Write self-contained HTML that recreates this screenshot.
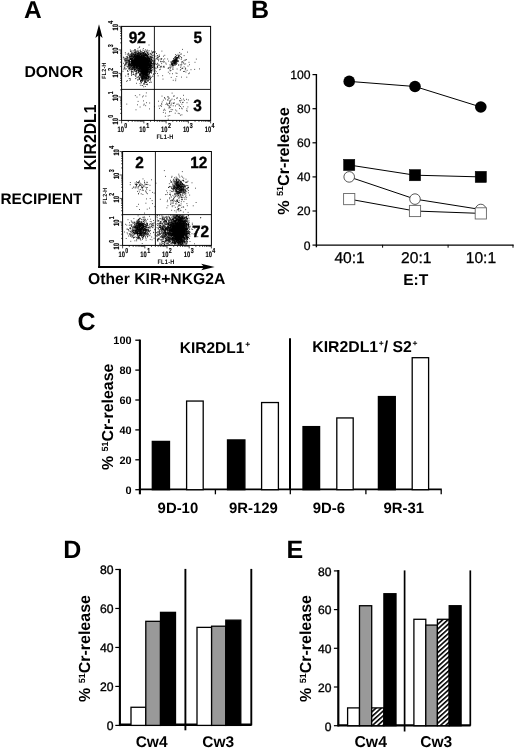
<!DOCTYPE html>
<html lang="en"><head><meta charset="utf-8"><title>Figure</title>
<style>html,body{margin:0;padding:0;background:#fff}svg{display:block;will-change:transform}</style></head>
<body>
<svg width="520" height="749" viewBox="0 0 520 749" font-family='"Liberation Sans", Arial, Helvetica, sans-serif' fill="#000" text-rendering="geometricPrecision">
<rect width="520" height="749" fill="#fff"/>
<text x="24" y="18.1" font-size="24.5" font-weight="bold" text-anchor="start" >A</text>
<text x="24.4" y="77.1" font-size="15.8" font-weight="bold" text-anchor="start" >DONOR</text>
<text x="0.4" y="204.2" font-size="15.4" font-weight="bold" text-anchor="start" >RECIPIENT</text>
<text transform="translate(95.6,170.3) scale(1.1,1) rotate(-90)" font-size="15.8" font-weight="bold">KIR2DL1</text>
<text x="88" y="283.6" font-size="15.7" font-weight="bold" text-anchor="start" >Other KIR+NKG2A</text>
<line x1="99.15" y1="30" x2="99.15" y2="267.9" stroke="#000" stroke-width="1.9"/>
<line x1="98.2" y1="267.0" x2="206" y2="267.0" stroke="#000" stroke-width="1.8"/>
<path d="M99 24.2 L102.6 38 L99 35 L95.4 38 Z"/>
<path d="M214.7 267 L201.2 263.7 L204.1 267 L201.2 270.3 Z"/>
<path d="M138.3 63.8h0.8M138.8 60.3h0.8M134.6 60.3h0.8M146.3 64.3h0.8M146.0 63.5h0.8M142.2 62.8h0.8M129.9 64.5h0.8M142.8 64.2h0.8M130.8 53.3h0.8M135.0 59.3h0.8M141.8 61.8h0.8M143.3 59.4h0.8M141.6 63.7h0.8M135.4 68.8h0.8M142.8 67.2h0.8M136.7 58.3h0.8M138.0 61.1h0.8M143.6 63.2h0.8M137.8 57.4h0.8M136.4 66.7h0.8M135.2 62.4h0.8M143.1 55.7h0.8M139.7 67.4h0.8M128.3 59.2h0.8M139.7 58.2h0.8M142.9 61.8h0.8M131.0 64.5h0.8M143.5 66.2h0.8M148.3 64.2h0.8M141.3 56.3h0.8M143.9 59.5h0.8M137.9 56.1h0.8M134.5 59.0h0.8M148.4 53.9h0.8M131.3 62.0h0.8M148.2 65.1h0.8M129.9 49.9h0.8M142.4 58.9h0.8M133.0 65.3h0.8M146.4 63.1h0.8M141.3 63.8h0.8M149.1 65.4h0.8M142.8 64.4h0.8M130.2 66.4h0.8M145.4 64.6h0.8M128.7 57.9h0.8M145.7 54.5h0.8M138.5 66.1h0.8M131.6 67.9h0.8M143.3 61.5h0.8M141.6 64.8h0.8M140.2 66.8h0.8M136.3 59.6h0.8M146.1 62.5h0.8M134.4 65.3h0.8M148.8 60.8h0.8M132.0 60.4h0.8M139.3 60.4h0.8M148.7 58.2h0.8M147.9 57.1h0.8M135.1 64.0h0.8M146.3 66.1h0.8M142.0 62.6h0.8M140.6 64.4h0.8M138.8 62.9h0.8M143.4 62.1h0.8M144.2 64.7h0.8M151.7 64.4h0.8M137.6 60.0h0.8M139.5 65.7h0.8M137.9 63.3h0.8M151.9 51.9h0.8M133.3 62.2h0.8M142.2 63.1h0.8M137.2 64.3h0.8M141.9 59.7h0.8M154.1 64.8h0.8M136.8 61.0h0.8M138.7 61.4h0.8M124.2 58.1h0.8M146.4 57.4h0.8M139.2 65.8h0.8M144.4 68.7h0.8M130.2 59.3h0.8M137.7 64.3h0.8M147.6 51.0h0.8M147.0 56.2h0.8M144.7 55.8h0.8M140.5 67.0h0.8M139.0 62.5h0.8M144.6 62.9h0.8M138.8 68.3h0.8M146.3 61.2h0.8M156.6 58.5h0.8M145.5 61.2h0.8M140.5 64.9h0.8M141.0 64.7h0.8M131.7 54.4h0.8M144.0 58.0h0.8M134.6 54.9h0.8M147.1 65.7h0.8M149.1 58.7h0.8M140.5 56.9h0.8M143.8 69.1h0.8M134.1 68.0h0.8M145.9 61.6h0.8M127.8 66.7h0.8M139.7 59.2h0.8M142.2 63.8h0.8M149.2 58.3h0.8M146.0 68.8h0.8M148.6 61.9h0.8M135.2 65.7h0.8M140.6 62.4h0.8M148.5 61.5h0.8M126.7 58.8h0.8M128.8 64.2h0.8M142.1 59.4h0.8M139.6 65.4h0.8M139.9 67.5h0.8M139.2 66.2h0.8M148.1 69.6h0.8M135.7 65.2h0.8M129.5 56.1h0.8M128.0 65.2h0.8M132.8 61.0h0.8M138.9 61.6h0.8M136.4 62.5h0.8M150.5 63.0h0.8M142.7 66.4h0.8M139.4 56.3h0.8M136.3 66.1h0.8M130.6 58.3h0.8M145.6 65.8h0.8M139.7 65.2h0.8M141.5 56.9h0.8M131.1 58.1h0.8M145.7 59.9h0.8M135.0 58.0h0.8M131.1 60.4h0.8M132.9 62.7h0.8M126.0 61.8h0.8M137.1 53.1h0.8M144.4 61.0h0.8M127.3 56.7h0.8M141.9 60.0h0.8M144.3 65.5h0.8M143.8 63.6h0.8M147.5 65.4h0.8M143.5 53.1h0.8M144.7 67.9h0.8M138.5 59.6h0.8M152.1 55.4h0.8M141.7 72.4h0.8M134.3 64.2h0.8M151.1 62.4h0.8M142.9 66.0h0.8M134.7 60.9h0.8M141.4 65.5h0.8M139.9 60.9h0.8M134.2 59.7h0.8M145.2 62.8h0.8M135.4 57.7h0.8M155.2 68.2h0.8M144.9 51.1h0.8M143.4 64.2h0.8M149.7 64.6h0.8M139.4 64.0h0.8M128.1 65.1h0.8M142.2 59.0h0.8M147.0 70.3h0.8M132.1 58.1h0.8M141.6 62.8h0.8M138.1 57.4h0.8M152.0 67.5h0.8M133.6 55.3h0.8M149.6 67.0h0.8M150.3 66.3h0.8M134.8 62.4h0.8M127.6 57.3h0.8M139.4 64.0h0.8M135.8 60.8h0.8M142.5 63.7h0.8M143.7 63.1h0.8M137.8 65.0h0.8M140.6 58.3h0.8M136.3 61.4h0.8M139.3 62.4h0.8M139.9 62.6h0.8M139.8 56.3h0.8M142.0 66.6h0.8M142.6 61.2h0.8M143.0 57.9h0.8M128.8 60.9h0.8M134.2 64.4h0.8M134.8 49.9h0.8M133.2 67.9h0.8M138.3 55.7h0.8M135.3 63.6h0.8M142.8 62.8h0.8M148.4 65.7h0.8M139.6 64.3h0.8M149.3 66.9h0.8M146.5 57.8h0.8M138.8 64.8h0.8M137.8 66.2h0.8M143.1 66.0h0.8M137.7 72.6h0.8M147.4 61.6h0.8M139.4 73.0h0.8M137.6 65.3h0.8M145.8 62.4h0.8M133.1 61.9h0.8M141.6 66.8h0.8M144.6 62.4h0.8M144.8 64.6h0.8M141.2 62.2h0.8M138.3 64.6h0.8M134.1 58.5h0.8M140.7 55.5h0.8M138.3 52.9h0.8M135.7 63.8h0.8M143.3 61.9h0.8M139.2 55.6h0.8M150.5 65.1h0.8M146.8 58.7h0.8M139.7 53.9h0.8M144.2 66.3h0.8M128.9 60.5h0.8M144.5 54.6h0.8M129.7 56.2h0.8M136.9 55.4h0.8M140.1 62.9h0.8M143.4 65.2h0.8M148.3 67.7h0.8M132.5 58.9h0.8M134.2 56.6h0.8M139.5 61.8h0.8M143.6 55.3h0.8M132.7 61.0h0.8M139.0 60.4h0.8M140.0 58.5h0.8M144.0 63.7h0.8M139.8 58.9h0.8M140.1 50.1h0.8M134.2 61.4h0.8M131.1 61.8h0.8M141.5 56.0h0.8M138.7 60.3h0.8M142.4 64.7h0.8M140.2 58.1h0.8M139.2 61.4h0.8M144.2 63.5h0.8M136.3 55.6h0.8M138.1 58.4h0.8M133.5 60.6h0.8M137.1 62.0h0.8M143.2 60.3h0.8M153.8 61.8h0.8M146.4 63.0h0.8M147.6 52.3h0.8M135.5 62.4h0.8M142.5 72.2h0.8M141.3 67.5h0.8M144.1 66.3h0.8M143.1 61.4h0.8M143.5 57.5h0.8M147.4 58.1h0.8M140.6 71.0h0.8M138.7 61.8h0.8M146.8 62.6h0.8M135.1 62.4h0.8M143.1 65.2h0.8M134.7 68.8h0.8M149.8 62.9h0.8M141.8 60.1h0.8M148.6 59.6h0.8M144.2 60.1h0.8M135.6 64.5h0.8M147.8 62.5h0.8M135.7 64.9h0.8M139.6 63.1h0.8M148.5 67.5h0.8M136.0 71.3h0.8M139.7 65.2h0.8M136.2 61.2h0.8M129.0 68.4h0.8M148.5 57.4h0.8M131.9 54.0h0.8M147.1 60.5h0.8M139.8 60.4h0.8M139.8 57.1h0.8M140.8 55.7h0.8M139.4 63.1h0.8M142.8 61.1h0.8M134.6 62.0h0.8M136.5 68.2h0.8M144.6 61.8h0.8M137.5 58.5h0.8M134.6 59.7h0.8M141.5 64.2h0.8M142.4 71.1h0.8M135.9 61.4h0.8M157.2 55.5h0.8M136.9 62.2h0.8M140.7 63.6h0.8M138.4 63.2h0.8M140.0 65.1h0.8M129.3 56.9h0.8M140.4 57.4h0.8M133.6 63.9h0.8M135.9 64.1h0.8M144.2 63.6h0.8M143.0 61.7h0.8M131.7 60.8h0.8M142.9 59.8h0.8M139.1 64.9h0.8M134.6 64.0h0.8M151.2 60.5h0.8M140.9 61.2h0.8M148.9 64.1h0.8M145.6 59.4h0.8M139.9 61.7h0.8M129.0 66.9h0.8M146.0 54.8h0.8M144.4 61.7h0.8M142.5 63.6h0.8M131.3 60.0h0.8M149.0 60.2h0.8M134.6 55.4h0.8M132.7 62.5h0.8M149.8 64.6h0.8M140.5 71.5h0.8M137.2 58.6h0.8M142.9 64.5h0.8M134.5 56.2h0.8M141.6 63.0h0.8M132.4 60.2h0.8M136.6 63.4h0.8M139.4 61.4h0.8M137.5 66.1h0.8M148.3 61.0h0.8M145.3 59.1h0.8M140.1 65.1h0.8M149.1 61.1h0.8M139.5 62.6h0.8M131.2 61.0h0.8M135.9 63.0h0.8M134.2 52.7h0.8M140.1 62.9h0.8M136.4 65.3h0.8M138.7 59.0h0.8M143.5 55.4h0.8M136.0 61.3h0.8M145.1 61.6h0.8M142.1 59.2h0.8M141.1 69.1h0.8M135.0 71.5h0.8M136.2 61.5h0.8M140.6 66.3h0.8M133.6 52.1h0.8M143.2 65.6h0.8M142.5 73.4h0.8M141.1 63.0h0.8M145.3 63.9h0.8M150.3 57.5h0.8M139.3 46.8h0.8M144.9 60.7h0.8M144.5 71.6h0.8M140.1 60.7h0.8M137.4 57.9h0.8M136.0 64.2h0.8M140.2 62.1h0.8M138.6 65.6h0.8M143.0 61.5h0.8M144.0 61.5h0.8M132.6 67.3h0.8M143.1 58.0h0.8M146.2 63.9h0.8M130.1 67.8h0.8M141.6 65.8h0.8M141.2 61.3h0.8M130.5 65.0h0.8M140.3 60.6h0.8M142.0 62.3h0.8M144.1 60.6h0.8M140.7 52.6h0.8M137.2 64.4h0.8M148.0 61.0h0.8M138.6 68.5h0.8M137.8 64.7h0.8M149.8 63.0h0.8M147.5 59.5h0.8M141.3 61.6h0.8M140.2 66.7h0.8M154.3 60.4h0.8M136.4 63.6h0.8M133.6 63.3h0.8M143.5 60.9h0.8M143.8 55.5h0.8M145.1 55.6h0.8M136.2 59.0h0.8M137.3 65.2h0.8M140.6 60.1h0.8M142.5 68.9h0.8M139.9 63.4h0.8M147.2 63.7h0.8M131.4 71.7h0.8M153.8 54.6h0.8M139.6 63.6h0.8M145.4 65.2h0.8M138.9 57.1h0.8M140.2 66.3h0.8M134.0 56.8h0.8M140.7 53.5h0.8M138.7 59.8h0.8M142.9 59.1h0.8M135.0 59.6h0.8M140.0 58.9h0.8M139.7 65.0h0.8M146.2 69.8h0.8M135.6 59.5h0.8M124.6 68.5h0.8M135.8 61.2h0.8M143.7 56.3h0.8M142.7 62.0h0.8M129.2 62.0h0.8M147.8 54.5h0.8M144.6 63.2h0.8M142.6 64.0h0.8M147.8 61.6h0.8M145.3 60.6h0.8M144.6 58.7h0.8M138.6 69.1h0.8M142.7 61.4h0.8M133.6 57.7h0.8M140.7 65.9h0.8M142.3 64.3h0.8M139.2 67.6h0.8M137.9 59.2h0.8M145.2 62.6h0.8M138.6 59.2h0.8M138.2 64.3h0.8M142.6 56.8h0.8M142.4 62.8h0.8M133.8 64.5h0.8M138.5 60.2h0.8M144.1 67.9h0.8M135.8 63.3h0.8M133.9 71.2h0.8M136.6 66.6h0.8M135.9 64.9h0.8M154.1 52.2h0.8M137.2 63.7h0.8M139.7 58.9h0.8M152.6 63.4h0.8M130.0 64.5h0.8M129.4 65.7h0.8M136.5 62.1h0.8M147.4 63.0h0.8M132.6 53.7h0.8M146.6 65.7h0.8M134.8 65.0h0.8M142.6 64.9h0.8M126.9 59.2h0.8M145.0 65.5h0.8M146.2 51.8h0.8M140.8 64.0h0.8M155.4 59.2h0.8M138.1 61.8h0.8M145.4 60.4h0.8M147.1 59.1h0.8M141.8 59.7h0.8M141.2 58.9h0.8M130.2 65.5h0.8M142.0 59.6h0.8M140.8 66.2h0.8M134.3 60.8h0.8M142.9 64.4h0.8M138.9 52.6h0.8M147.2 63.9h0.8M140.2 60.6h0.8M141.7 60.1h0.8M134.3 58.0h0.8M136.8 58.8h0.8M132.9 63.8h0.8M132.0 63.9h0.8M133.9 62.7h0.8M148.0 63.5h0.8M135.7 61.6h0.8M141.6 54.5h0.8M136.4 62.1h0.8M137.2 61.9h0.8M144.0 65.5h0.8M145.1 64.9h0.8M138.3 61.6h0.8M138.5 60.3h0.8M139.7 54.3h0.8M138.1 61.5h0.8M134.3 61.1h0.8M143.1 61.4h0.8M153.3 51.9h0.8M139.6 53.9h0.8M144.6 73.7h0.8M125.3 60.9h0.8M143.2 60.8h0.8M144.2 52.5h0.8M144.8 63.9h0.8M140.4 59.3h0.8M144.0 60.1h0.8M141.5 59.7h0.8M126.8 60.3h0.8M140.9 65.1h0.8M134.9 61.1h0.8M143.6 62.8h0.8M146.4 71.1h0.8M135.5 53.0h0.8M144.4 68.8h0.8M145.1 65.8h0.8M136.7 58.4h0.8M145.6 58.4h0.8M129.8 56.5h0.8M153.8 71.5h0.8M136.3 58.3h0.8M141.7 58.7h0.8M147.7 62.2h0.8M133.1 66.8h0.8M136.5 62.4h0.8M140.1 60.4h0.8M142.2 59.0h0.8M130.1 51.3h0.8M132.9 57.8h0.8M139.8 62.0h0.8M143.2 62.6h0.8M135.6 58.3h0.8M127.6 59.8h0.8M142.6 64.4h0.8M139.4 61.0h0.8M145.5 62.4h0.8M144.1 64.7h0.8M140.7 67.5h0.8M136.8 59.9h0.8M135.6 57.9h0.8M148.4 70.2h0.8M139.9 64.2h0.8M146.6 65.9h0.8M147.6 57.1h0.8M136.1 63.4h0.8M148.4 63.1h0.8M135.1 59.8h0.8M136.5 57.7h0.8M149.1 60.0h0.8M139.2 71.1h0.8M146.8 63.9h0.8M136.2 63.2h0.8M149.3 65.4h0.8M147.4 63.0h0.8M143.1 61.2h0.8M141.9 67.6h0.8M131.6 60.7h0.8M141.7 59.5h0.8M137.9 65.0h0.8M151.5 65.7h0.8M142.6 55.4h0.8M151.3 63.3h0.8M140.3 57.0h0.8M140.1 57.1h0.8M140.2 63.8h0.8M140.1 63.0h0.8M134.4 67.4h0.8M136.9 53.6h0.8M139.2 58.4h0.8M134.2 59.7h0.8M142.2 56.9h0.8M138.6 67.8h0.8M144.1 61.6h0.8M140.8 61.4h0.8M139.4 64.9h0.8M140.5 51.5h0.8M140.3 58.0h0.8M144.1 59.6h0.8M139.9 71.2h0.8M134.3 56.4h0.8M132.7 50.7h0.8M128.8 62.3h0.8M137.1 53.4h0.8M131.0 63.6h0.8M135.6 59.8h0.8M141.4 67.8h0.8M151.0 67.4h0.8M140.8 62.7h0.8M150.0 69.0h0.8M138.0 63.6h0.8M141.7 62.2h0.8M137.6 55.8h0.8M137.5 54.9h0.8M147.0 64.8h0.8M132.3 67.1h0.8M146.1 54.2h0.8M150.5 66.3h0.8M152.6 57.7h0.8M142.9 63.9h0.8M141.1 62.7h0.8M146.8 56.0h0.8M133.3 55.1h0.8M137.0 58.9h0.8M142.0 63.2h0.8M140.5 58.9h0.8M137.0 65.6h0.8M144.4 62.7h0.8M137.4 68.3h0.8M136.2 64.2h0.8M146.9 61.3h0.8M145.3 57.5h0.8M145.9 63.3h0.8M130.4 63.7h0.8M134.2 66.8h0.8M136.1 60.7h0.8M141.8 60.5h0.8M141.8 59.6h0.8M143.9 62.2h0.8M142.4 50.1h0.8M146.8 62.6h0.8M129.5 61.2h0.8M142.3 66.7h0.8M133.0 67.8h0.8M138.0 72.0h0.8M138.8 64.6h0.8M138.3 56.8h0.8M146.0 66.3h0.8M148.7 66.4h0.8M137.3 54.3h0.8M136.5 58.5h0.8M135.0 63.8h0.8M142.0 60.8h0.8M141.1 61.3h0.8M140.9 65.1h0.8M145.9 59.4h0.8M130.5 67.0h0.8M140.2 66.6h0.8M130.5 59.4h0.8M140.8 55.6h0.8M136.7 64.6h0.8M145.6 69.3h0.8M135.5 55.3h0.8M142.7 66.1h0.8M141.7 56.3h0.8M144.3 65.7h0.8M143.5 60.0h0.8M141.4 65.4h0.8M137.5 53.6h0.8M141.7 64.1h0.8M139.7 65.6h0.8M136.6 61.1h0.8M138.0 64.1h0.8M149.5 61.7h0.8M151.4 69.6h0.8M144.4 64.8h0.8M150.5 62.1h0.8M139.8 57.2h0.8M142.2 67.8h0.8M142.9 63.9h0.8M138.7 62.4h0.8M131.2 65.4h0.8M138.1 56.8h0.8M135.9 57.8h0.8M144.6 66.8h0.8M131.6 65.0h0.8M145.5 59.8h0.8M131.6 57.7h0.8M136.1 62.9h0.8M138.8 52.9h0.8M142.0 55.4h0.8M145.8 57.2h0.8M136.3 57.7h0.8M136.3 67.0h0.8M144.7 64.9h0.8M142.5 55.4h0.8M137.2 59.1h0.8M134.0 63.4h0.8M136.0 58.3h0.8M134.8 52.4h0.8M142.9 67.8h0.8M141.4 57.7h0.8M124.0 60.9h0.8M147.0 63.8h0.8M144.8 68.7h0.8M146.8 60.6h0.8M145.8 65.7h0.8M131.2 59.2h0.8M131.7 60.5h0.8M143.9 57.6h0.8M127.4 66.1h0.8M141.6 68.3h0.8M131.8 65.6h0.8M151.3 71.6h0.8M138.7 62.8h0.8M138.7 66.0h0.8M146.1 62.8h0.8M131.7 64.2h0.8M137.0 64.2h0.8M140.8 68.9h0.8M146.9 60.5h0.8M141.3 69.6h0.8M136.7 63.3h0.8M146.5 67.9h0.8M143.6 56.5h0.8M132.5 62.1h0.8M141.2 72.9h0.8M134.5 66.2h0.8M145.2 55.1h0.8M135.1 62.0h0.8M137.2 60.8h0.8M143.1 58.6h0.8M143.0 59.4h0.8M136.6 63.8h0.8M136.5 62.7h0.8M149.4 62.9h0.8M138.8 64.9h0.8M137.4 66.2h0.8M132.2 63.7h0.8M137.3 58.1h0.8M150.8 59.2h0.8M150.0 65.7h0.8M148.9 58.5h0.8M146.4 68.7h0.8M139.4 61.2h0.8M154.3 64.0h0.8M137.8 58.9h0.8M142.5 63.5h0.8M140.3 69.3h0.8M137.9 63.6h0.8M149.0 58.4h0.8M145.3 70.3h0.8M132.5 56.3h0.8M134.7 53.3h0.8M143.5 54.1h0.8M142.3 68.3h0.8M130.7 59.5h0.8M128.4 64.0h0.8M135.8 60.2h0.8M140.1 64.2h0.8M138.0 61.7h0.8M136.7 62.0h0.8M133.1 61.4h0.8M128.9 58.6h0.8M151.2 63.3h0.8M132.5 62.2h0.8M135.0 54.2h0.8M135.4 64.5h0.8M142.3 61.6h0.8M135.0 56.6h0.8M147.8 63.6h0.8M135.3 52.2h0.8M130.9 71.6h0.8M133.3 60.8h0.8M141.3 61.2h0.8M139.0 55.8h0.8M133.1 68.4h0.8M135.2 65.0h0.8M130.2 59.6h0.8M141.1 66.4h0.8M133.2 63.7h0.8M142.6 58.9h0.8M143.2 58.2h0.8M135.3 61.3h0.8M124.1 59.7h0.8M134.8 55.0h0.8M137.2 64.8h0.8M137.1 67.0h0.8M133.8 55.5h0.8M148.9 64.4h0.8M145.9 58.8h0.8M144.6 63.4h0.8M143.8 62.3h0.8M147.4 59.7h0.8M135.0 54.9h0.8M147.1 59.3h0.8M134.3 57.2h0.8M137.9 56.1h0.8M138.6 58.9h0.8M137.2 57.4h0.8M140.4 59.8h0.8M140.6 62.9h0.8M142.9 52.6h0.8M137.2 58.1h0.8M145.2 55.5h0.8M135.9 60.1h0.8M137.6 65.8h0.8M137.0 65.7h0.8M132.2 53.2h0.8M147.0 64.4h0.8M142.8 62.6h0.8M143.4 56.9h0.8M145.8 60.1h0.8M145.7 62.8h0.8M129.0 55.1h0.8M146.7 61.9h0.8M137.6 62.6h0.8M137.7 59.2h0.8M140.5 62.5h0.8M148.9 62.9h0.8M150.3 70.6h0.8M149.6 67.4h0.8M140.7 62.5h0.8M139.5 58.6h0.8M139.9 59.0h0.8M149.4 65.1h0.8M138.2 53.3h0.8M139.9 60.0h0.8M134.1 56.3h0.8M126.5 62.9h0.8M138.5 72.8h0.8M139.9 61.1h0.8M148.4 63.2h0.8M141.1 60.3h0.8M135.8 67.9h0.8M145.1 69.7h0.8M137.9 61.7h0.8M134.4 65.4h0.8M131.6 63.4h0.8M145.8 68.5h0.8M134.0 65.9h0.8M136.1 58.1h0.8M131.7 66.0h0.8M149.9 60.2h0.8M135.7 59.9h0.8M154.3 67.6h0.8M137.6 53.8h0.8M135.5 66.5h0.8M151.1 61.8h0.8M136.2 59.2h0.8M128.5 64.6h0.8M133.2 65.7h0.8M130.5 55.4h0.8M142.0 58.7h0.8M144.6 62.3h0.8M132.8 63.8h0.8M145.8 54.1h0.8M150.5 65.0h0.8M145.3 54.3h0.8M135.9 59.9h0.8M146.9 56.2h0.8M135.7 52.6h0.8M138.4 63.1h0.8M130.4 58.3h0.8M142.3 68.9h0.8M144.0 60.9h0.8M133.5 57.1h0.8M136.0 62.0h0.8M139.0 68.9h0.8M142.1 57.4h0.8M148.7 66.8h0.8M140.9 58.8h0.8M129.5 56.3h0.8M145.7 58.9h0.8M132.2 61.9h0.8M141.2 64.5h0.8M143.2 68.2h0.8M134.7 65.5h0.8M133.9 64.2h0.8M140.9 62.9h0.8M145.7 62.3h0.8M146.2 66.2h0.8M141.0 59.5h0.8M135.8 59.1h0.8M138.8 61.6h0.8M157.2 66.3h0.8M144.9 58.6h0.8M136.0 60.0h0.8M141.6 57.5h0.8M149.7 60.3h0.8M147.3 52.4h0.8M139.8 63.0h0.8M140.9 64.5h0.8M141.6 62.7h0.8M129.2 57.6h0.8M126.0 63.1h0.8M141.9 61.1h0.8M135.4 58.8h0.8M150.1 70.3h0.8M139.1 67.3h0.8M131.5 52.6h0.8M137.5 57.8h0.8M136.6 62.3h0.8M158.0 60.8h0.8M140.2 63.0h0.8M139.4 65.8h0.8M151.0 57.5h0.8M141.1 60.8h0.8M142.7 55.5h0.8M130.7 50.9h0.8M143.0 62.9h0.8M141.4 51.7h0.8M138.1 58.3h0.8M132.1 57.1h0.8M143.9 64.5h0.8M139.6 64.0h0.8M136.4 61.7h0.8M140.0 64.2h0.8M139.7 61.1h0.8M139.5 59.0h0.8M152.9 65.3h0.8M141.5 71.9h0.8M148.9 56.0h0.8M143.7 65.8h0.8M150.5 68.5h0.8M145.0 57.2h0.8M134.8 62.4h0.8M143.4 57.7h0.8M137.9 59.9h0.8M140.2 63.3h0.8M138.8 56.3h0.8M146.6 69.4h0.8M138.9 66.1h0.8M142.3 64.9h0.8M143.2 58.8h0.8M142.9 66.5h0.8M133.9 69.7h0.8M151.5 70.8h0.8M151.4 66.1h0.8M138.3 59.0h0.8M135.2 61.8h0.8M139.5 64.6h0.8M127.1 70.5h0.8M153.4 63.0h0.8M143.8 64.2h0.8M141.7 61.1h0.8M139.6 58.2h0.8M141.1 61.8h0.8M142.2 58.3h0.8M140.2 62.0h0.8M144.0 57.6h0.8M142.0 66.3h0.8M143.7 60.6h0.8M137.2 60.5h0.8M143.6 68.9h0.8M139.3 59.0h0.8M142.1 62.9h0.8M135.0 58.1h0.8M139.1 64.6h0.8M133.4 56.7h0.8M143.5 56.9h0.8M140.5 63.4h0.8M139.8 57.4h0.8M139.8 60.3h0.8M142.3 58.4h0.8M147.1 55.3h0.8M139.0 61.7h0.8M145.9 59.8h0.8M143.4 59.7h0.8M143.6 69.7h0.8M137.5 63.5h0.8M134.1 65.4h0.8M147.1 62.7h0.8M133.2 62.9h0.8M146.3 67.1h0.8M145.6 54.4h0.8M135.4 67.5h0.8M132.3 65.9h0.8M150.7 66.2h0.8M146.7 61.0h0.8M132.9 60.6h0.8M138.9 61.5h0.8M144.2 61.6h0.8M140.9 63.7h0.8M139.2 69.7h0.8M142.6 62.4h0.8M139.0 59.0h0.8M147.8 63.2h0.8M133.9 58.8h0.8M139.4 59.8h0.8M146.9 57.5h0.8M142.8 62.7h0.8M133.1 61.3h0.8M139.2 63.9h0.8M137.2 62.8h0.8M130.7 56.2h0.8M144.2 66.7h0.8M140.2 59.2h0.8M147.3 53.5h0.8M135.0 64.2h0.8M144.3 57.8h0.8M128.3 66.9h0.8M141.3 58.1h0.8M139.9 65.7h0.8M124.3 65.0h0.8M145.2 53.3h0.8M145.3 54.6h0.8M146.5 64.2h0.8M153.5 60.5h0.8M139.6 66.3h0.8M136.5 58.4h0.8M137.8 61.3h0.8M133.4 63.2h0.8M143.2 62.4h0.8M150.1 61.4h0.8M147.9 60.2h0.8M145.3 54.0h0.8M141.2 61.2h0.8M137.4 58.9h0.8M138.3 58.5h0.8M127.4 58.0h0.8M137.0 59.2h0.8M133.8 60.6h0.8M144.7 61.2h0.8M136.5 67.3h0.8M145.3 66.3h0.8M146.9 61.1h0.8M138.8 66.5h0.8M136.8 61.0h0.8M142.1 63.6h0.8M138.0 65.8h0.8M138.6 64.8h0.8M146.0 65.3h0.8M144.8 57.3h0.8M132.6 58.4h0.8M142.1 68.5h0.8M132.7 62.4h0.8M135.3 58.2h0.8M138.1 64.6h0.8M140.7 67.0h0.8M133.8 65.0h0.8M145.4 62.6h0.8M143.0 59.7h0.8M133.8 59.4h0.8M135.0 73.8h0.8M136.4 68.6h0.8M141.1 63.3h0.8M144.7 58.9h0.8M145.2 64.0h0.8M130.8 63.5h0.8M143.0 64.1h0.8M149.5 61.0h0.8M142.7 65.3h0.8M134.2 66.4h0.8M132.0 55.4h0.8M143.5 57.4h0.8M140.0 54.7h0.8M140.9 57.0h0.8M142.7 55.4h0.8M142.7 60.9h0.8M140.4 61.5h0.8M141.3 56.2h0.8M124.9 60.4h0.8M134.7 59.3h0.8M143.4 53.6h0.8M135.8 58.7h0.8M133.7 62.6h0.8M139.5 58.2h0.8M133.9 64.7h0.8M135.9 63.9h0.8M143.5 54.0h0.8M133.6 61.2h0.8M141.7 65.3h0.8M144.3 66.7h0.8M137.9 60.7h0.8M144.7 60.4h0.8M146.9 55.6h0.8M143.9 61.4h0.8M128.0 64.8h0.8M141.8 62.1h0.8M133.9 59.2h0.8M149.2 59.2h0.8M133.0 60.5h0.8M138.1 57.7h0.8M134.6 65.8h0.8M130.7 69.3h0.8M137.3 56.8h0.8M144.4 64.7h0.8M133.6 64.4h0.8M129.6 56.8h0.8M146.7 61.4h0.8M132.1 63.2h0.8M145.4 62.2h0.8M129.5 59.3h0.8M142.1 65.3h0.8M151.0 61.8h0.8M137.2 61.4h0.8M147.5 58.5h0.8M148.8 50.8h0.8M145.0 59.4h0.8M142.4 65.0h0.8M133.1 60.7h0.8M141.2 64.5h0.8M135.0 57.0h0.8M127.6 71.5h0.8M139.0 60.7h0.8M130.8 64.9h0.8M136.2 67.6h0.8M145.0 62.4h0.8M144.7 57.5h0.8M138.3 59.1h0.8M132.5 61.1h0.8M138.5 67.9h0.8M134.8 59.3h0.8M142.3 63.8h0.8M140.4 59.8h0.8M142.7 63.6h0.8M129.3 59.6h0.8M132.4 55.9h0.8M140.8 62.1h0.8M141.0 58.1h0.8M139.2 57.8h0.8M141.9 65.0h0.8M149.8 68.3h0.8M135.5 59.4h0.8M134.4 62.6h0.8M151.3 66.0h0.8M127.6 55.1h0.8M132.2 63.2h0.8M139.9 63.1h0.8M150.8 59.3h0.8M134.2 69.7h0.8M142.3 58.7h0.8M128.7 54.1h0.8M125.6 60.7h0.8M139.8 66.1h0.8M139.5 58.8h0.8M134.8 69.5h0.8M129.6 61.5h0.8M139.9 64.5h0.8M137.4 63.7h0.8M144.9 61.6h0.8M137.4 60.7h0.8M134.4 60.3h0.8M138.1 62.5h0.8M147.3 68.2h0.8M137.1 64.1h0.8M141.4 65.2h0.8M140.0 62.9h0.8M137.6 58.2h0.8M144.6 67.9h0.8M143.7 64.1h0.8M141.8 60.0h0.8M129.2 63.6h0.8M141.4 59.5h0.8M133.8 66.7h0.8M128.7 68.3h0.8M142.7 72.3h0.8M135.8 61.3h0.8M137.0 62.2h0.8M139.1 58.5h0.8M146.6 59.1h0.8M136.8 63.9h0.8M137.0 59.6h0.8M142.2 60.4h0.8M132.7 60.6h0.8M138.0 69.0h0.8M133.1 65.3h0.8M135.5 59.8h0.8M138.0 62.8h0.8M144.3 69.8h0.8M135.7 67.1h0.8M145.5 65.9h0.8M135.2 65.2h0.8M139.2 63.2h0.8M138.1 64.5h0.8M146.1 67.3h0.8M138.4 65.9h0.8M148.9 58.7h0.8M149.2 57.0h0.8M142.9 64.7h0.8M148.6 63.9h0.8M137.5 58.1h0.8M132.3 64.3h0.8M138.9 58.6h0.8M143.5 58.8h0.8M137.6 59.6h0.8M149.1 69.0h0.8M139.7 55.0h0.8M141.6 62.3h0.8M141.8 64.4h0.8M137.7 65.6h0.8M144.8 63.2h0.8M137.8 59.5h0.8M144.5 57.5h0.8M139.4 58.5h0.8M131.6 63.6h0.8M139.8 61.9h0.8M145.8 55.9h0.8M139.5 63.0h0.8M145.4 57.6h0.8M144.1 63.2h0.8M147.5 67.5h0.8M142.3 71.3h0.8M140.2 60.0h0.8M138.4 57.6h0.8M140.6 53.7h0.8M139.3 63.6h0.8M146.0 60.9h0.8M148.4 59.8h0.8M140.0 53.7h0.8M135.9 58.0h0.8M148.3 64.9h0.8M133.4 63.4h0.8M142.9 61.1h0.8M140.3 60.5h0.8M137.6 54.1h0.8M138.9 67.1h0.8M148.3 61.5h0.8M135.8 60.5h0.8M145.0 63.8h0.8M136.5 63.0h0.8M138.6 63.8h0.8M138.3 55.4h0.8M140.0 65.0h0.8M133.7 60.7h0.8M145.2 60.7h0.8M135.4 69.9h0.8M144.3 66.6h0.8M133.9 68.1h0.8M130.7 58.7h0.8M143.7 67.8h0.8M135.0 58.5h0.8M141.9 53.9h0.8M143.4 64.5h0.8M137.2 63.8h0.8M144.3 63.5h0.8M142.3 68.4h0.8M137.2 62.2h0.8M136.6 65.8h0.8M137.5 63.5h0.8M140.8 62.2h0.8M149.8 62.4h0.8M147.7 66.0h0.8M147.6 61.9h0.8M145.0 65.5h0.8M136.4 62.6h0.8M139.3 61.6h0.8M147.7 59.6h0.8M131.2 53.6h0.8M137.7 58.9h0.8M139.8 64.1h0.8M149.9 64.1h0.8M142.9 59.0h0.8M142.7 67.7h0.8M148.4 54.5h0.8M144.4 68.8h0.8M145.3 56.1h0.8M138.0 64.0h0.8M142.7 58.7h0.8M134.6 65.3h0.8M131.9 67.0h0.8M140.0 63.1h0.8M132.7 58.6h0.8M144.5 56.1h0.8M152.3 57.2h0.8M133.1 61.3h0.8M142.4 65.1h0.8M138.0 60.7h0.8M138.9 59.3h0.8M125.0 64.3h0.8M141.4 62.6h0.8M136.3 62.5h0.8M140.0 61.5h0.8M146.9 55.3h0.8M141.9 57.6h0.8M137.6 67.8h0.8M133.9 60.8h0.8M136.3 65.4h0.8M135.2 54.3h0.8M143.0 60.6h0.8M137.8 66.1h0.8M135.1 59.8h0.8M140.7 63.6h0.8M136.7 65.8h0.8M152.8 61.4h0.8M151.4 54.2h0.8M148.1 61.2h0.8M140.9 60.5h0.8M136.9 56.2h0.8M137.2 66.9h0.8M146.6 61.0h0.8M137.3 58.6h0.8M132.5 68.5h0.8M143.7 62.7h0.8M137.7 57.3h0.8M147.1 65.8h0.8M134.2 65.3h0.8M133.5 63.8h0.8M134.8 59.6h0.8M142.6 63.9h0.8M146.0 58.9h0.8M148.3 68.2h0.8M139.8 63.7h0.8M135.7 60.7h0.8M132.5 61.4h0.8M140.6 67.4h0.8M145.0 65.7h0.8M138.1 60.7h0.8M138.0 62.5h0.8M128.8 63.9h0.8M131.4 58.8h0.8M140.3 59.7h0.8M149.4 62.3h0.8M148.4 67.5h0.8M137.0 63.2h0.8M147.5 61.2h0.8M140.7 59.6h0.8M140.5 60.4h0.8M140.1 66.0h0.8M147.8 63.1h0.8M140.8 65.4h0.8M138.8 57.3h0.8M146.6 58.6h0.8M145.6 58.4h0.8M150.7 58.5h0.8M144.2 68.4h0.8M134.0 67.4h0.8M136.1 54.1h0.8M143.8 65.1h0.8M139.9 51.3h0.8M139.8 60.5h0.8M138.0 60.4h0.8M130.1 58.5h0.8M149.5 69.2h0.8M138.3 58.7h0.8M141.8 66.4h0.8M144.6 57.4h0.8M140.9 62.5h0.8M147.6 67.5h0.8M142.5 67.1h0.8M137.1 67.9h0.8M137.4 63.2h0.8M145.6 58.6h0.8M136.8 54.2h0.8M141.0 61.7h0.8M138.0 63.7h0.8M128.1 60.5h0.8M140.6 60.8h0.8M143.8 69.4h0.8M137.9 57.7h0.8M136.6 61.8h0.8M143.7 58.6h0.8M146.1 58.2h0.8M144.5 64.0h0.8M141.7 70.9h0.8M138.6 61.0h0.8M142.3 65.6h0.8M132.3 62.2h0.8M135.6 64.0h0.8M147.7 62.8h0.8M139.3 62.5h0.8M123.0 63.3h0.8M143.1 62.8h0.8M138.1 58.6h0.8M138.5 66.7h0.8M138.9 67.3h0.8M125.7 58.5h0.8M141.6 61.9h0.8M130.9 58.1h0.8M147.6 57.2h0.8M134.9 56.7h0.8M136.6 64.1h0.8M144.2 53.8h0.8M148.5 60.2h0.8M136.0 68.3h0.8M140.1 56.7h0.8M136.7 58.5h0.8M134.4 59.9h0.8M144.8 63.7h0.8M131.1 72.5h0.8M134.4 61.7h0.8M139.9 64.9h0.8M138.0 63.5h0.8M151.8 63.4h0.8M133.8 62.5h0.8M135.6 59.8h0.8M140.9 63.3h0.8M138.0 65.1h0.8M139.5 56.3h0.8M145.1 60.8h0.8M147.1 59.8h0.8M143.1 63.4h0.8M125.4 54.1h0.8M133.1 66.9h0.8M129.0 64.5h0.8M146.0 64.5h0.8M144.0 60.1h0.8M139.8 62.7h0.8M142.1 64.9h0.8M139.1 58.8h0.8M136.7 63.2h0.8M131.2 55.7h0.8M137.9 59.3h0.8M139.6 50.7h0.8M138.2 60.6h0.8M145.2 54.1h0.8M138.1 63.6h0.8M142.3 67.0h0.8M146.4 58.1h0.8M143.7 60.8h0.8M134.8 67.7h0.8M136.8 57.9h0.8M138.1 58.1h0.8M145.5 63.9h0.8M147.7 64.3h0.8M136.1 65.8h0.8M136.5 59.5h0.8M139.0 61.9h0.8M147.0 60.0h0.8M142.0 61.9h0.8M133.3 56.6h0.8M138.6 63.3h0.8M141.6 64.0h0.8M140.5 60.0h0.8M142.8 57.9h0.8M132.5 59.7h0.8M132.1 58.9h0.8M136.0 59.1h0.8M140.1 58.5h0.8M138.3 54.5h0.8M141.2 58.3h0.8M143.5 50.4h0.8M135.4 62.3h0.8M126.3 58.9h0.8M140.5 62.3h0.8M131.4 61.9h0.8M141.2 57.9h0.8M144.2 62.0h0.8M140.3 60.0h0.8M143.1 62.5h0.8M146.3 64.3h0.8M136.6 60.5h0.8M145.4 60.8h0.8M142.0 64.2h0.8M139.9 52.1h0.8M140.7 62.8h0.8M141.1 58.7h0.8M146.9 61.9h0.8M136.8 58.5h0.8M142.5 57.5h0.8M133.5 69.5h0.8M147.0 66.9h0.8M147.5 65.0h0.8M129.9 65.8h0.8M146.8 64.5h0.8M128.4 65.8h0.8M148.0 60.5h0.8M140.4 65.1h0.8M139.1 66.3h0.8M140.2 64.7h0.8M141.1 55.7h0.8M133.0 74.4h0.8M141.0 67.4h0.8M145.8 69.6h0.8M143.4 59.6h0.8M140.9 53.9h0.8M138.6 65.5h0.8M127.6 61.4h0.8M144.1 67.8h0.8M135.0 58.6h0.8M129.7 56.5h0.8M142.2 70.7h0.8M132.9 66.9h0.8M142.6 60.0h0.8M153.6 52.6h0.8M139.5 62.7h0.8M151.4 70.5h0.8M152.9 63.7h0.8M145.0 68.0h0.8M142.8 63.6h0.8M139.1 60.0h0.8M132.2 69.2h0.8M138.3 52.9h0.8M141.5 61.8h0.8M140.2 69.4h0.8M139.5 60.6h0.8M135.7 61.3h0.8M137.4 62.4h0.8M157.7 65.2h0.8M134.3 69.3h0.8M144.6 65.7h0.8M143.7 65.6h0.8M143.3 68.1h0.8M145.2 68.0h0.8M137.1 61.5h0.8M135.4 65.4h0.8M144.9 60.3h0.8M142.2 73.1h0.8M147.5 57.9h0.8M139.2 64.4h0.8M139.6 63.4h0.8M146.6 63.8h0.8M133.4 64.1h0.8M139.4 62.2h0.8M137.3 55.7h0.8M133.0 59.6h0.8M135.0 49.9h0.8M147.0 57.6h0.8M135.6 63.6h0.8M125.7 66.0h0.8M135.3 64.1h0.8M137.1 62.8h0.8M140.6 61.9h0.8M130.2 54.6h0.8M139.2 67.7h0.8M136.7 63.7h0.8M140.7 63.9h0.8M146.3 56.1h0.8M141.6 61.2h0.8M138.6 58.1h0.8M135.9 57.1h0.8M132.7 71.6h0.8M149.7 62.8h0.8M144.7 58.2h0.8M124.9 52.6h0.8M140.2 67.9h0.8M140.2 57.6h0.8M139.0 57.5h0.8M132.1 60.0h0.8M138.1 58.2h0.8M135.3 57.4h0.8M140.8 67.7h0.8M137.9 71.0h0.8M130.6 62.0h0.8M133.5 60.5h0.8M140.4 64.2h0.8M146.7 60.1h0.8M133.0 60.3h0.8M142.0 59.1h0.8M144.4 69.3h0.8M131.7 62.5h0.8M146.6 54.4h0.8M141.3 61.0h0.8M131.3 66.5h0.8M141.4 59.9h0.8M142.3 64.7h0.8M144.2 64.7h0.8M142.8 57.1h0.8M137.5 62.1h0.8M123.3 69.1h0.8M138.3 57.2h0.8M129.5 61.8h0.8M140.4 59.4h0.8M138.0 57.9h0.8M135.8 61.0h0.8M136.0 64.3h0.8M139.1 62.3h0.8M141.8 67.3h0.8M143.3 63.1h0.8M139.4 58.3h0.8M137.8 64.4h0.8M141.5 60.3h0.8M133.0 54.6h0.8M141.4 66.3h0.8M142.7 56.3h0.8M138.7 62.6h0.8M134.6 62.7h0.8M139.2 58.2h0.8M132.6 64.5h0.8M142.4 58.3h0.8M133.8 64.9h0.8M143.5 60.9h0.8M149.2 61.5h0.8M133.5 65.7h0.8M138.8 63.1h0.8M140.6 57.6h0.8M133.3 60.3h0.8M148.5 58.4h0.8M147.7 63.5h0.8M133.5 62.3h0.8M143.6 58.4h0.8M127.7 62.1h0.8M133.5 63.0h0.8M129.1 60.1h0.8M136.0 55.2h0.8M138.6 62.4h0.8M137.3 56.6h0.8M141.9 54.6h0.8M142.9 64.1h0.8M149.2 66.4h0.8M141.9 63.1h0.8M140.7 56.3h0.8M148.1 64.8h0.8M138.8 56.9h0.8M148.2 64.9h0.8M133.0 63.9h0.8M150.8 62.8h0.8M142.5 60.3h0.8M136.0 65.9h0.8M157.5 64.0h0.8M139.0 65.0h0.8M138.0 64.7h0.8M145.1 58.1h0.8M133.9 60.9h0.8M144.6 63.4h0.8M147.6 56.8h0.8M143.1 59.5h0.8M140.4 63.2h0.8M134.6 60.3h0.8M133.3 62.2h0.8M135.4 59.3h0.8M141.5 59.2h0.8M146.8 59.8h0.8M144.7 63.5h0.8M134.2 60.3h0.8M135.4 59.8h0.8M137.7 69.2h0.8M137.0 68.1h0.8M143.1 56.6h0.8M126.6 63.3h0.8M128.4 63.6h0.8M145.7 64.0h0.8M138.9 60.6h0.8M141.6 60.7h0.8M137.1 60.0h0.8M146.9 59.9h0.8M142.6 57.2h0.8M136.5 55.7h0.8M138.6 64.5h0.8M141.9 59.9h0.8M143.6 60.7h0.8M142.0 63.1h0.8M144.1 51.8h0.8M132.3 64.3h0.8M138.5 71.0h0.8M138.9 59.4h0.8M148.3 65.0h0.8M150.6 65.0h0.8M138.5 64.7h0.8M135.7 59.5h0.8M136.9 60.6h0.8M144.6 60.3h0.8M142.0 59.9h0.8M146.2 50.9h0.8M138.8 62.4h0.8M133.5 65.4h0.8M140.7 67.2h0.8M145.2 65.0h0.8M139.6 57.2h0.8M138.9 59.8h0.8M141.6 60.0h0.8M158.0 56.9h0.8M146.9 60.5h0.8M138.2 65.5h0.8M140.5 56.8h0.8M142.4 61.2h0.8M128.2 61.4h0.8M134.3 58.1h0.8M142.6 63.3h0.8M137.5 70.6h0.8M142.6 59.5h0.8M141.4 61.4h0.8M128.2 54.0h0.8M131.3 69.5h0.8M139.1 60.6h0.8M136.4 65.5h0.8M139.5 68.9h0.8M143.8 69.0h0.8M139.2 63.3h0.8M137.6 60.9h0.8M130.4 58.4h0.8M134.9 58.6h0.8M146.8 63.6h0.8M146.6 66.0h0.8M144.8 66.5h0.8M136.2 64.8h0.8M138.4 59.4h0.8M145.9 71.4h0.8M133.7 68.4h0.8M145.1 58.8h0.8M141.4 63.5h0.8M142.3 60.5h0.8M132.7 61.2h0.8M144.5 65.5h0.8M143.3 66.7h0.8M134.4 61.1h0.8M141.5 66.1h0.8M140.7 64.0h0.8M139.9 70.5h0.8M127.7 60.5h0.8M153.9 64.2h0.8M129.6 61.3h0.8M132.2 58.2h0.8M140.6 69.0h0.8M142.3 64.8h0.8M145.7 63.2h0.8M135.2 60.9h0.8M142.0 60.9h0.8M136.4 59.9h0.8M131.9 56.7h0.8M139.6 60.3h0.8M139.6 67.6h0.8M141.7 61.8h0.8M133.8 56.7h0.8M142.5 58.4h0.8M142.9 57.6h0.8M140.8 61.6h0.8M145.8 60.7h0.8M137.8 62.6h0.8M139.6 68.8h0.8M138.8 59.4h0.8M138.0 63.6h0.8M141.0 64.8h0.8M131.2 71.2h0.8M150.4 62.7h0.8M133.1 61.8h0.8M143.3 52.8h0.8M140.7 55.7h0.8M142.0 67.7h0.8M146.5 56.2h0.8M147.4 66.3h0.8M137.8 63.7h0.8M148.7 61.3h0.8M140.1 59.5h0.8M147.4 53.6h0.8M148.4 58.6h0.8M145.9 55.6h0.8M135.0 58.8h0.8M145.3 55.6h0.8M143.7 59.5h0.8M147.1 61.2h0.8M142.8 61.4h0.8M150.3 61.3h0.8M139.0 70.0h0.8M140.2 64.7h0.8M135.8 62.2h0.8M127.1 60.9h0.8M137.0 55.2h0.8M131.5 65.7h0.8M143.0 55.8h0.8M150.5 60.0h0.8M137.8 62.6h0.8M134.2 54.5h0.8M135.3 66.2h0.8M146.0 55.8h0.8M146.8 62.6h0.8M142.8 62.3h0.8M142.7 57.9h0.8M135.2 58.4h0.8M137.7 64.1h0.8M132.5 67.7h0.8M136.7 59.0h0.8M143.8 64.0h0.8M138.5 57.2h0.8M135.0 54.7h0.8M146.0 66.9h0.8M150.3 64.9h0.8M141.6 65.1h0.8M145.5 61.3h0.8M141.1 70.9h0.8M131.0 55.1h0.8M134.2 64.4h0.8M146.9 61.1h0.8M143.8 62.0h0.8M141.9 59.7h0.8M139.8 61.8h0.8M145.5 71.6h0.8M129.5 63.0h0.8M139.6 65.8h0.8M145.7 65.6h0.8M145.0 58.3h0.8M129.7 67.7h0.8M147.2 58.6h0.8M147.0 65.3h0.8M125.8 64.1h0.8M133.9 66.0h0.8M136.5 58.4h0.8M131.4 60.0h0.8M146.0 59.6h0.8M128.6 69.6h0.8M150.1 65.7h0.8M137.5 56.5h0.8M130.5 63.2h0.8M147.8 58.2h0.8M140.1 60.7h0.8M138.3 63.7h0.8M152.1 60.4h0.8M144.4 66.8h0.8M138.5 61.0h0.8M132.0 65.5h0.8M137.3 58.8h0.8M140.7 58.3h0.8M134.2 60.0h0.8M148.5 61.8h0.8M143.6 56.1h0.8M128.2 68.2h0.8M138.4 55.2h0.8M139.1 64.2h0.8M130.6 57.2h0.8M141.9 58.1h0.8M144.1 66.2h0.8M142.7 60.3h0.8M140.0 59.2h0.8M139.1 63.0h0.8M137.9 65.6h0.8M154.9 61.0h0.8M141.6 65.4h0.8M143.8 61.2h0.8M136.9 65.7h0.8M143.3 64.2h0.8M135.2 64.0h0.8M144.6 61.5h0.8M142.8 71.1h0.8M129.1 63.2h0.8M133.9 55.5h0.8M138.4 63.9h0.8M140.8 57.0h0.8M132.1 58.7h0.8M140.4 58.4h0.8M130.7 68.2h0.8M135.3 60.7h0.8M137.1 59.1h0.8M140.4 60.6h0.8M144.0 57.3h0.8M130.8 69.0h0.8M139.3 64.9h0.8M146.5 64.8h0.8M140.9 55.4h0.8M130.5 64.9h0.8M143.6 64.5h0.8M131.5 52.0h0.8M134.5 56.3h0.8M141.3 57.7h0.8M149.3 60.1h0.8M136.4 65.1h0.8M142.2 58.3h0.8M143.9 70.2h0.8M133.1 60.1h0.8M134.7 53.1h0.8M143.3 65.1h0.8M145.4 64.1h0.8M128.5 60.5h0.8M136.7 56.5h0.8M133.4 64.3h0.8M137.5 69.8h0.8M143.5 54.1h0.8M144.6 67.5h0.8M140.7 56.8h0.8M150.6 57.4h0.8M140.3 53.8h0.8M133.6 54.0h0.8M145.7 67.3h0.8M138.3 55.9h0.8M139.5 63.3h0.8M131.8 56.1h0.8M139.1 64.7h0.8M140.2 63.7h0.8M133.9 50.7h0.8M142.2 58.2h0.8M139.4 60.2h0.8M143.1 58.9h0.8M148.3 62.8h0.8M142.8 64.7h0.8M145.8 64.1h0.8M130.2 58.2h0.8M150.5 64.8h0.8M143.0 64.1h0.8M136.6 58.6h0.8M135.8 66.3h0.8M141.3 69.5h0.8M142.1 70.0h0.8M143.1 57.1h0.8M149.9 64.2h0.8M146.8 63.4h0.8M138.0 62.3h0.8M134.0 56.1h0.8M135.1 59.1h0.8M132.2 60.6h0.8M140.9 70.5h0.8M150.6 62.7h0.8M145.2 61.4h0.8M142.3 61.9h0.8M136.9 61.8h0.8M131.3 62.8h0.8M138.8 57.1h0.8M137.7 63.9h0.8M135.9 63.4h0.8M142.6 68.7h0.8M133.8 60.7h0.8M142.3 68.4h0.8M141.2 65.1h0.8M131.8 58.5h0.8M149.7 61.6h0.8M152.8 60.0h0.8M139.1 54.9h0.8M143.6 63.3h0.8M151.6 63.7h0.8M139.1 55.7h0.8M139.1 65.7h0.8M143.8 67.4h0.8M145.0 62.1h0.8M143.4 62.9h0.8M131.6 68.3h0.8M142.6 57.6h0.8M142.1 63.2h0.8M145.2 68.5h0.8M149.3 58.7h0.8M129.1 61.9h0.8M141.8 63.5h0.8M133.8 59.2h0.8M140.8 65.1h0.8M152.6 64.3h0.8M137.5 51.5h0.8M146.3 61.9h0.8M139.8 57.5h0.8M145.0 54.6h0.8M140.6 62.4h0.8M141.2 67.5h0.8M139.4 62.1h0.8M145.6 55.7h0.8M138.3 61.9h0.8M145.9 59.0h0.8M144.5 63.9h0.8M132.0 54.7h0.8M131.6 61.6h0.8M140.9 65.0h0.8M145.0 59.9h0.8M145.9 65.9h0.8M142.5 64.1h0.8M132.3 62.6h0.8M134.5 56.1h0.8M137.9 62.2h0.8M139.8 60.4h0.8M134.1 62.0h0.8M136.3 55.4h0.8M139.9 68.0h0.8M138.1 57.0h0.8M147.4 69.9h0.8M138.4 60.7h0.8M140.0 74.5h0.8M140.4 66.1h0.8M143.4 54.3h0.8M134.1 55.9h0.8M142.5 62.5h0.8M150.6 61.7h0.8M141.8 62.3h0.8M139.8 71.7h0.8M141.0 68.2h0.8M147.8 60.0h0.8M144.2 60.6h0.8M140.6 62.5h0.8M140.3 59.8h0.8M149.2 61.6h0.8M143.4 69.4h0.8M143.2 66.5h0.8M147.7 67.3h0.8M150.7 56.7h0.8M151.5 63.1h0.8M130.0 58.0h0.8M131.8 60.9h0.8M131.7 56.6h0.8M141.7 62.6h0.8M135.4 60.3h0.8M139.4 62.1h0.8M140.1 60.9h0.8M145.8 55.5h0.8M137.0 62.1h0.8M137.9 59.2h0.8M137.3 62.4h0.8M147.4 61.7h0.8M138.3 63.2h0.8M139.4 53.4h0.8M141.7 60.3h0.8M136.4 64.1h0.8M140.5 59.4h0.8M128.0 53.2h0.8M140.1 61.3h0.8M142.5 63.0h0.8M137.7 56.1h0.8M133.6 60.6h0.8M132.9 64.4h0.8M133.0 53.4h0.8M139.6 54.1h0.8M150.0 58.5h0.8M139.8 60.7h0.8M135.9 53.8h0.8M128.7 64.4h0.8M145.1 71.7h0.8M131.2 63.3h0.8M139.6 65.4h0.8M136.7 64.6h0.8M145.0 64.9h0.8M148.6 61.9h0.8M149.4 59.7h0.8M151.0 51.0h0.8M140.4 58.4h0.8M139.6 66.2h0.8M144.2 62.6h0.8M150.6 56.5h0.8M134.6 67.8h0.8M142.8 53.1h0.8M142.5 56.9h0.8M148.2 67.6h0.8M136.2 67.0h0.8M134.7 65.2h0.8M143.5 61.6h0.8M131.8 59.8h0.8M126.8 58.0h0.8M128.6 65.9h0.8M135.4 50.8h0.8M143.3 63.7h0.8M136.1 70.6h0.8M144.5 62.5h0.8M137.5 48.8h0.8M142.4 66.2h0.8M137.1 55.4h0.8M140.5 54.6h0.8M139.7 65.1h0.8M148.7 63.8h0.8M140.8 65.1h0.8M148.4 61.3h0.8M133.1 57.7h0.8M133.0 57.3h0.8M139.1 63.2h0.8M140.9 62.2h0.8M137.7 63.4h0.8M144.9 65.6h0.8M148.9 61.4h0.8M137.8 68.9h0.8M141.0 63.7h0.8M137.6 65.7h0.8M138.1 57.3h0.8M139.8 59.9h0.8M145.1 60.7h0.8M140.8 60.9h0.8M142.3 59.3h0.8M147.1 56.4h0.8M138.0 58.5h0.8M143.8 62.4h0.8M143.0 60.7h0.8M136.3 56.6h0.8M138.3 59.3h0.8M141.5 63.5h0.8M145.8 61.9h0.8M136.1 56.8h0.8M140.2 63.4h0.8M151.4 63.7h0.8M149.5 70.8h0.8M133.3 66.4h0.8M146.1 68.2h0.8M139.5 65.9h0.8M137.2 61.2h0.8M139.3 69.4h0.8M138.3 65.8h0.8M140.7 58.8h0.8M141.1 64.8h0.8M135.5 64.1h0.8M136.2 57.6h0.8M141.4 60.9h0.8M134.9 54.2h0.8M140.0 62.9h0.8M137.2 62.3h0.8M130.9 62.6h0.8M142.3 63.2h0.8M136.4 61.8h0.8M140.3 66.5h0.8M141.5 63.0h0.8M135.4 65.1h0.8M147.1 60.4h0.8M143.6 63.5h0.8M140.3 56.3h0.8M151.1 54.9h0.8M141.9 60.4h0.8M146.9 60.7h0.8M140.0 64.4h0.8M142.9 59.8h0.8M143.8 63.9h0.8M146.0 60.2h0.8M139.9 60.1h0.8M135.0 62.4h0.8M141.8 68.1h0.8M137.9 63.3h0.8M146.7 62.0h0.8M140.3 62.4h0.8M136.4 57.2h0.8M146.5 63.2h0.8M140.1 56.5h0.8M140.2 66.9h0.8M133.6 57.3h0.8M145.9 68.6h0.8M149.3 60.4h0.8M143.8 59.0h0.8M143.2 60.6h0.8M140.6 67.6h0.8M142.1 61.0h0.8M140.2 63.0h0.8M136.9 62.4h0.8M142.8 68.8h0.8M128.5 55.5h0.8M132.4 64.8h0.8M154.2 64.1h0.8M140.2 66.7h0.8M125.8 59.6h0.8M137.2 59.4h0.8M142.2 59.5h0.8M146.5 62.4h0.8M141.1 72.8h0.8M137.0 65.5h0.8M134.6 66.6h0.8M145.6 63.0h0.8M145.1 69.2h0.8M148.0 62.6h0.8M139.2 66.5h0.8M131.7 58.4h0.8M142.6 64.5h0.8M150.1 70.4h0.8M141.7 63.9h0.8M132.4 60.2h0.8M141.6 61.0h0.8M140.1 64.4h0.8M134.7 58.8h0.8M129.2 65.6h0.8M134.6 54.0h0.8M144.6 61.3h0.8M145.8 60.8h0.8M152.0 66.1h0.8M140.8 62.4h0.8M138.5 65.1h0.8M151.8 61.2h0.8M133.4 63.7h0.8M146.8 56.1h0.8M136.4 57.2h0.8M143.0 64.3h0.8M136.2 56.6h0.8M144.8 53.5h0.8M143.8 61.5h0.8M150.7 67.1h0.8M136.8 60.3h0.8M138.7 58.6h0.8M140.1 65.9h0.8M131.4 60.0h0.8M148.3 65.8h0.8M135.6 57.9h0.8M135.7 54.5h0.8M146.6 62.8h0.8M136.6 55.3h0.8M138.0 59.4h0.8M150.1 60.9h0.8M140.2 66.4h0.8M143.9 61.4h0.8M126.8 66.4h0.8M143.6 60.3h0.8M139.9 57.7h0.8M135.4 55.0h0.8M142.7 64.3h0.8M140.7 65.2h0.8M143.0 62.6h0.8M134.7 63.8h0.8M146.6 65.1h0.8M147.4 60.5h0.8M133.8 66.5h0.8M136.5 62.5h0.8M138.9 61.8h0.8M138.7 59.4h0.8M128.9 68.8h0.8M142.0 53.8h0.8M135.2 56.5h0.8M136.8 50.7h0.8M142.6 69.0h0.8M138.3 64.8h0.8M144.0 56.9h0.8M147.7 55.4h0.8M136.8 60.0h0.8M147.2 63.0h0.8M139.6 58.4h0.8M140.5 62.0h0.8M143.6 68.1h0.8M144.2 62.3h0.8M138.4 68.4h0.8M141.2 61.8h0.8M149.7 69.4h0.8M143.3 61.7h0.8M135.9 65.9h0.8M137.0 65.6h0.8M135.5 61.8h0.8M142.3 62.6h0.8M141.2 63.5h0.8M134.0 56.5h0.8M138.4 69.3h0.8M139.7 57.9h0.8M136.2 61.6h0.8M147.0 60.1h0.8M143.1 62.9h0.8M138.4 57.6h0.8M139.4 58.7h0.8M143.8 54.7h0.8M146.2 65.6h0.8M142.7 68.4h0.8M144.2 55.0h0.8M140.1 63.7h0.8M136.6 56.7h0.8M142.3 64.2h0.8M137.7 60.5h0.8M137.3 59.1h0.8M139.2 66.3h0.8M130.9 59.5h0.8M149.1 64.1h0.8M140.5 65.4h0.8M134.8 56.2h0.8M131.1 54.8h0.8M141.1 65.5h0.8M137.9 58.7h0.8M142.1 64.6h0.8M142.3 54.0h0.8M137.9 50.9h0.8M141.7 58.4h0.8M135.6 67.7h0.8M147.4 64.6h0.8M141.5 62.7h0.8M136.7 61.3h0.8M151.3 59.2h0.8M136.1 62.1h0.8M144.8 65.8h0.8M134.5 60.7h0.8M139.0 56.5h0.8M140.6 59.8h0.8M145.1 64.1h0.8M135.5 61.7h0.8M138.2 59.0h0.8M136.8 66.0h0.8M138.4 54.4h0.8M135.2 64.7h0.8M152.7 58.6h0.8M138.1 60.2h0.8M131.8 62.7h0.8M139.6 62.9h0.8M152.9 62.0h0.8M144.2 65.7h0.8M136.6 59.0h0.8M148.6 65.7h0.8M141.3 57.3h0.8M144.8 64.5h0.8M151.9 69.2h0.8M144.5 63.4h0.8M140.6 59.5h0.8M141.7 63.0h0.8M143.3 66.7h0.8M142.0 59.7h0.8M144.0 68.7h0.8M135.1 63.1h0.8M142.9 64.3h0.8M142.9 61.7h0.8M138.7 68.8h0.8M150.5 57.0h0.8M125.3 62.2h0.8M136.4 59.3h0.8M130.8 62.4h0.8M139.9 59.5h0.8M144.1 72.4h0.8M147.9 67.5h0.8M137.4 64.3h0.8M139.3 66.6h0.8M143.3 62.0h0.8M143.5 59.1h0.8M143.9 68.5h0.8M137.7 63.9h0.8M130.1 64.7h0.8M145.4 58.1h0.8M149.9 63.3h0.8M130.7 55.1h0.8M145.1 61.2h0.8M146.9 56.0h0.8M139.0 65.8h0.8M135.9 64.2h0.8M137.8 63.0h0.8M140.9 71.3h0.8M132.6 64.3h0.8M148.0 57.9h0.8M139.5 71.4h0.8M147.2 50.1h0.8M139.4 54.6h0.8M142.0 59.0h0.8M137.1 58.0h0.8M141.9 60.0h0.8M134.9 60.3h0.8M142.7 58.5h0.8M147.0 55.5h0.8M142.5 60.4h0.8M149.2 60.0h0.8M136.8 55.8h0.8M151.1 65.5h0.8M134.0 59.8h0.8M133.9 67.6h0.8M143.2 53.6h0.8M140.8 65.7h0.8M139.8 63.8h0.8M139.3 62.6h0.8M141.5 59.0h0.8M141.9 62.7h0.8M140.1 58.9h0.8M134.1 62.2h0.8M145.7 52.2h0.8M136.4 67.1h0.8M145.5 59.4h0.8M148.1 58.5h0.8M134.7 69.4h0.8M137.6 60.7h0.8M131.0 56.7h0.8M133.3 60.6h0.8M129.1 65.2h0.8M138.2 59.1h0.8M136.1 64.5h0.8M148.9 61.0h0.8M148.5 69.4h0.8M147.5 63.8h0.8M131.2 63.8h0.8M137.6 62.4h0.8M139.5 70.0h0.8M145.2 66.4h0.8M145.4 80.6h0.8M145.2 67.8h0.8M151.1 59.8h0.8M142.1 73.7h0.8M143.0 59.0h0.8M145.3 76.0h0.8M142.4 79.5h0.8M146.0 78.0h0.8M140.4 71.5h0.8M149.0 82.5h0.8M148.2 71.5h0.8M145.1 68.1h0.8M147.6 67.7h0.8M144.9 60.2h0.8M140.5 81.2h0.8M144.8 72.7h0.8M138.6 71.3h0.8M150.3 63.3h0.8M138.1 70.6h0.8M143.1 70.4h0.8M141.2 64.1h0.8M141.2 75.0h0.8M144.5 76.0h0.8M141.7 74.7h0.8M143.4 72.0h0.8M147.2 71.7h0.8M143.6 62.4h0.8M144.8 75.8h0.8M142.9 71.1h0.8M139.8 64.2h0.8M145.7 78.6h0.8M143.8 62.3h0.8M143.6 62.9h0.8M143.8 82.1h0.8M145.4 70.7h0.8M147.4 69.4h0.8M145.5 72.6h0.8M145.8 63.4h0.8M146.5 76.3h0.8M138.3 56.6h0.8M142.1 79.7h0.8M144.7 75.2h0.8M146.1 76.4h0.8M142.8 68.3h0.8M145.6 74.8h0.8M146.2 73.4h0.8M143.3 77.6h0.8M145.9 77.4h0.8M137.6 77.1h0.8M137.9 72.7h0.8M142.8 72.2h0.8M143.3 69.8h0.8M145.1 73.4h0.8M142.4 57.6h0.8M142.4 74.5h0.8M142.3 73.9h0.8M143.6 66.3h0.8M147.8 80.7h0.8M144.3 71.2h0.8M147.2 64.2h0.8M142.2 77.8h0.8M147.1 68.8h0.8M142.5 73.4h0.8M140.7 68.7h0.8M144.0 57.9h0.8M146.2 75.7h0.8M147.6 63.5h0.8M141.0 67.0h0.8M141.0 82.9h0.8M141.9 69.8h0.8M145.2 74.0h0.8M148.6 65.5h0.8M147.0 72.3h0.8M141.4 72.3h0.8M140.7 80.5h0.8M142.6 77.1h0.8M148.2 68.1h0.8M142.1 72.2h0.8M141.7 76.5h0.8M145.1 67.3h0.8M142.7 75.5h0.8M140.6 80.9h0.8M142.4 70.4h0.8M142.0 80.5h0.8M146.9 78.7h0.8M146.4 72.0h0.8M149.3 75.2h0.8M145.8 74.7h0.8M146.6 73.1h0.8M144.1 62.6h0.8M150.3 64.3h0.8M138.6 67.5h0.8M150.0 78.3h0.8M142.9 73.0h0.8M144.5 60.4h0.8M143.7 73.1h0.8M147.9 64.8h0.8M138.3 62.7h0.8M145.5 72.0h0.8M145.0 72.3h0.8M143.6 63.9h0.8M145.9 73.7h0.8M146.2 78.5h0.8M141.1 58.4h0.8M139.6 83.5h0.8M142.0 73.7h0.8M144.6 75.6h0.8M153.6 68.6h0.8M144.1 68.2h0.8M145.3 74.4h0.8M141.9 78.9h0.8M147.8 74.0h0.8M144.3 70.2h0.8M140.0 75.2h0.8M141.9 68.7h0.8M147.4 66.4h0.8M143.1 76.3h0.8M149.8 67.6h0.8M147.7 67.8h0.8M145.7 74.2h0.8M141.4 77.2h0.8M149.6 71.8h0.8M145.4 64.9h0.8M149.6 71.9h0.8M141.0 75.8h0.8M140.5 67.7h0.8M138.6 79.2h0.8M150.8 67.9h0.8M142.8 68.3h0.8M143.0 74.6h0.8M148.7 65.9h0.8M145.8 61.4h0.8M148.9 71.0h0.8M142.6 80.1h0.8M144.3 79.2h0.8M147.6 80.8h0.8M142.4 71.8h0.8M145.6 70.4h0.8M148.9 67.5h0.8M147.4 79.1h0.8M139.1 66.1h0.8M142.1 68.4h0.8M145.7 70.5h0.8M144.8 68.9h0.8M144.4 74.2h0.8M146.7 67.1h0.8M144.3 67.2h0.8M144.1 63.5h0.8M147.3 75.3h0.8M144.3 67.7h0.8M143.3 67.8h0.8M140.3 80.6h0.8M153.8 64.6h0.8M141.3 74.7h0.8M146.3 62.7h0.8M139.2 74.5h0.8M139.0 79.5h0.8M143.2 72.0h0.8M144.6 68.4h0.8M144.2 69.8h0.8M148.1 71.0h0.8M144.5 68.5h0.8M142.8 67.4h0.8M144.6 81.8h0.8M147.7 72.8h0.8M149.3 77.2h0.8M145.2 70.6h0.8M141.5 72.9h0.8M143.7 62.6h0.8M141.0 82.3h0.8M145.2 74.3h0.8M145.2 68.9h0.8M145.9 77.6h0.8M143.7 74.4h0.8M147.5 68.8h0.8M145.1 67.4h0.8M146.3 69.4h0.8M147.8 67.2h0.8M149.3 69.8h0.8M142.2 66.4h0.8M146.5 66.7h0.8M149.7 78.7h0.8M146.1 63.5h0.8M144.5 67.4h0.8M139.5 73.9h0.8M150.8 68.5h0.8M146.9 78.7h0.8M141.9 69.6h0.8M145.4 74.1h0.8M141.4 72.7h0.8M144.3 76.8h0.8M140.1 68.3h0.8M143.2 69.7h0.8M146.6 68.0h0.8M152.3 67.5h0.8M147.0 77.2h0.8M147.3 70.4h0.8M142.3 70.1h0.8M146.5 72.2h0.8M146.2 74.7h0.8M142.1 66.3h0.8M148.6 68.8h0.8M140.2 81.9h0.8M142.3 66.3h0.8M147.3 65.2h0.8M142.2 77.4h0.8M142.3 85.5h0.8M144.9 86.5h0.8M145.0 71.8h0.8M142.8 70.3h0.8M143.2 71.4h0.8M146.8 64.4h0.8M142.0 59.8h0.8M148.8 71.1h0.8M144.6 71.2h0.8M147.4 73.3h0.8M147.0 70.6h0.8M144.3 71.2h0.8M139.4 77.6h0.8M140.2 65.9h0.8M146.5 71.8h0.8M146.9 81.1h0.8M149.8 79.2h0.8M144.0 83.0h0.8M142.1 71.0h0.8M147.4 70.3h0.8M144.3 69.5h0.8M148.4 57.7h0.8M148.2 77.4h0.8M144.4 74.6h0.8M141.9 77.7h0.8M153.2 66.4h0.8M148.5 71.2h0.8M143.7 68.8h0.8M144.1 64.5h0.8M140.8 80.8h0.8M144.6 74.6h0.8M145.5 74.2h0.8M140.3 66.2h0.8M146.4 77.1h0.8M141.4 68.3h0.8M141.6 75.2h0.8M145.6 71.7h0.8M142.8 73.4h0.8M144.7 67.3h0.8M145.5 67.8h0.8M147.3 75.0h0.8M142.7 74.8h0.8M144.8 67.5h0.8M142.0 62.2h0.8M141.4 73.4h0.8M148.0 68.0h0.8M145.0 73.4h0.8M146.8 74.0h0.8M148.0 75.8h0.8M142.5 73.7h0.8M138.0 70.5h0.8M144.7 74.7h0.8M143.8 76.2h0.8M148.3 66.8h0.8M143.1 73.0h0.8M146.0 72.3h0.8M146.9 64.9h0.8M146.8 78.0h0.8M147.7 73.9h0.8M143.9 73.7h0.8M144.4 62.6h0.8M142.9 71.3h0.8M143.2 66.3h0.8M144.0 69.4h0.8M144.8 71.2h0.8M145.1 77.1h0.8M145.0 73.8h0.8M141.2 55.0h0.8M143.5 75.3h0.8M143.7 68.0h0.8M141.1 76.5h0.8M143.1 72.9h0.8M147.8 74.5h0.8M150.9 70.8h0.8M147.3 75.4h0.8M142.8 71.8h0.8M143.0 65.8h0.8M145.4 67.2h0.8M149.3 67.4h0.8M143.1 72.0h0.8M143.1 71.8h0.8M142.9 63.5h0.8M137.8 64.3h0.8M148.9 74.0h0.8M145.0 68.9h0.8M144.2 73.2h0.8M140.7 67.0h0.8M142.1 78.6h0.8M141.6 78.1h0.8M143.3 86.8h0.8M144.4 71.7h0.8M148.4 76.4h0.8M147.2 65.5h0.8M147.8 80.9h0.8M144.3 68.8h0.8M141.5 77.2h0.8M145.4 71.5h0.8M141.1 80.6h0.8M147.1 71.4h0.8M148.7 66.2h0.8M147.1 65.9h0.8M148.6 70.0h0.8M148.0 69.2h0.8M145.7 77.9h0.8M142.1 72.0h0.8M142.3 76.3h0.8M142.9 69.4h0.8M144.0 78.0h0.8M141.7 71.4h0.8M143.7 68.4h0.8M142.4 70.6h0.8M145.1 62.8h0.8M145.3 64.9h0.8M144.6 84.3h0.8M141.9 71.1h0.8M143.9 77.0h0.8M143.3 61.5h0.8M140.1 72.5h0.8M145.3 77.5h0.8M143.1 75.2h0.8M141.6 78.8h0.8M144.4 67.7h0.8M145.1 81.3h0.8M142.2 64.6h0.8M141.8 65.0h0.8M144.5 73.5h0.8M144.1 72.6h0.8M147.9 69.9h0.8M141.1 58.7h0.8M145.3 67.7h0.8M143.9 73.8h0.8M145.9 62.7h0.8M141.9 71.9h0.8M144.2 77.9h0.8M143.2 59.9h0.8M147.9 62.3h0.8M141.9 73.7h0.8M141.6 85.4h0.8M145.3 74.5h0.8M143.4 83.9h0.8M146.1 67.5h0.8M148.1 62.0h0.8M143.0 73.1h0.8M145.0 66.1h0.8M149.0 79.7h0.8M142.0 73.6h0.8M142.8 69.1h0.8M147.4 72.2h0.8M144.3 72.1h0.8M141.3 78.3h0.8M142.5 78.8h0.8M143.3 68.9h0.8M148.8 72.6h0.8M142.8 68.5h0.8M146.3 82.0h0.8M146.3 69.3h0.8M141.5 67.7h0.8M144.3 72.9h0.8M142.8 78.7h0.8M141.9 67.5h0.8M146.0 74.2h0.8M143.5 76.9h0.8M140.7 80.6h0.8M150.7 82.4h0.8M144.9 82.5h0.8M144.8 78.9h0.8M144.0 72.6h0.8M146.1 61.7h0.8M144.0 81.1h0.8M136.4 73.7h0.8M147.2 73.3h0.8M145.1 79.3h0.8M145.5 60.9h0.8M142.0 69.8h0.8M145.0 69.0h0.8M144.3 80.8h0.8M136.4 77.9h0.8M147.2 74.9h0.8M144.6 71.9h0.8M145.6 72.9h0.8M142.6 75.9h0.8M142.3 71.3h0.8M143.6 65.1h0.8M146.3 71.1h0.8M141.3 71.1h0.8M140.7 79.5h0.8M146.0 82.6h0.8M143.0 75.4h0.8M141.9 66.7h0.8M144.4 73.8h0.8M147.2 70.0h0.8M147.7 76.9h0.8M142.2 70.5h0.8M142.0 81.0h0.8M143.1 76.4h0.8M147.2 70.1h0.8M143.2 73.4h0.8M142.4 64.4h0.8M141.9 73.4h0.8M145.1 81.3h0.8M139.5 74.3h0.8M141.4 77.9h0.8M146.5 72.2h0.8M148.7 69.4h0.8M143.1 65.6h0.8M142.8 72.1h0.8M146.5 78.6h0.8M143.9 67.4h0.8M143.7 69.1h0.8M143.3 69.3h0.8M142.2 71.2h0.8M143.2 70.6h0.8M140.7 72.3h0.8M146.2 75.1h0.8M143.1 65.2h0.8M141.0 65.0h0.8M142.8 69.8h0.8M139.7 75.2h0.8M140.3 67.7h0.8M142.6 76.1h0.8M149.7 69.5h0.8M143.8 69.3h0.8M144.0 70.6h0.8M151.5 65.5h0.8M144.3 67.1h0.8M145.6 68.6h0.8M146.2 65.5h0.8M150.5 72.7h0.8M139.7 75.4h0.8M143.3 65.1h0.8M145.8 68.6h0.8M146.6 68.5h0.8M147.1 72.3h0.8M145.6 72.4h0.8M143.6 69.5h0.8M145.9 75.4h0.8M143.5 83.9h0.8M149.3 65.2h0.8M147.6 71.1h0.8M145.2 67.1h0.8M149.2 66.9h0.8M144.4 67.5h0.8M149.9 78.4h0.8M141.0 69.0h0.8M145.6 69.1h0.8M143.6 65.6h0.8M145.3 65.5h0.8M146.9 84.7h0.8M143.7 80.6h0.8M145.6 67.8h0.8M143.6 66.2h0.8M144.9 75.4h0.8M147.2 70.0h0.8M141.3 71.1h0.8M149.2 73.1h0.8M144.4 60.1h0.8M143.4 74.5h0.8M142.0 78.9h0.8M143.0 66.7h0.8M143.0 71.0h0.8M147.4 68.4h0.8M139.7 71.1h0.8M146.0 80.0h0.8M141.5 79.7h0.8M146.5 74.0h0.8M142.5 66.7h0.8M142.0 76.6h0.8M145.2 77.4h0.8M149.6 71.6h0.8M144.5 82.1h0.8M141.0 69.1h0.8M143.6 69.4h0.8M145.0 66.9h0.8M147.8 64.0h0.8M142.4 62.2h0.8M140.7 74.7h0.8M146.3 70.4h0.8M146.9 74.9h0.8M143.0 71.3h0.8M145.6 82.6h0.8M143.4 73.6h0.8M146.1 78.2h0.8M145.8 77.4h0.8M141.7 70.1h0.8M139.3 71.3h0.8M151.0 72.9h0.8M144.8 73.0h0.8M145.0 64.3h0.8M142.7 70.6h0.8M145.1 66.8h0.8M144.3 67.5h0.8M141.0 67.9h0.8M142.4 76.1h0.8M148.3 74.7h0.8M144.0 68.5h0.8M140.3 68.7h0.8M148.9 77.8h0.8M145.2 70.2h0.8M144.6 73.8h0.8M144.6 73.9h0.8M142.5 71.8h0.8M143.6 77.4h0.8M141.2 78.6h0.8M144.4 68.8h0.8M144.7 72.2h0.8M144.0 73.9h0.8M143.0 62.3h0.8M146.5 71.4h0.8M149.2 73.7h0.8M139.1 78.3h0.8M142.7 74.5h0.8M150.7 77.5h0.8M141.6 71.0h0.8M140.2 75.2h0.8M146.1 65.9h0.8M145.8 76.6h0.8M146.8 67.9h0.8M142.7 65.4h0.8M141.0 73.3h0.8M144.7 78.6h0.8M145.4 69.8h0.8M140.7 80.0h0.8M145.1 71.4h0.8M141.8 65.8h0.8M146.3 66.2h0.8M146.2 75.0h0.8M143.6 62.7h0.8M145.7 79.2h0.8M142.3 64.7h0.8M147.6 72.3h0.8M142.9 78.2h0.8M143.8 74.0h0.8M143.5 67.5h0.8M145.2 66.9h0.8M139.7 68.6h0.8M148.0 77.5h0.8M150.6 77.0h0.8M149.0 72.9h0.8M143.4 74.1h0.8M142.0 75.6h0.8M143.4 73.0h0.8M142.3 70.8h0.8M147.3 70.4h0.8M142.7 73.1h0.8M147.0 70.5h0.8M141.4 63.1h0.8M140.9 77.3h0.8M144.4 74.2h0.8M147.6 73.1h0.8M145.9 68.8h0.8M140.2 75.0h0.8M144.3 74.7h0.8M141.7 70.8h0.8M150.1 67.0h0.8M144.9 78.7h0.8M144.0 72.2h0.8M138.8 75.8h0.8M143.4 78.5h0.8M144.4 69.5h0.8M145.8 70.3h0.8M143.2 79.9h0.8M147.3 72.2h0.8M146.8 76.0h0.8M146.2 71.8h0.8M144.8 73.8h0.8M146.2 73.5h0.8M143.1 71.2h0.8M145.9 66.3h0.8M144.6 75.7h0.8M145.1 70.0h0.8M144.5 69.0h0.8M147.3 69.5h0.8M140.0 65.1h0.8M145.4 72.7h0.8M143.3 64.5h0.8M144.2 67.1h0.8M142.8 71.6h0.8M142.5 73.3h0.8M142.6 69.1h0.8M144.0 79.4h0.8M148.9 76.7h0.8M142.6 71.6h0.8M147.1 75.9h0.8M140.1 71.3h0.8M142.6 75.6h0.8M146.3 68.7h0.8M150.5 70.1h0.8M151.3 70.7h0.8M144.4 81.8h0.8M143.2 69.1h0.8M148.6 71.4h0.8M145.9 64.8h0.8M149.5 76.9h0.8M145.6 75.4h0.8M143.2 69.0h0.8M140.3 73.6h0.8M148.0 76.2h0.8M147.1 75.4h0.8M142.1 64.6h0.8M146.4 72.5h0.8M147.3 70.1h0.8M142.2 74.0h0.8M143.1 62.8h0.8M142.9 66.9h0.8M141.5 68.6h0.8M147.2 84.2h0.8M149.3 69.4h0.8M147.7 71.2h0.8M145.7 68.0h0.8M144.4 62.6h0.8M149.5 67.5h0.8M146.2 68.5h0.8M145.3 65.3h0.8M143.6 76.5h0.8M146.2 61.2h0.8M146.9 64.6h0.8M145.4 74.4h0.8M142.8 69.9h0.8M143.9 73.7h0.8M147.1 78.9h0.8M145.5 82.2h0.8M142.0 81.1h0.8M143.9 75.7h0.8M144.3 72.0h0.8M142.1 73.7h0.8M150.2 72.4h0.8M144.5 71.6h0.8M146.6 70.5h0.8M144.6 72.7h0.8M148.2 76.7h0.8M141.7 68.2h0.8M144.7 76.1h0.8M147.3 70.5h0.8M150.4 70.7h0.8M148.5 79.2h0.8M149.0 72.7h0.8M146.2 63.5h0.8M139.7 68.3h0.8M146.6 77.3h0.8M144.3 77.1h0.8M146.2 79.7h0.8M140.2 67.2h0.8M142.0 66.0h0.8M149.1 66.7h0.8M142.3 69.5h0.8M147.0 69.1h0.8M146.6 74.5h0.8M142.8 59.0h0.8M142.1 65.0h0.8M149.1 67.8h0.8M141.7 73.6h0.8M144.7 66.6h0.8M147.6 76.5h0.8M145.4 67.6h0.8M142.2 60.7h0.8M145.7 73.7h0.8M142.1 71.7h0.8M153.6 65.6h0.8M139.9 74.8h0.8M143.4 69.0h0.8M146.3 70.9h0.8M147.3 74.3h0.8M147.8 72.2h0.8M138.7 78.8h0.8M139.9 77.1h0.8M145.3 64.2h0.8M144.8 76.3h0.8M141.8 71.8h0.8M142.6 66.2h0.8M142.9 78.4h0.8M146.5 71.4h0.8M144.4 72.2h0.8M145.4 72.6h0.8M139.9 76.5h0.8M142.2 57.7h0.8M146.5 65.1h0.8M144.2 71.1h0.8M143.0 74.4h0.8M143.9 70.1h0.8M142.0 70.1h0.8M141.8 71.8h0.8M148.2 76.9h0.8M145.8 64.3h0.8M147.4 76.5h0.8M150.3 59.6h0.8M144.6 69.8h0.8M147.6 65.8h0.8M143.6 83.9h0.8M147.3 60.9h0.8M144.7 78.8h0.8M142.9 74.7h0.8M144.9 63.8h0.8M142.9 77.6h0.8M147.9 68.3h0.8M147.7 67.8h0.8M145.3 71.4h0.8M141.2 73.3h0.8M143.5 56.9h0.8M142.3 67.0h0.8M142.3 66.3h0.8M142.7 58.5h0.8M147.1 71.9h0.8M145.3 70.1h0.8M144.8 70.1h0.8M141.6 63.4h0.8M144.8 77.0h0.8M145.2 80.2h0.8M140.8 70.1h0.8M142.9 78.1h0.8M149.3 68.8h0.8M146.6 70.2h0.8M141.8 70.9h0.8M141.7 79.8h0.8M146.2 77.9h0.8M145.6 58.5h0.8M146.8 72.0h0.8M138.0 72.1h0.8M147.4 80.7h0.8M141.8 75.7h0.8M145.5 70.6h0.8M143.8 74.4h0.8M146.2 75.0h0.8M143.5 64.5h0.8M148.2 78.5h0.8M143.0 71.4h0.8M146.8 62.1h0.8M146.0 84.5h0.8M145.3 67.7h0.8M150.2 71.6h0.8M145.2 69.2h0.8M145.1 61.9h0.8M141.1 63.6h0.8M147.1 71.0h0.8M147.8 60.6h0.8M142.9 79.3h0.8M142.4 61.5h0.8M142.5 69.7h0.8M144.6 78.5h0.8M148.3 79.8h0.8M146.2 68.8h0.8M143.2 63.6h0.8M148.1 78.2h0.8M140.8 58.1h0.8M146.0 68.0h0.8M141.4 56.2h0.8M142.1 60.4h0.8M146.5 68.8h0.8M143.9 61.4h0.8M153.5 70.1h0.8M151.2 70.5h0.8M145.9 67.3h0.8M130.5 51.4h0.8M131.7 68.9h0.8M148.1 65.8h0.8M140.8 77.7h0.8M136.5 51.7h0.8M126.3 62.2h0.8M146.2 69.8h0.8M138.0 70.4h0.8M139.6 59.3h0.8M136.7 69.9h0.8M148.4 56.4h0.8M131.3 65.4h0.8M158.8 56.1h0.8M128.9 67.5h0.8M144.5 60.1h0.8M139.8 68.0h0.8M124.6 64.3h0.8M145.3 71.1h0.8M150.3 64.0h0.8M127.3 74.2h0.8M146.8 59.9h0.8M149.1 72.0h0.8M138.8 47.5h0.8M135.9 59.1h0.8M132.6 63.9h0.8M130.5 67.3h0.8M156.7 56.0h0.8M149.2 60.7h0.8M144.8 63.6h0.8M151.3 59.4h0.8M146.5 58.9h0.8M142.0 64.4h0.8M149.6 53.2h0.8M128.1 74.5h0.8M143.4 76.7h0.8M130.9 66.0h0.8M145.3 77.2h0.8M139.5 61.3h0.8M146.3 63.8h0.8M133.4 70.0h0.8M123.2 57.2h0.8M152.0 60.9h0.8M137.2 67.2h0.8M149.9 68.3h0.8M131.5 60.4h0.8M149.2 63.6h0.8M134.4 70.8h0.8M150.1 80.1h0.8M130.5 59.4h0.8M133.9 67.1h0.8M135.8 72.5h0.8M134.3 62.5h0.8M145.0 66.0h0.8M131.1 75.3h0.8M145.1 61.0h0.8M141.8 56.5h0.8M129.2 62.3h0.8M143.2 65.2h0.8M133.2 54.5h0.8M125.3 76.0h0.8M143.2 58.7h0.8M150.4 68.4h0.8M136.4 60.1h0.8M150.0 66.9h0.8M154.4 67.1h0.8M134.9 60.2h0.8M133.8 66.3h0.8M142.2 68.9h0.8M144.0 56.9h0.8M138.2 57.7h0.8M144.2 55.0h0.8M134.9 58.3h0.8M134.6 62.7h0.8M153.3 62.7h0.8M127.4 62.3h0.8M146.6 68.5h0.8M142.1 78.8h0.8M149.7 65.2h0.8M150.7 54.9h0.8M138.5 58.3h0.8M141.6 76.1h0.8M135.7 76.0h0.8M131.1 74.8h0.8M125.2 58.4h0.8M148.7 63.8h0.8M141.3 64.4h0.8M141.6 63.2h0.8M131.4 62.4h0.8M141.0 58.0h0.8M144.1 77.2h0.8M125.6 60.6h0.8M137.5 64.6h0.8M140.8 59.3h0.8M139.7 64.5h0.8M139.2 75.6h0.8M141.1 53.9h0.8M126.3 68.8h0.8M137.0 60.1h0.8M128.1 62.3h0.8M139.2 59.6h0.8M136.9 70.9h0.8M146.9 68.4h0.8M138.5 54.7h0.8M146.8 75.3h0.8M151.2 72.9h0.8M142.4 67.2h0.8M139.9 73.5h0.8M137.7 79.9h0.8M146.8 62.2h0.8M140.0 52.9h0.8M133.6 62.3h0.8M161.4 58.6h0.8M148.0 65.1h0.8M137.4 69.0h0.8M122.6 71.3h0.8M156.9 66.6h0.8M139.5 65.7h0.8M145.8 61.0h0.8M141.1 68.1h0.8M136.9 67.3h0.8M142.9 69.6h0.8M131.4 60.6h0.8M136.3 73.1h0.8M142.2 52.6h0.8M128.8 78.5h0.8M143.0 55.2h0.8M132.0 65.5h0.8M152.5 76.2h0.8M136.8 62.3h0.8M156.8 57.4h0.8M153.7 66.9h0.8M140.8 73.8h0.8M144.2 58.5h0.8M126.7 64.6h0.8M144.5 74.3h0.8M145.4 75.4h0.8M147.0 66.0h0.8M143.8 67.4h0.8M134.5 63.7h0.8M141.1 61.3h0.8M127.2 54.1h0.8M144.4 68.3h0.8M140.9 56.1h0.8M147.4 61.7h0.8M127.0 80.7h0.8M144.7 61.3h0.8M152.9 74.3h0.8M142.3 52.2h0.8M136.7 62.5h0.8M144.0 63.6h0.8M143.0 52.7h0.8M134.4 74.9h0.8M127.3 71.2h0.8M160.2 69.2h0.8M127.9 73.5h0.8M123.8 66.9h0.8M136.4 73.4h0.8M150.3 65.9h0.8M155.7 71.6h0.8M135.8 57.4h0.8M161.5 61.6h0.8M143.6 63.7h0.8M135.9 52.9h0.8M138.7 63.7h0.8M148.6 60.8h0.8M126.3 56.8h0.8M139.7 66.3h0.8M146.3 61.7h0.8M144.7 65.5h0.8M154.8 64.1h0.8M141.3 68.6h0.8M150.7 57.9h0.8M135.9 62.5h0.8M149.4 64.7h0.8M169.4 73.7h0.8M157.7 75.8h0.8M147.9 54.3h0.8M153.4 67.5h0.8M129.5 64.9h0.8M146.6 71.6h0.8M141.5 60.7h0.8M146.7 59.0h0.8M139.3 70.0h0.8M127.4 67.2h0.8M122.9 57.8h0.8M129.2 63.9h0.8M146.3 64.1h0.8M148.0 65.2h0.8M138.2 68.1h0.8M137.9 65.5h0.8M149.1 60.4h0.8M150.1 56.5h0.8M138.1 52.0h0.8M135.4 76.0h0.8M143.1 73.7h0.8M127.2 57.2h0.8M144.1 70.5h0.8M147.3 52.4h0.8M144.5 64.0h0.8M141.1 68.0h0.8M137.6 52.3h0.8M130.7 54.0h0.8M128.5 63.5h0.8M151.4 59.3h0.8M133.3 56.2h0.8M124.9 65.0h0.8M135.8 62.8h0.8M131.6 68.0h0.8M129.5 68.5h0.8M134.2 70.2h0.8M132.2 67.7h0.8M143.9 63.9h0.8M154.3 65.8h0.8M132.2 69.5h0.8M132.8 60.6h0.8M140.1 65.8h0.8M154.9 51.9h0.8M137.7 72.7h0.8M138.6 66.8h0.8M153.4 55.6h0.8M140.4 70.2h0.8M134.9 51.8h0.8M131.3 65.9h0.8M141.7 77.8h0.8M151.6 53.3h0.8M149.1 71.1h0.8M154.2 63.4h0.8M135.1 65.6h0.8M153.6 69.0h0.8M154.9 70.2h0.8M134.8 57.2h0.8M156.2 53.5h0.8M136.9 62.2h0.8M132.0 60.4h0.8M140.1 81.7h0.8M139.4 60.7h0.8M141.1 71.3h0.8M132.8 61.6h0.8M124.7 69.6h0.8M146.0 75.4h0.8M129.5 80.3h0.8M147.7 62.5h0.8M136.6 62.3h0.8M129.4 70.1h0.8M134.7 59.3h0.8M144.5 65.3h0.8M134.9 62.8h0.8M135.7 74.3h0.8M148.8 59.2h0.8M139.6 74.5h0.8M137.5 77.4h0.8M143.9 69.4h0.8M143.0 68.7h0.8M144.2 68.3h0.8M135.5 71.0h0.8M140.6 56.9h0.8M131.1 65.7h0.8M142.9 48.5h0.8M139.9 85.2h0.8M126.5 62.7h0.8M134.7 68.6h0.8M152.4 76.2h0.8M131.1 73.5h0.8M129.3 66.7h0.8M141.5 69.0h0.8M133.0 74.2h0.8M139.4 64.4h0.8M137.7 56.8h0.8M146.3 66.9h0.8M144.0 78.1h0.8M132.4 62.4h0.8M140.1 70.7h0.8M138.4 71.3h0.8M144.0 51.7h0.8M134.0 49.7h0.8M137.5 61.5h0.8M145.2 65.7h0.8M139.4 73.7h0.8M145.2 55.5h0.8M133.9 66.9h0.8M155.0 63.1h0.8M138.5 66.4h0.8M146.9 63.8h0.8M142.6 61.4h0.8M135.2 58.7h0.8M145.8 60.5h0.8M144.8 67.5h0.8M148.6 45.0h0.8M131.5 55.6h0.8M138.6 70.4h0.8M162.3 75.7h0.8M151.9 67.3h0.8M136.6 68.4h0.8M140.1 69.0h0.8M131.0 56.5h0.8M134.3 64.2h0.8M143.1 61.9h0.8M143.1 69.5h0.8M129.8 63.8h0.8M126.3 60.5h0.8M148.0 59.3h0.8M156.4 68.2h0.8M147.8 65.3h0.8M147.6 72.5h0.8M140.9 60.6h0.8M135.2 78.6h0.8M138.4 61.2h0.8M133.8 52.2h0.8M135.6 66.9h0.8M135.7 59.0h0.8M143.6 67.9h0.8M136.2 66.7h0.8M131.4 70.8h0.8M131.3 62.0h0.8M141.2 61.4h0.8M129.9 79.8h0.8M153.3 51.8h0.8M141.1 55.3h0.8M142.7 55.0h0.8M145.1 68.4h0.8M155.0 73.3h0.8M136.0 71.4h0.8M136.0 63.7h0.8M135.6 51.6h0.8M145.3 49.7h0.8M137.9 68.3h0.8M141.0 53.0h0.8M134.3 69.5h0.8M149.7 76.1h0.8M124.0 67.9h0.8M135.8 70.1h0.8M125.2 63.5h0.8M146.2 59.8h0.8M136.8 57.4h0.8M149.8 54.8h0.8M132.0 62.1h0.8M137.2 79.9h0.8M142.4 58.4h0.8M145.1 67.0h0.8M142.5 64.0h0.8M144.1 55.9h0.8M129.4 61.4h0.8M130.3 69.6h0.8M157.1 73.5h0.8M143.9 67.0h0.8M134.0 55.0h0.8M144.8 53.7h0.8M142.7 63.5h0.8M146.6 64.9h0.8M140.9 60.3h0.8M124.9 62.0h0.8M146.1 72.1h0.8M152.1 57.2h0.8M131.8 69.6h0.8M136.0 83.3h0.8M142.8 53.4h0.8M135.1 76.0h0.8M124.0 65.6h0.8M127.8 76.2h0.8M136.1 57.0h0.8M125.0 59.3h0.8M159.2 65.2h0.8M137.7 56.0h0.8M143.0 61.1h0.8M132.5 74.6h0.8M143.9 58.0h0.8M153.0 64.1h0.8M144.4 65.6h0.8M150.4 69.0h0.8M136.9 69.7h0.8M136.6 65.5h0.8M154.4 56.7h0.8M130.9 61.6h0.8M135.6 74.0h0.8M126.0 81.3h0.8M153.9 61.2h0.8M141.6 61.9h0.8M145.9 69.3h0.8M146.6 70.1h0.8M157.0 63.3h0.8M146.2 63.1h0.8M140.3 66.1h0.8M139.5 67.0h0.8M132.5 63.4h0.8M134.7 56.0h0.8M133.8 60.9h0.8M138.7 53.1h0.8M137.7 56.2h0.8M132.8 65.9h0.8M149.8 66.6h0.8M135.7 61.3h0.8M151.8 52.6h0.8M150.0 53.5h0.8M134.4 64.8h0.8M138.1 76.7h0.8M144.4 64.1h0.8M148.4 64.8h0.8M132.9 72.7h0.8M153.2 73.9h0.8M129.7 78.5h0.8M136.3 70.1h0.8M150.5 81.9h0.8M125.8 57.0h0.8M150.4 68.1h0.8M137.3 43.1h0.8M143.9 63.1h0.8M140.0 66.2h0.8M146.6 62.6h0.8M132.1 61.9h0.8M157.4 59.5h0.8M139.3 78.4h0.8M149.3 65.4h0.8M146.5 62.5h0.8M132.0 71.8h0.8M141.2 76.2h0.8M137.7 61.8h0.8M143.0 63.1h0.8M137.3 57.9h0.8M142.2 66.9h0.8M156.1 64.3h0.8M124.5 67.9h0.8M160.2 61.3h0.8M132.9 63.3h0.8M138.3 53.4h0.8M145.1 58.1h0.8M123.7 59.2h0.8M145.6 78.6h0.8M151.0 65.9h0.8M135.5 62.6h0.8M148.5 60.7h0.8M143.7 71.6h0.8M132.0 60.2h0.8M144.0 64.6h0.8M138.9 60.6h0.8M139.4 78.1h0.8M152.0 52.7h0.8M140.4 65.2h0.8M140.3 54.4h0.8M138.9 65.6h0.8M134.0 66.8h0.8M140.9 67.4h0.8M158.3 59.8h0.8M159.7 67.3h0.8M162.5 61.6h0.8M157.2 67.2h0.8M161.1 66.3h0.8M157.9 57.8h0.8M159.7 58.9h0.8M163.5 66.2h0.8M164.2 67.1h0.8M157.1 57.8h0.8M162.8 67.0h0.8M159.2 56.4h0.8M155.8 58.7h0.8M160.7 67.1h0.8M164.1 61.8h0.8M157.7 65.1h0.8M154.5 56.0h0.8M159.1 69.7h0.8M163.0 62.0h0.8M163.0 60.0h0.8M160.1 66.4h0.8M160.5 61.8h0.8M157.4 67.3h0.8M158.8 54.9h0.8M164.4 58.8h0.8M175.4 60.0h0.8M177.0 58.1h0.8M177.4 57.5h0.8M173.1 62.3h0.8M175.1 58.6h0.8M176.3 58.2h0.8M171.8 63.5h0.8M176.1 62.9h0.8M176.2 58.8h0.8M174.7 65.3h0.8M174.0 62.1h0.8M175.1 63.4h0.8M174.5 60.3h0.8M174.0 59.9h0.8M172.2 64.4h0.8M169.8 70.9h0.8M177.6 54.3h0.8M172.7 60.6h0.8M175.2 60.8h0.8M174.8 58.0h0.8M172.7 62.6h0.8M176.4 63.5h0.8M174.1 61.8h0.8M174.4 63.3h0.8M181.1 54.0h0.8M176.7 55.7h0.8M176.8 57.9h0.8M178.3 58.0h0.8M174.3 58.0h0.8M174.4 60.4h0.8M175.6 59.8h0.8M175.2 56.9h0.8M173.0 63.4h0.8M174.9 59.9h0.8M174.6 61.3h0.8M176.7 57.9h0.8M173.3 59.2h0.8M167.7 68.3h0.8M173.0 58.5h0.8M175.4 59.9h0.8M173.9 60.7h0.8M174.6 63.1h0.8M175.3 60.1h0.8M173.8 62.9h0.8M177.1 57.5h0.8M172.6 61.5h0.8M173.9 60.3h0.8M172.5 66.3h0.8M171.2 61.7h0.8M175.0 64.7h0.8M173.0 60.6h0.8M173.0 65.1h0.8M175.7 60.1h0.8M174.7 62.1h0.8M178.3 56.8h0.8M172.8 60.8h0.8M177.1 60.9h0.8M174.7 58.3h0.8M176.3 61.5h0.8M173.8 63.5h0.8M178.8 58.6h0.8M169.5 64.9h0.8M176.1 60.5h0.8M173.8 62.3h0.8M175.0 63.3h0.8M170.2 68.2h0.8M171.2 64.7h0.8M170.5 65.3h0.8M174.6 61.3h0.8M178.1 55.5h0.8M175.7 60.4h0.8M176.6 61.4h0.8M175.0 60.9h0.8M174.4 61.6h0.8M175.5 62.1h0.8M174.7 61.2h0.8M175.3 61.9h0.8M174.6 63.3h0.8M174.1 63.5h0.8M178.8 55.4h0.8M173.2 60.7h0.8M176.2 58.9h0.8M175.8 57.9h0.8M177.5 60.8h0.8M175.1 59.7h0.8M171.9 65.2h0.8M176.6 59.6h0.8M171.2 64.0h0.8M171.5 63.5h0.8M174.3 62.2h0.8M178.8 55.3h0.8M175.9 55.5h0.8M178.6 56.9h0.8M176.4 60.4h0.8M177.8 60.6h0.8M174.5 57.5h0.8M172.6 67.7h0.8M175.8 62.4h0.8M173.2 61.8h0.8M174.2 62.5h0.8M174.4 60.2h0.8M176.4 60.0h0.8M171.5 63.3h0.8M170.2 67.1h0.8M173.9 60.7h0.8M173.2 63.0h0.8M175.2 61.5h0.8M176.8 58.9h0.8M175.9 57.0h0.8M176.3 59.6h0.8M171.7 64.0h0.8M175.6 59.9h0.8M171.4 64.7h0.8M178.7 57.0h0.8M176.2 61.9h0.8M172.5 63.9h0.8M176.3 58.0h0.8M172.9 65.1h0.8M175.3 54.5h0.8M173.6 59.9h0.8M172.5 61.2h0.8M179.3 52.6h0.8M174.0 60.6h0.8M172.1 64.0h0.8M176.8 61.8h0.8M176.8 61.4h0.8M172.4 64.6h0.8M172.1 61.5h0.8M182.1 49.4h0.8M174.3 59.9h0.8M172.3 62.3h0.8M176.3 57.7h0.8M174.5 61.8h0.8M172.3 65.2h0.8M174.7 62.0h0.8M173.8 62.4h0.8M176.7 60.2h0.8M174.2 64.0h0.8M172.3 64.1h0.8M175.0 60.9h0.8M168.4 68.3h0.8M175.2 62.4h0.8M174.7 64.4h0.8M170.9 66.9h0.8M175.7 59.5h0.8M176.1 61.0h0.8M173.5 64.1h0.8M176.6 57.7h0.8M168.5 67.6h0.8M171.7 63.1h0.8M180.8 59.4h0.8M199.1 68.9h0.8M165.4 63.0h0.8M190.6 69.7h0.8M167.9 72.2h0.8M172.8 80.3h0.8M172.1 69.1h0.8M182.0 61.9h0.8M175.6 73.0h0.8M181.4 64.6h0.8M181.0 77.1h0.8M185.3 68.3h0.8M179.9 54.2h0.8M178.2 61.6h0.8M183.5 60.8h0.8M181.0 57.7h0.8M185.0 60.0h0.8M176.7 69.0h0.8M174.1 65.0h0.8M186.4 77.2h0.8M160.9 58.8h0.8M183.0 71.5h0.8M172.8 65.7h0.8M175.3 80.7h0.8M175.2 56.8h0.8M163.2 56.2h0.8M188.6 62.3h0.8M194.3 69.4h0.8M180.4 69.5h0.8M184.0 71.4h0.8M168.3 61.1h0.8M172.1 65.7h0.8M174.8 56.5h0.8M170.8 77.4h0.8M195.9 59.1h0.8M180.4 64.7h0.8M169.5 69.9h0.8M176.4 76.5h0.8M181.1 62.9h0.8M184.5 60.1h0.8M184.9 69.7h0.8M161.3 63.6h0.8M179.9 70.2h0.8M178.4 64.9h0.8M173.9 63.0h0.8M177.0 57.7h0.8M182.7 62.8h0.8M181.6 61.5h0.8M180.7 65.9h0.8M184.9 68.2h0.8M185.3 63.9h0.8M176.5 63.2h0.8M165.8 64.1h0.8M186.7 70.3h0.8M169.4 67.1h0.8M183.7 55.6h0.8M180.1 67.3h0.8M183.7 66.8h0.8M161.5 51.1h0.8M194.6 62.3h0.8M188.3 73.7h0.8M177.8 57.1h0.8M189.2 64.7h0.8M181.6 68.3h0.8M185.5 72.0h0.8M164.4 55.3h0.8M178.3 65.1h0.8M183.9 64.1h0.8M175.4 79.0h0.8M189.2 73.0h0.8M186.2 59.6h0.8M176.2 64.5h0.8M167.3 59.0h0.8M178.4 56.6h0.8M181.8 68.3h0.8M174.9 62.7h0.8M182.4 68.3h0.8M180.3 56.6h0.8M162.6 79.1h0.8M171.2 62.5h0.8M160.8 59.5h0.8M170.5 70.5h0.8M173.3 61.6h0.8M170.1 62.0h0.8M163.0 66.8h0.8M187.6 66.1h0.8M172.2 73.7h0.8M181.3 57.9h0.8M171.9 60.8h0.8M176.6 73.4h0.8M170.7 64.0h0.8M178.0 56.8h0.8M172.8 69.2h0.8M187.1 52.1h0.8M183.3 63.0h0.8M181.8 108.8h0.8M187.5 106.9h0.8M167.7 99.9h0.8M159.0 108.4h0.8M175.3 110.0h0.8M173.9 95.9h0.8M167.6 103.5h0.8M172.3 109.7h0.8M182.9 106.7h0.8M160.9 106.5h0.8M169.1 111.8h0.8M180.1 102.2h0.8M178.9 105.1h0.8M174.8 113.2h0.8M161.4 104.6h0.8M183.9 100.4h0.8M172.8 105.8h0.8M167.5 97.0h0.8M165.2 99.0h0.8M180.1 106.5h0.8M176.9 97.8h0.8M175.2 105.9h0.8M179.8 100.6h0.8M177.8 113.3h0.8M186.1 99.3h0.8M161.6 96.1h0.8M179.1 108.6h0.8M173.9 99.7h0.8M181.5 114.8h0.8M170.7 104.3h0.8M181.0 108.1h0.8M182.3 102.5h0.8M173.9 102.9h0.8M166.2 103.2h0.8M168.6 108.1h0.8M168.5 105.4h0.8M164.2 97.6h0.8M183.0 99.0h0.8M186.2 110.7h0.8M167.5 105.1h0.8M169.5 101.3h0.8M181.5 104.2h0.8M179.1 100.8h0.8M165.2 113.1h0.8M168.6 98.3h0.8M169.6 111.4h0.8M169.7 100.6h0.8M176.4 111.0h0.8M169.3 103.1h0.8M169.4 115.6h0.8M169.8 107.5h0.8M171.5 103.1h0.8M167.6 96.7h0.8M158.5 106.0h0.8M165.6 104.5h0.8M169.5 101.9h0.8M164.9 116.3h0.8M161.8 101.9h0.8M168.5 98.0h0.8M163.0 110.2h0.8M178.8 105.8h0.8M198.2 110.0h0.8M181.4 100.1h0.8M180.1 115.2h0.8M167.8 116.0h0.8M164.3 98.1h0.8M170.6 100.1h0.8M176.4 98.3h0.8M171.7 93.1h0.8M170.8 111.4h0.8M168.8 106.9h0.8M180.2 98.4h0.8M160.4 105.5h0.8M173.4 103.4h0.8M162.9 112.4h0.8M161.3 103.4h0.8M170.7 109.4h0.8M167.3 100.0h0.8M187.9 99.9h0.8M177.7 104.1h0.8M167.0 104.7h0.8M168.9 106.9h0.8M171.6 99.1h0.8M167.8 119.2h0.8M186.5 108.9h0.8M173.0 103.2h0.8M182.7 102.3h0.8M164.1 109.2h0.8M162.9 100.2h0.8M183.2 95.3h0.8M170.5 105.7h0.8M173.2 96.2h0.8M169.1 103.0h0.8M187.2 111.1h0.8M164.7 110.3h0.8M176.5 104.3h0.8M169.0 103.3h0.8M158.1 101.2h0.8M178.9 113.7h0.8M186.6 102.7h0.8M139.4 94.8h0.8M145.9 92.9h0.8M134.9 95.6h0.8M143.4 105.1h0.8M135.6 109.8h0.8M142.0 96.9h0.8M143.1 100.9h0.8M146.0 102.7h0.8M154.0 106.7h0.8M137.2 104.8h0.8M145.5 96.1h0.8M136.6 97.1h0.8M126.4 104.1h0.8M139.7 107.0h0.8M137.7 101.4h0.8M145.3 105.7h0.8M142.9 95.9h0.8M149.1 108.9h0.8M149.3 103.0h0.8M143.8 104.1h0.8" stroke="#000" stroke-width="0.8" fill="none" opacity="1.0"/>
<rect x="121.6" y="26.4" width="89.0" height="94.0" fill="none" stroke="#000" stroke-width="1"/>
<line x1="154.4" y1="26.4" x2="154.4" y2="120.4" stroke="#000" stroke-width="0.9"/>
<line x1="121.6" y1="89.4" x2="210.6" y2="89.4" stroke="#000" stroke-width="0.9"/>
<line x1="121.60" y1="120.4" x2="121.60" y2="123.40" stroke="#000" stroke-width="0.7"/>
<line x1="118.60" y1="120.40" x2="121.6" y2="120.40" stroke="#000" stroke-width="0.7"/>
<line x1="128.30" y1="120.4" x2="128.30" y2="121.90" stroke="#000" stroke-width="0.7"/>
<line x1="120.10" y1="113.33" x2="121.6" y2="113.33" stroke="#000" stroke-width="0.7"/>
<line x1="132.22" y1="120.4" x2="132.22" y2="121.90" stroke="#000" stroke-width="0.7"/>
<line x1="120.10" y1="109.19" x2="121.6" y2="109.19" stroke="#000" stroke-width="0.7"/>
<line x1="135.00" y1="120.4" x2="135.00" y2="121.90" stroke="#000" stroke-width="0.7"/>
<line x1="120.10" y1="106.25" x2="121.6" y2="106.25" stroke="#000" stroke-width="0.7"/>
<line x1="137.15" y1="120.4" x2="137.15" y2="121.90" stroke="#000" stroke-width="0.7"/>
<line x1="120.10" y1="103.97" x2="121.6" y2="103.97" stroke="#000" stroke-width="0.7"/>
<line x1="138.91" y1="120.4" x2="138.91" y2="121.90" stroke="#000" stroke-width="0.7"/>
<line x1="120.10" y1="102.11" x2="121.6" y2="102.11" stroke="#000" stroke-width="0.7"/>
<line x1="140.40" y1="120.4" x2="140.40" y2="121.90" stroke="#000" stroke-width="0.7"/>
<line x1="120.10" y1="100.54" x2="121.6" y2="100.54" stroke="#000" stroke-width="0.7"/>
<line x1="141.69" y1="120.4" x2="141.69" y2="121.90" stroke="#000" stroke-width="0.7"/>
<line x1="120.10" y1="99.18" x2="121.6" y2="99.18" stroke="#000" stroke-width="0.7"/>
<line x1="142.83" y1="120.4" x2="142.83" y2="121.90" stroke="#000" stroke-width="0.7"/>
<line x1="120.10" y1="97.98" x2="121.6" y2="97.98" stroke="#000" stroke-width="0.7"/>
<line x1="143.85" y1="120.4" x2="143.85" y2="123.40" stroke="#000" stroke-width="0.7"/>
<line x1="118.60" y1="96.90" x2="121.6" y2="96.90" stroke="#000" stroke-width="0.7"/>
<line x1="150.55" y1="120.4" x2="150.55" y2="121.90" stroke="#000" stroke-width="0.7"/>
<line x1="120.10" y1="89.83" x2="121.6" y2="89.83" stroke="#000" stroke-width="0.7"/>
<line x1="154.47" y1="120.4" x2="154.47" y2="121.90" stroke="#000" stroke-width="0.7"/>
<line x1="120.10" y1="85.69" x2="121.6" y2="85.69" stroke="#000" stroke-width="0.7"/>
<line x1="157.25" y1="120.4" x2="157.25" y2="121.90" stroke="#000" stroke-width="0.7"/>
<line x1="120.10" y1="82.75" x2="121.6" y2="82.75" stroke="#000" stroke-width="0.7"/>
<line x1="159.40" y1="120.4" x2="159.40" y2="121.90" stroke="#000" stroke-width="0.7"/>
<line x1="120.10" y1="80.47" x2="121.6" y2="80.47" stroke="#000" stroke-width="0.7"/>
<line x1="161.16" y1="120.4" x2="161.16" y2="121.90" stroke="#000" stroke-width="0.7"/>
<line x1="120.10" y1="78.61" x2="121.6" y2="78.61" stroke="#000" stroke-width="0.7"/>
<line x1="162.65" y1="120.4" x2="162.65" y2="121.90" stroke="#000" stroke-width="0.7"/>
<line x1="120.10" y1="77.04" x2="121.6" y2="77.04" stroke="#000" stroke-width="0.7"/>
<line x1="163.94" y1="120.4" x2="163.94" y2="121.90" stroke="#000" stroke-width="0.7"/>
<line x1="120.10" y1="75.68" x2="121.6" y2="75.68" stroke="#000" stroke-width="0.7"/>
<line x1="165.08" y1="120.4" x2="165.08" y2="121.90" stroke="#000" stroke-width="0.7"/>
<line x1="120.10" y1="74.48" x2="121.6" y2="74.48" stroke="#000" stroke-width="0.7"/>
<line x1="166.10" y1="120.4" x2="166.10" y2="123.40" stroke="#000" stroke-width="0.7"/>
<line x1="118.60" y1="73.40" x2="121.6" y2="73.40" stroke="#000" stroke-width="0.7"/>
<line x1="172.80" y1="120.4" x2="172.80" y2="121.90" stroke="#000" stroke-width="0.7"/>
<line x1="120.10" y1="66.33" x2="121.6" y2="66.33" stroke="#000" stroke-width="0.7"/>
<line x1="176.72" y1="120.4" x2="176.72" y2="121.90" stroke="#000" stroke-width="0.7"/>
<line x1="120.10" y1="62.19" x2="121.6" y2="62.19" stroke="#000" stroke-width="0.7"/>
<line x1="179.50" y1="120.4" x2="179.50" y2="121.90" stroke="#000" stroke-width="0.7"/>
<line x1="120.10" y1="59.25" x2="121.6" y2="59.25" stroke="#000" stroke-width="0.7"/>
<line x1="181.65" y1="120.4" x2="181.65" y2="121.90" stroke="#000" stroke-width="0.7"/>
<line x1="120.10" y1="56.97" x2="121.6" y2="56.97" stroke="#000" stroke-width="0.7"/>
<line x1="183.41" y1="120.4" x2="183.41" y2="121.90" stroke="#000" stroke-width="0.7"/>
<line x1="120.10" y1="55.11" x2="121.6" y2="55.11" stroke="#000" stroke-width="0.7"/>
<line x1="184.90" y1="120.4" x2="184.90" y2="121.90" stroke="#000" stroke-width="0.7"/>
<line x1="120.10" y1="53.54" x2="121.6" y2="53.54" stroke="#000" stroke-width="0.7"/>
<line x1="186.19" y1="120.4" x2="186.19" y2="121.90" stroke="#000" stroke-width="0.7"/>
<line x1="120.10" y1="52.18" x2="121.6" y2="52.18" stroke="#000" stroke-width="0.7"/>
<line x1="187.33" y1="120.4" x2="187.33" y2="121.90" stroke="#000" stroke-width="0.7"/>
<line x1="120.10" y1="50.98" x2="121.6" y2="50.98" stroke="#000" stroke-width="0.7"/>
<line x1="188.35" y1="120.4" x2="188.35" y2="123.40" stroke="#000" stroke-width="0.7"/>
<line x1="118.60" y1="49.90" x2="121.6" y2="49.90" stroke="#000" stroke-width="0.7"/>
<line x1="195.05" y1="120.4" x2="195.05" y2="121.90" stroke="#000" stroke-width="0.7"/>
<line x1="120.10" y1="42.83" x2="121.6" y2="42.83" stroke="#000" stroke-width="0.7"/>
<line x1="198.97" y1="120.4" x2="198.97" y2="121.90" stroke="#000" stroke-width="0.7"/>
<line x1="120.10" y1="38.69" x2="121.6" y2="38.69" stroke="#000" stroke-width="0.7"/>
<line x1="201.75" y1="120.4" x2="201.75" y2="121.90" stroke="#000" stroke-width="0.7"/>
<line x1="120.10" y1="35.75" x2="121.6" y2="35.75" stroke="#000" stroke-width="0.7"/>
<line x1="203.90" y1="120.4" x2="203.90" y2="121.90" stroke="#000" stroke-width="0.7"/>
<line x1="120.10" y1="33.47" x2="121.6" y2="33.47" stroke="#000" stroke-width="0.7"/>
<line x1="205.66" y1="120.4" x2="205.66" y2="121.90" stroke="#000" stroke-width="0.7"/>
<line x1="120.10" y1="31.61" x2="121.6" y2="31.61" stroke="#000" stroke-width="0.7"/>
<line x1="207.15" y1="120.4" x2="207.15" y2="121.90" stroke="#000" stroke-width="0.7"/>
<line x1="120.10" y1="30.04" x2="121.6" y2="30.04" stroke="#000" stroke-width="0.7"/>
<line x1="208.44" y1="120.4" x2="208.44" y2="121.90" stroke="#000" stroke-width="0.7"/>
<line x1="120.10" y1="28.68" x2="121.6" y2="28.68" stroke="#000" stroke-width="0.7"/>
<line x1="209.58" y1="120.4" x2="209.58" y2="121.90" stroke="#000" stroke-width="0.7"/>
<line x1="120.10" y1="27.48" x2="121.6" y2="27.48" stroke="#000" stroke-width="0.7"/>
<line x1="210.6" y1="120.4" x2="210.6" y2="123.4" stroke="#000" stroke-width="0.7"/>
<line x1="118.6" y1="26.4" x2="121.6" y2="26.4" stroke="#000" stroke-width="0.7"/>
<text transform="translate(122.4,132.4) scale(0.74,1)" font-size="7.8" font-weight="bold" stroke="#000" stroke-width="0.15" text-anchor="middle">10<tspan dx="0.6" dy="-4.2" font-size="7.2">0</tspan></text>
<text transform="translate(117.9,119.6) rotate(-90) scale(0.74,1)" font-size="7.8" font-weight="bold" stroke="#000" stroke-width="0.15" text-anchor="middle">10<tspan dx="0.6" dy="-4.6" font-size="7.2">0</tspan></text>
<text transform="translate(144.2,132.4) scale(0.74,1)" font-size="7.8" font-weight="bold" stroke="#000" stroke-width="0.15" text-anchor="middle">10<tspan dx="0.6" dy="-4.2" font-size="7.2">1</tspan></text>
<text transform="translate(117.9,96.1) rotate(-90) scale(0.74,1)" font-size="7.8" font-weight="bold" stroke="#000" stroke-width="0.15" text-anchor="middle">10<tspan dx="0.6" dy="-4.6" font-size="7.2">1</tspan></text>
<text transform="translate(166.0,132.4) scale(0.74,1)" font-size="7.8" font-weight="bold" stroke="#000" stroke-width="0.15" text-anchor="middle">10<tspan dx="0.6" dy="-4.2" font-size="7.2">2</tspan></text>
<text transform="translate(117.9,72.6) rotate(-90) scale(0.74,1)" font-size="7.8" font-weight="bold" stroke="#000" stroke-width="0.15" text-anchor="middle">10<tspan dx="0.6" dy="-4.6" font-size="7.2">2</tspan></text>
<text transform="translate(187.8,132.4) scale(0.74,1)" font-size="7.8" font-weight="bold" stroke="#000" stroke-width="0.15" text-anchor="middle">10<tspan dx="0.6" dy="-4.2" font-size="7.2">3</tspan></text>
<text transform="translate(117.9,49.1) rotate(-90) scale(0.74,1)" font-size="7.8" font-weight="bold" stroke="#000" stroke-width="0.15" text-anchor="middle">10<tspan dx="0.6" dy="-4.6" font-size="7.2">3</tspan></text>
<text transform="translate(209.6,132.4) scale(0.74,1)" font-size="7.8" font-weight="bold" stroke="#000" stroke-width="0.15" text-anchor="middle">10<tspan dx="0.6" dy="-4.2" font-size="7.2">4</tspan></text>
<text transform="translate(117.9,25.6) rotate(-90) scale(0.74,1)" font-size="7.8" font-weight="bold" stroke="#000" stroke-width="0.15" text-anchor="middle">10<tspan dx="0.6" dy="-4.6" font-size="7.2">4</tspan></text>
<text transform="translate(165.0,139.1) scale(0.86,1)" font-size="6.5" font-weight="bold" text-anchor="middle" letter-spacing="0.3">FL1-H</text>
<text transform="translate(106.3,70.6) rotate(-90) scale(0.86,1)" font-size="6.1" font-weight="bold" text-anchor="middle" letter-spacing="0.3">FL2-H</text>
<text transform="translate(137.3,42.7) scale(0.95,1)" font-size="16.2" font-weight="bold" text-anchor="middle" stroke="#000" stroke-width="0.35">92</text>
<text transform="translate(197.7,43.1) scale(0.95,1)" font-size="16.2" font-weight="bold" text-anchor="middle" stroke="#000" stroke-width="0.35">5</text>
<text transform="translate(197.6,110.9) scale(0.95,1)" font-size="16.2" font-weight="bold" text-anchor="middle" stroke="#000" stroke-width="0.35">3</text>
<path d="M131.9 188.3h0.8M135.1 187.0h0.8M134.8 188.0h0.8M138.0 193.9h0.8M142.0 187.3h0.8M135.5 184.6h0.8M140.5 184.7h0.8M138.3 182.7h0.8M145.3 184.3h0.8M136.0 186.8h0.8M136.0 185.0h0.8M137.8 182.5h0.8M139.5 182.9h0.8M133.4 186.8h0.8M139.1 180.8h0.8M138.5 186.2h0.8M143.4 186.8h0.8M142.3 187.6h0.8M137.9 183.0h0.8M144.5 184.2h0.8M140.9 187.8h0.8M146.4 189.7h0.8M136.8 184.4h0.8M144.1 180.9h0.8M133.4 187.6h0.8M137.2 182.5h0.8M145.6 187.4h0.8M146.3 184.5h0.8M139.1 184.5h0.8M142.6 178.9h0.8M136.8 187.9h0.8M136.2 185.4h0.8M141.6 187.3h0.8M138.0 181.9h0.8M155.6 183.2h0.8M151.0 179.8h0.8M141.5 185.0h0.8M152.0 192.4h0.8M146.6 182.2h0.8M136.1 183.1h0.8M137.8 186.5h0.8M136.2 184.8h0.8M149.5 190.4h0.8M129.9 182.5h0.8M138.7 189.9h0.8M138.9 191.9h0.8M143.0 190.3h0.8M135.8 184.6h0.8M146.9 187.5h0.8M129.8 184.7h0.8M141.9 187.7h0.8M137.1 191.4h0.8M141.8 190.4h0.8M143.2 185.9h0.8M139.0 181.8h0.8M146.0 188.1h0.8M146.4 184.4h0.8M134.9 184.4h0.8M139.0 185.6h0.8M146.7 182.6h0.8M138.0 187.9h0.8M146.2 192.9h0.8M144.0 182.8h0.8M134.7 183.0h0.8M141.3 186.4h0.8M140.5 183.6h0.8M139.8 185.3h0.8M144.4 185.9h0.8M136.1 181.7h0.8M149.6 185.3h0.8M139.8 185.5h0.8M147.5 184.6h0.8M141.9 184.8h0.8M144.3 182.3h0.8M142.1 189.0h0.8M152.0 203.6h0.8M146.8 209.2h0.8M149.2 208.1h0.8M138.0 193.6h0.8M149.8 198.5h0.8M142.5 194.5h0.8M153.8 193.1h0.8M145.7 191.9h0.8M144.1 213.1h0.8M139.1 209.5h0.8M140.0 189.6h0.8M147.1 193.7h0.8M136.5 206.5h0.8M140.8 193.8h0.8M146.1 198.9h0.8M151.7 200.6h0.8M154.4 206.6h0.8M145.5 203.2h0.8M145.2 191.0h0.8M138.2 204.3h0.8M169.6 186.8h0.8M174.1 188.6h0.8M175.4 189.5h0.8M177.3 185.9h0.8M173.0 179.7h0.8M177.3 182.4h0.8M178.0 189.2h0.8M182.9 189.1h0.8M181.8 180.4h0.8M182.7 192.9h0.8M178.6 182.8h0.8M179.3 185.1h0.8M177.7 192.3h0.8M176.6 183.3h0.8M178.6 195.8h0.8M176.5 191.0h0.8M180.6 191.8h0.8M176.5 184.1h0.8M175.2 184.2h0.8M187.5 185.5h0.8M179.0 192.7h0.8M180.5 186.1h0.8M181.0 187.9h0.8M184.3 192.7h0.8M177.5 187.7h0.8M179.4 192.4h0.8M180.8 190.1h0.8M180.8 184.1h0.8M180.7 192.7h0.8M182.6 189.7h0.8M177.2 186.4h0.8M175.4 187.3h0.8M176.6 182.0h0.8M181.5 183.3h0.8M180.1 189.6h0.8M174.5 181.0h0.8M182.3 188.1h0.8M179.1 192.2h0.8M180.4 182.9h0.8M176.2 180.7h0.8M179.4 193.2h0.8M176.7 191.6h0.8M173.1 187.9h0.8M183.8 193.2h0.8M181.0 190.0h0.8M181.4 176.2h0.8M175.1 196.6h0.8M187.6 187.3h0.8M179.1 188.4h0.8M177.9 185.1h0.8M178.4 187.0h0.8M181.6 189.4h0.8M182.6 188.8h0.8M177.0 193.9h0.8M169.7 190.7h0.8M179.0 185.1h0.8M183.5 181.3h0.8M174.0 186.7h0.8M180.9 190.1h0.8M179.7 190.0h0.8M175.5 185.9h0.8M177.4 182.1h0.8M178.7 185.8h0.8M179.6 182.9h0.8M176.1 185.8h0.8M176.1 184.0h0.8M176.1 182.5h0.8M181.2 189.5h0.8M178.3 186.8h0.8M174.4 184.7h0.8M176.7 184.2h0.8M174.8 189.4h0.8M178.0 185.9h0.8M175.8 188.1h0.8M175.7 186.5h0.8M180.0 190.1h0.8M180.4 184.4h0.8M181.2 181.8h0.8M179.5 192.7h0.8M186.6 185.5h0.8M176.9 186.4h0.8M174.3 188.2h0.8M176.2 185.0h0.8M181.6 183.2h0.8M185.2 189.0h0.8M180.0 184.6h0.8M174.5 180.3h0.8M179.1 186.2h0.8M179.0 184.5h0.8M178.4 181.2h0.8M171.8 191.6h0.8M178.4 174.2h0.8M182.4 184.8h0.8M176.2 181.7h0.8M176.1 191.3h0.8M176.1 188.1h0.8M180.4 195.4h0.8M179.9 181.5h0.8M175.6 183.5h0.8M173.1 186.3h0.8M182.3 186.5h0.8M180.6 186.3h0.8M177.2 188.2h0.8M180.6 195.0h0.8M185.0 187.1h0.8M178.2 179.2h0.8M181.0 196.9h0.8M176.9 191.5h0.8M182.1 184.7h0.8M177.3 186.0h0.8M181.2 186.8h0.8M185.0 190.5h0.8M181.6 197.6h0.8M176.8 185.4h0.8M176.7 184.3h0.8M177.1 187.6h0.8M179.6 180.4h0.8M173.0 185.9h0.8M178.1 189.6h0.8M177.7 194.2h0.8M176.5 187.2h0.8M180.1 192.0h0.8M179.6 187.3h0.8M177.0 188.7h0.8M179.5 185.7h0.8M176.3 180.4h0.8M178.2 192.6h0.8M183.2 185.8h0.8M173.6 196.8h0.8M181.1 197.6h0.8M178.4 191.8h0.8M178.1 193.5h0.8M181.1 182.2h0.8M186.3 197.3h0.8M176.4 183.0h0.8M179.0 185.7h0.8M172.3 185.0h0.8M177.5 181.3h0.8M182.7 188.1h0.8M179.6 193.1h0.8M176.3 191.1h0.8M173.7 187.6h0.8M180.0 184.8h0.8M178.9 190.1h0.8M185.2 191.0h0.8M179.7 186.0h0.8M175.8 195.7h0.8M182.2 177.2h0.8M181.4 186.4h0.8M181.3 188.0h0.8M177.9 187.7h0.8M179.8 192.1h0.8M177.0 185.6h0.8M181.5 189.3h0.8M180.3 188.2h0.8M184.8 190.3h0.8M179.0 186.5h0.8M178.5 179.5h0.8M176.0 185.3h0.8M178.6 185.8h0.8M187.6 187.8h0.8M182.6 195.8h0.8M178.1 186.2h0.8M183.6 189.5h0.8M183.1 191.3h0.8M176.5 185.3h0.8M176.3 188.6h0.8M180.6 182.4h0.8M175.2 182.8h0.8M186.1 188.6h0.8M177.8 182.5h0.8M174.3 186.0h0.8M177.1 182.5h0.8M179.3 192.5h0.8M178.7 187.9h0.8M171.3 188.6h0.8M177.2 184.9h0.8M173.9 188.6h0.8M174.5 186.4h0.8M173.1 188.8h0.8M180.5 183.3h0.8M177.8 181.2h0.8M181.1 189.0h0.8M178.3 191.3h0.8M175.7 188.6h0.8M184.1 185.7h0.8M176.2 193.1h0.8M180.0 185.9h0.8M170.2 182.0h0.8M175.3 194.8h0.8M178.5 183.9h0.8M184.1 192.0h0.8M176.3 190.2h0.8M173.5 190.6h0.8M182.8 180.1h0.8M178.0 185.0h0.8M178.3 187.9h0.8M180.5 190.7h0.8M181.5 191.1h0.8M183.2 190.8h0.8M176.8 189.8h0.8M176.3 184.6h0.8M185.3 186.6h0.8M176.1 179.2h0.8M178.7 190.7h0.8M177.2 185.6h0.8M183.0 184.8h0.8M177.3 187.4h0.8M179.0 191.9h0.8M180.3 186.6h0.8M177.1 187.0h0.8M183.7 184.6h0.8M178.8 180.7h0.8M180.4 189.9h0.8M183.1 187.4h0.8M180.8 188.2h0.8M184.5 194.4h0.8M178.2 184.1h0.8M180.4 186.5h0.8M181.6 189.9h0.8M178.5 185.6h0.8M178.0 182.3h0.8M178.4 183.7h0.8M180.2 187.5h0.8M176.4 183.0h0.8M177.9 184.8h0.8M178.9 190.4h0.8M180.1 181.5h0.8M183.3 191.9h0.8M182.6 187.4h0.8M180.3 194.4h0.8M175.6 181.8h0.8M179.2 188.5h0.8M173.7 183.8h0.8M185.2 185.9h0.8M180.4 184.4h0.8M173.3 188.3h0.8M182.1 183.5h0.8M172.4 188.6h0.8M177.6 187.8h0.8M174.7 187.3h0.8M177.8 191.5h0.8M180.1 190.7h0.8M175.8 179.2h0.8M172.7 191.6h0.8M182.5 190.0h0.8M176.1 180.6h0.8M177.4 189.6h0.8M182.7 184.7h0.8M175.7 185.0h0.8M182.9 189.9h0.8M174.0 194.1h0.8M173.7 182.7h0.8M172.4 186.3h0.8M189.3 195.1h0.8M173.6 186.1h0.8M179.6 189.0h0.8M175.0 181.8h0.8M176.4 185.2h0.8M172.8 189.9h0.8M171.6 182.2h0.8M184.7 189.6h0.8M183.4 186.5h0.8M177.1 187.6h0.8M174.9 191.8h0.8M179.1 186.0h0.8M172.3 189.0h0.8M185.6 191.5h0.8M181.0 185.2h0.8M179.7 189.5h0.8M180.5 191.4h0.8M173.5 179.1h0.8M169.5 186.4h0.8M174.8 191.5h0.8M182.1 186.4h0.8M180.4 187.2h0.8M178.5 185.5h0.8M178.7 192.6h0.8M177.6 187.6h0.8M183.7 190.1h0.8M177.6 188.9h0.8M175.4 189.0h0.8M179.6 187.2h0.8M179.5 188.8h0.8M169.2 186.8h0.8M178.2 185.5h0.8M175.1 187.5h0.8M183.6 185.0h0.8M175.8 186.3h0.8M175.2 190.6h0.8M176.4 192.1h0.8M182.2 188.8h0.8M181.9 186.1h0.8M172.7 189.0h0.8M178.8 180.8h0.8M175.8 193.0h0.8M181.6 192.3h0.8M180.8 187.1h0.8M181.0 190.4h0.8M178.2 186.7h0.8M179.2 185.9h0.8M185.6 182.0h0.8M172.0 184.0h0.8M181.5 184.8h0.8M178.8 186.5h0.8M177.7 181.5h0.8M178.1 185.1h0.8M182.9 188.8h0.8M173.2 185.0h0.8M181.9 191.6h0.8M180.9 186.1h0.8M179.4 177.1h0.8M175.6 184.2h0.8M175.8 190.8h0.8M179.8 188.3h0.8M178.9 190.1h0.8M180.4 184.4h0.8M180.5 182.9h0.8M182.8 180.6h0.8M176.3 183.5h0.8M180.3 192.6h0.8M178.2 195.2h0.8M183.7 187.6h0.8M177.7 191.6h0.8M168.1 187.4h0.8M181.7 186.3h0.8M186.0 182.3h0.8M173.9 188.0h0.8M182.5 193.6h0.8M172.9 189.9h0.8M181.9 183.5h0.8M175.6 183.2h0.8M182.1 190.0h0.8M180.8 187.8h0.8M181.7 186.0h0.8M181.9 190.0h0.8M183.5 188.2h0.8M179.7 190.2h0.8M171.2 182.2h0.8M184.1 186.4h0.8M174.3 186.3h0.8M178.1 187.9h0.8M177.2 192.2h0.8M176.3 200.3h0.8M177.0 195.1h0.8M178.7 180.2h0.8M174.5 189.0h0.8M178.9 185.5h0.8M178.8 188.1h0.8M174.8 188.9h0.8M185.4 182.6h0.8M176.0 191.2h0.8M184.3 190.2h0.8M176.3 187.8h0.8M179.0 186.4h0.8M181.2 191.3h0.8M180.4 186.9h0.8M180.1 194.8h0.8M176.9 196.7h0.8M181.1 187.1h0.8M178.3 195.5h0.8M183.7 189.8h0.8M183.4 178.2h0.8M178.5 186.2h0.8M176.2 188.5h0.8M181.0 189.0h0.8M176.5 182.4h0.8M181.2 189.3h0.8M186.8 189.0h0.8M177.2 182.9h0.8M186.9 182.0h0.8M180.1 190.2h0.8M181.9 192.2h0.8M174.2 185.8h0.8M177.6 182.4h0.8M178.2 193.6h0.8M179.4 186.8h0.8M176.7 188.3h0.8M177.1 183.3h0.8M179.6 181.6h0.8M182.5 184.8h0.8M168.9 183.7h0.8M178.5 183.7h0.8M186.4 191.1h0.8M186.8 188.8h0.8M182.4 183.7h0.8M182.4 184.4h0.8M176.7 182.1h0.8M179.2 189.0h0.8M177.0 183.2h0.8M182.7 190.2h0.8M179.2 190.7h0.8M180.7 182.5h0.8M176.1 180.1h0.8M175.6 190.3h0.8M176.0 190.0h0.8M177.2 178.9h0.8M178.8 194.0h0.8M178.7 188.0h0.8M174.2 181.9h0.8M176.7 200.6h0.8M176.8 184.2h0.8M176.5 179.7h0.8M185.4 192.8h0.8M176.4 189.6h0.8M176.5 191.9h0.8M175.5 187.8h0.8M183.7 188.2h0.8M175.6 181.8h0.8M174.6 194.0h0.8M180.4 187.2h0.8M183.0 186.7h0.8M175.9 187.8h0.8M178.2 187.5h0.8M187.8 187.2h0.8M179.2 186.2h0.8M175.0 184.2h0.8M171.5 187.6h0.8M171.0 181.7h0.8M172.8 180.4h0.8M186.5 203.6h0.8M171.3 210.3h0.8M181.9 171.6h0.8M177.7 184.5h0.8M166.3 190.8h0.8M185.1 196.8h0.8M168.1 187.4h0.8M172.6 202.7h0.8M176.9 184.7h0.8M171.6 176.3h0.8M172.1 200.6h0.8M165.1 194.6h0.8M176.8 199.9h0.8M170.1 200.7h0.8M187.7 212.4h0.8M167.0 192.7h0.8M176.2 194.0h0.8M171.1 200.3h0.8M192.8 205.8h0.8M171.3 188.1h0.8M182.3 194.2h0.8M172.6 203.5h0.8M180.9 201.7h0.8M176.4 203.9h0.8M174.5 183.5h0.8M177.5 181.1h0.8M185.7 199.2h0.8M166.6 194.5h0.8M183.1 190.0h0.8M180.3 188.0h0.8M177.1 192.3h0.8M180.7 184.8h0.8M170.2 195.8h0.8M174.2 197.4h0.8M174.3 181.8h0.8M182.4 195.3h0.8M182.3 190.1h0.8M175.2 203.8h0.8M166.5 207.8h0.8M180.9 192.5h0.8M178.1 198.1h0.8M172.5 195.4h0.8M171.3 177.3h0.8M178.8 193.8h0.8M181.8 197.7h0.8M182.1 199.7h0.8M170.6 203.4h0.8M195.0 188.2h0.8M169.3 198.8h0.8M183.5 201.6h0.8M187.6 181.2h0.8M180.0 196.9h0.8M185.7 185.4h0.8M177.7 189.8h0.8M176.5 191.8h0.8M176.5 177.9h0.8M177.3 193.6h0.8M173.0 187.4h0.8M171.8 206.7h0.8M183.6 191.4h0.8M171.2 197.0h0.8M173.6 205.7h0.8M184.8 192.0h0.8M181.5 186.2h0.8M167.2 200.2h0.8M188.2 190.4h0.8M174.1 177.7h0.8M191.6 182.8h0.8M171.2 191.3h0.8M185.4 193.5h0.8M177.4 193.2h0.8M183.1 192.7h0.8M178.6 192.4h0.8M170.3 204.5h0.8M173.0 181.7h0.8M174.7 193.3h0.8M182.9 180.5h0.8M169.2 194.5h0.8M180.0 183.6h0.8M170.1 194.5h0.8M176.6 179.2h0.8M171.8 205.7h0.8M170.6 202.0h0.8M167.5 205.7h0.8M188.0 187.6h0.8M173.1 198.4h0.8M169.4 197.7h0.8M185.5 195.2h0.8M179.6 191.7h0.8M184.1 186.0h0.8M187.9 192.8h0.8M175.4 179.1h0.8M174.6 195.0h0.8M185.6 179.2h0.8M176.7 187.1h0.8M169.7 193.0h0.8M172.5 200.4h0.8M159.9 199.3h0.8M165.1 176.4h0.8M180.9 190.1h0.8M178.3 184.7h0.8M170.7 186.7h0.8M177.1 185.8h0.8M174.8 185.7h0.8M179.0 183.3h0.8M163.9 170.6h0.8M177.4 193.8h0.8M183.8 186.7h0.8M170.1 180.3h0.8M182.5 187.7h0.8M183.9 192.3h0.8M175.7 177.1h0.8M173.1 199.7h0.8M173.5 198.8h0.8M166.8 201.7h0.8M195.7 202.5h0.8M179.6 182.5h0.8M174.1 187.4h0.8M178.7 175.8h0.8M171.9 199.8h0.8M179.4 208.7h0.8M181.6 199.3h0.8M174.9 207.3h0.8M179.1 205.4h0.8M176.6 210.1h0.8M180.5 210.7h0.8M177.9 208.5h0.8M178.8 200.3h0.8M178.8 196.7h0.8M178.5 205.9h0.8M181.1 199.7h0.8M175.0 201.3h0.8M172.8 201.7h0.8M186.9 205.7h0.8M176.7 201.6h0.8M184.3 199.2h0.8M178.7 204.6h0.8M176.8 201.4h0.8M173.9 200.8h0.8M182.9 212.1h0.8M178.2 208.5h0.8M180.4 205.6h0.8M178.6 211.1h0.8M180.7 203.9h0.8M178.3 209.7h0.8M177.2 201.4h0.8M178.2 202.5h0.8M182.8 206.8h0.8M178.7 202.4h0.8M183.3 207.2h0.8M185.3 209.6h0.8M178.4 202.2h0.8M178.1 205.9h0.8M181.4 207.4h0.8M183.7 197.4h0.8M179.1 197.9h0.8M175.9 202.0h0.8M177.0 200.1h0.8M174.4 210.7h0.8M178.0 209.8h0.8M175.7 193.4h0.8M177.2 209.4h0.8M177.3 207.0h0.8M175.8 212.0h0.8M180.3 210.3h0.8M139.0 234.3h0.8M140.5 226.7h0.8M137.4 229.0h0.8M136.3 223.7h0.8M140.8 231.9h0.8M138.9 232.4h0.8M147.0 223.3h0.8M141.3 224.6h0.8M137.4 229.6h0.8M130.0 231.4h0.8M143.8 231.1h0.8M143.0 236.6h0.8M138.6 233.5h0.8M146.4 230.9h0.8M132.5 228.1h0.8M138.9 221.8h0.8M139.9 232.1h0.8M139.1 228.0h0.8M146.5 226.1h0.8M136.1 229.0h0.8M145.0 231.4h0.8M140.5 226.7h0.8M145.5 232.6h0.8M132.7 230.2h0.8M129.8 235.2h0.8M142.8 226.1h0.8M134.6 227.5h0.8M132.6 231.2h0.8M138.0 221.2h0.8M140.1 233.9h0.8M134.7 227.3h0.8M148.0 229.6h0.8M137.8 229.6h0.8M143.6 224.5h0.8M139.8 221.8h0.8M133.4 222.2h0.8M143.8 230.1h0.8M143.4 234.0h0.8M140.4 229.8h0.8M141.9 230.8h0.8M135.6 227.6h0.8M139.5 228.9h0.8M137.0 228.2h0.8M141.4 229.6h0.8M142.7 232.3h0.8M142.6 233.0h0.8M143.8 234.8h0.8M142.9 226.1h0.8M150.2 233.7h0.8M145.6 231.9h0.8M140.4 223.9h0.8M142.1 227.3h0.8M138.5 219.6h0.8M146.9 223.8h0.8M135.5 230.8h0.8M142.6 225.4h0.8M140.2 229.9h0.8M140.9 231.1h0.8M143.5 227.2h0.8M133.2 238.1h0.8M138.5 224.5h0.8M143.4 231.3h0.8M137.5 238.9h0.8M130.1 234.3h0.8M140.0 230.1h0.8M141.6 227.8h0.8M141.6 223.2h0.8M138.5 236.8h0.8M129.1 234.1h0.8M130.6 225.1h0.8M144.0 227.0h0.8M137.7 222.3h0.8M139.7 228.0h0.8M137.4 222.1h0.8M140.9 230.6h0.8M145.1 231.0h0.8M146.8 234.0h0.8M128.0 236.0h0.8M139.7 224.3h0.8M142.1 232.9h0.8M133.5 223.5h0.8M143.2 226.4h0.8M146.5 229.7h0.8M137.8 223.1h0.8M142.8 221.4h0.8M134.6 223.1h0.8M147.5 236.2h0.8M139.2 227.1h0.8M143.2 234.2h0.8M136.7 238.3h0.8M139.3 233.7h0.8M130.0 228.6h0.8M137.2 237.4h0.8M139.3 223.3h0.8M148.6 225.8h0.8M140.2 223.4h0.8M143.1 229.6h0.8M138.9 227.1h0.8M137.7 225.7h0.8M134.1 234.0h0.8M144.1 222.8h0.8M135.2 230.6h0.8M150.0 227.9h0.8M138.8 227.7h0.8M141.3 228.0h0.8M144.9 233.0h0.8M142.6 235.6h0.8M139.2 226.4h0.8M153.1 220.5h0.8M133.5 218.6h0.8M141.7 224.2h0.8M144.8 219.7h0.8M139.6 227.1h0.8M135.5 233.6h0.8M138.5 230.7h0.8M137.9 229.4h0.8M138.3 229.1h0.8M139.8 225.9h0.8M142.1 228.0h0.8M136.0 224.3h0.8M142.1 234.5h0.8M134.5 227.0h0.8M142.1 233.3h0.8M143.3 223.7h0.8M140.4 232.7h0.8M141.2 227.8h0.8M135.1 229.5h0.8M139.9 228.9h0.8M146.7 233.9h0.8M136.8 229.8h0.8M138.9 229.2h0.8M147.2 232.7h0.8M140.4 226.0h0.8M139.5 230.4h0.8M138.0 233.6h0.8M140.3 223.7h0.8M149.0 216.3h0.8M139.0 228.3h0.8M144.5 233.6h0.8M146.5 235.5h0.8M141.6 229.3h0.8M144.6 228.7h0.8M134.8 226.8h0.8M143.1 231.4h0.8M135.4 234.0h0.8M141.5 222.3h0.8M142.2 233.1h0.8M142.5 227.5h0.8M136.7 233.6h0.8M141.2 228.8h0.8M138.5 224.3h0.8M132.1 227.3h0.8M145.0 232.1h0.8M137.3 235.4h0.8M139.2 224.5h0.8M144.4 234.8h0.8M138.5 223.5h0.8M139.9 218.3h0.8M140.4 235.4h0.8M141.4 225.6h0.8M143.3 226.7h0.8M145.7 227.3h0.8M149.0 227.3h0.8M141.0 224.7h0.8M134.7 230.3h0.8M141.7 224.6h0.8M142.6 227.0h0.8M137.8 228.5h0.8M141.9 231.9h0.8M145.5 230.4h0.8M137.1 225.8h0.8M141.8 223.6h0.8M139.5 227.1h0.8M139.8 229.6h0.8M144.7 235.9h0.8M144.0 233.2h0.8M135.6 233.3h0.8M145.8 223.0h0.8M151.1 226.4h0.8M129.9 236.4h0.8M140.5 225.3h0.8M137.7 233.4h0.8M141.3 227.2h0.8M145.2 224.8h0.8M136.5 226.4h0.8M137.0 231.8h0.8M139.2 224.3h0.8M138.2 220.2h0.8M140.9 229.2h0.8M142.8 227.8h0.8M141.9 224.8h0.8M140.3 229.5h0.8M135.0 231.3h0.8M140.8 229.0h0.8M138.1 237.4h0.8M140.2 225.5h0.8M136.5 231.3h0.8M139.3 225.4h0.8M137.1 232.8h0.8M140.6 233.3h0.8M140.1 223.7h0.8M143.9 230.2h0.8M137.4 227.5h0.8M136.0 232.4h0.8M138.4 230.9h0.8M141.3 227.7h0.8M141.8 227.7h0.8M135.1 227.0h0.8M135.1 232.0h0.8M143.0 226.3h0.8M142.9 229.9h0.8M144.4 224.8h0.8M140.3 224.5h0.8M137.3 234.7h0.8M131.5 224.9h0.8M142.3 232.1h0.8M136.8 220.1h0.8M132.8 230.4h0.8M144.9 232.7h0.8M137.0 234.6h0.8M139.4 231.4h0.8M139.4 235.6h0.8M138.0 219.6h0.8M138.8 229.6h0.8M141.4 225.7h0.8M139.2 223.9h0.8M139.2 229.2h0.8M141.2 235.9h0.8M131.6 231.0h0.8M142.1 223.8h0.8M140.5 228.8h0.8M135.9 231.9h0.8M148.4 231.7h0.8M143.5 233.4h0.8M139.6 233.0h0.8M136.7 229.6h0.8M143.2 234.4h0.8M139.0 227.5h0.8M142.2 228.5h0.8M140.8 232.2h0.8M136.9 232.6h0.8M141.8 227.7h0.8M134.8 226.1h0.8M140.0 232.8h0.8M131.8 231.8h0.8M141.0 224.0h0.8M143.9 230.5h0.8M142.1 224.6h0.8M135.5 232.7h0.8M146.2 230.4h0.8M139.4 226.9h0.8M132.9 233.0h0.8M139.8 234.1h0.8M137.1 233.3h0.8M137.1 231.3h0.8M146.1 225.8h0.8M144.1 228.8h0.8M136.2 229.7h0.8M143.0 225.7h0.8M139.1 226.4h0.8M136.9 227.9h0.8M143.7 226.7h0.8M145.5 227.2h0.8M137.3 233.4h0.8M146.2 226.0h0.8M142.7 223.8h0.8M138.5 227.2h0.8M143.2 223.4h0.8M138.0 225.9h0.8M140.6 223.6h0.8M134.5 240.8h0.8M141.1 222.4h0.8M143.8 223.2h0.8M132.2 235.9h0.8M145.5 225.2h0.8M135.6 230.8h0.8M148.8 231.4h0.8M143.0 223.8h0.8M132.6 230.4h0.8M144.5 229.4h0.8M140.2 234.7h0.8M136.6 233.5h0.8M143.7 226.1h0.8M140.7 229.3h0.8M142.7 224.6h0.8M139.2 229.2h0.8M140.3 228.9h0.8M141.3 228.0h0.8M138.1 233.2h0.8M137.5 227.4h0.8M136.5 223.9h0.8M142.1 228.6h0.8M139.6 230.7h0.8M139.5 231.7h0.8M147.9 230.3h0.8M139.1 235.8h0.8M143.2 221.7h0.8M145.8 229.7h0.8M143.8 223.9h0.8M136.6 226.0h0.8M142.5 224.0h0.8M137.2 232.8h0.8M137.5 229.3h0.8M136.4 221.6h0.8M139.8 228.3h0.8M134.1 232.9h0.8M143.7 232.5h0.8M138.0 223.9h0.8M139.8 229.5h0.8M139.5 226.3h0.8M136.0 225.7h0.8M139.8 226.7h0.8M147.2 227.6h0.8M142.1 226.8h0.8M139.4 224.7h0.8M138.1 222.5h0.8M131.4 234.5h0.8M135.7 230.6h0.8M139.7 226.4h0.8M143.3 226.4h0.8M142.0 227.2h0.8M144.3 232.8h0.8M140.5 233.4h0.8M142.3 235.4h0.8M139.7 222.3h0.8M141.1 229.8h0.8M138.7 227.9h0.8M139.1 223.5h0.8M147.4 225.5h0.8M135.7 222.1h0.8M136.6 228.6h0.8M146.4 231.3h0.8M137.1 223.5h0.8M135.5 228.4h0.8M143.9 226.8h0.8M146.9 236.9h0.8M140.9 219.7h0.8M144.8 228.4h0.8M143.0 233.0h0.8M136.0 229.1h0.8M140.9 225.6h0.8M143.1 228.2h0.8M138.5 236.7h0.8M140.9 235.7h0.8M139.5 233.2h0.8M137.0 229.4h0.8M144.7 219.6h0.8M142.5 227.6h0.8M144.8 229.5h0.8M139.9 223.4h0.8M152.6 225.7h0.8M138.8 225.7h0.8M138.9 229.7h0.8M134.6 233.2h0.8M139.1 231.3h0.8M131.3 226.6h0.8M138.9 227.2h0.8M137.4 230.1h0.8M141.9 224.7h0.8M131.9 231.9h0.8M138.8 233.3h0.8M143.9 228.3h0.8M134.2 227.3h0.8M137.1 234.0h0.8M133.1 232.6h0.8M133.7 226.4h0.8M134.2 225.9h0.8M138.3 230.4h0.8M137.7 231.7h0.8M147.5 229.5h0.8M135.3 228.0h0.8M139.7 227.3h0.8M145.0 233.7h0.8M148.6 231.0h0.8M129.0 228.2h0.8M143.0 225.4h0.8M137.7 232.6h0.8M140.8 224.0h0.8M137.7 215.8h0.8M140.2 223.6h0.8M140.0 223.8h0.8M136.3 226.6h0.8M151.9 223.8h0.8M135.2 226.5h0.8M144.6 232.2h0.8M143.1 227.4h0.8M140.7 225.5h0.8M139.4 225.4h0.8M134.1 224.6h0.8M148.3 230.5h0.8M137.0 228.3h0.8M138.3 233.9h0.8M140.0 226.1h0.8M143.0 230.1h0.8M137.3 225.5h0.8M140.8 221.9h0.8M136.3 233.0h0.8M143.8 233.5h0.8M138.3 226.3h0.8M139.0 226.8h0.8M145.5 227.8h0.8M145.8 225.8h0.8M141.7 235.6h0.8M137.0 226.0h0.8M137.6 222.0h0.8M138.9 226.1h0.8M149.4 226.8h0.8M131.2 232.8h0.8M144.1 228.6h0.8M141.4 231.8h0.8M137.8 229.0h0.8M140.8 235.8h0.8M146.1 229.5h0.8M134.5 232.5h0.8M139.9 233.7h0.8M140.4 229.5h0.8M142.9 225.7h0.8M137.4 238.4h0.8M136.5 232.7h0.8M143.0 232.2h0.8M145.9 223.1h0.8M144.2 220.1h0.8M140.4 230.2h0.8M144.5 233.3h0.8M136.2 227.6h0.8M139.5 225.9h0.8M136.7 226.0h0.8M145.0 234.5h0.8M143.3 235.9h0.8M140.5 224.2h0.8M137.4 229.6h0.8M144.5 233.9h0.8M136.4 232.8h0.8M137.9 231.3h0.8M144.0 235.0h0.8M137.9 229.8h0.8M141.9 227.0h0.8M140.5 231.3h0.8M133.3 226.1h0.8M149.8 230.7h0.8M137.8 221.0h0.8M136.1 231.0h0.8M143.0 230.7h0.8M142.6 226.2h0.8M146.8 224.0h0.8M142.3 227.7h0.8M133.0 232.6h0.8M139.0 231.8h0.8M145.5 229.5h0.8M137.4 227.9h0.8M139.9 234.9h0.8M143.7 235.5h0.8M143.3 225.6h0.8M144.0 232.9h0.8M139.6 230.7h0.8M138.8 223.5h0.8M139.8 232.0h0.8M138.6 219.3h0.8M136.8 233.4h0.8M141.1 233.5h0.8M137.0 227.0h0.8M136.0 225.5h0.8M142.3 229.4h0.8M138.1 230.0h0.8M134.7 227.1h0.8M133.9 222.5h0.8M134.5 224.2h0.8M146.7 234.6h0.8M145.4 226.3h0.8M142.7 224.0h0.8M137.9 229.8h0.8M133.5 229.6h0.8M142.7 220.0h0.8M129.9 227.6h0.8M139.6 229.4h0.8M135.4 231.2h0.8M140.6 225.7h0.8M147.0 229.9h0.8M143.2 236.6h0.8M138.1 227.9h0.8M132.9 227.8h0.8M142.0 239.4h0.8M142.5 229.6h0.8M134.8 225.2h0.8M132.4 223.0h0.8M140.6 230.1h0.8M136.3 227.9h0.8M136.8 231.4h0.8M142.8 226.4h0.8M138.2 223.6h0.8M138.2 238.1h0.8M140.1 232.4h0.8M142.6 235.1h0.8M138.8 225.0h0.8M144.5 232.7h0.8M137.4 233.4h0.8M140.1 228.6h0.8M147.8 231.0h0.8M141.4 227.4h0.8M141.0 233.3h0.8M142.0 225.6h0.8M142.0 228.3h0.8M141.4 228.0h0.8M131.0 221.9h0.8M138.5 219.4h0.8M133.8 237.4h0.8M143.0 226.8h0.8M141.5 219.3h0.8M141.2 233.0h0.8M140.9 223.2h0.8M144.2 226.5h0.8M137.7 229.6h0.8M138.9 237.5h0.8M139.5 237.9h0.8M142.0 223.5h0.8M140.1 229.0h0.8M146.2 234.2h0.8M150.8 226.0h0.8M138.3 238.7h0.8M136.4 230.3h0.8M146.9 224.5h0.8M138.7 225.6h0.8M142.3 230.5h0.8M140.0 231.6h0.8M136.8 227.2h0.8M142.1 237.4h0.8M140.0 229.1h0.8M145.6 229.1h0.8M145.6 229.8h0.8M145.0 229.6h0.8M136.3 225.2h0.8M141.9 236.8h0.8M148.0 227.4h0.8M150.6 224.0h0.8M136.6 232.8h0.8M133.7 232.7h0.8M141.7 231.5h0.8M135.1 230.4h0.8M144.1 228.6h0.8M144.5 228.9h0.8M141.6 227.5h0.8M134.4 228.1h0.8M142.2 225.6h0.8M131.9 222.2h0.8M145.7 227.8h0.8M136.9 234.1h0.8M139.4 222.4h0.8M138.3 225.0h0.8M139.4 224.9h0.8M140.4 230.8h0.8M137.7 227.9h0.8M139.5 232.3h0.8M137.1 232.0h0.8M145.4 228.0h0.8M136.1 227.5h0.8M132.7 226.5h0.8M135.1 228.1h0.8M138.6 231.0h0.8M140.6 230.6h0.8M139.9 230.0h0.8M135.4 231.6h0.8M145.6 233.6h0.8M134.5 230.6h0.8M133.3 232.0h0.8M139.3 226.8h0.8M137.0 227.8h0.8M140.1 224.7h0.8M140.4 229.9h0.8M142.4 228.6h0.8M140.1 238.7h0.8M144.4 230.2h0.8M134.3 231.5h0.8M142.6 217.4h0.8M139.4 230.4h0.8M140.3 229.2h0.8M139.5 234.7h0.8M141.7 227.6h0.8M139.2 237.8h0.8M136.5 226.5h0.8M141.5 229.4h0.8M141.4 234.6h0.8M144.9 230.6h0.8M140.3 228.5h0.8M139.2 233.1h0.8M134.8 224.3h0.8M138.2 224.7h0.8M137.0 233.9h0.8M130.6 231.3h0.8M134.6 227.8h0.8M137.7 224.5h0.8M133.9 229.1h0.8M127.6 219.7h0.8M138.5 233.5h0.8M148.0 227.5h0.8M136.7 227.6h0.8M142.1 232.8h0.8M136.1 230.8h0.8M140.0 233.7h0.8M138.4 227.9h0.8M136.5 223.1h0.8M141.3 231.9h0.8M144.9 230.0h0.8M138.2 224.9h0.8M135.2 225.7h0.8M141.6 229.2h0.8M130.4 228.4h0.8M138.9 224.3h0.8M140.1 231.1h0.8M135.8 223.0h0.8M138.8 229.9h0.8M139.1 235.4h0.8M140.8 224.5h0.8M143.4 226.0h0.8M143.1 229.2h0.8M145.4 224.5h0.8M143.2 230.6h0.8M136.3 231.8h0.8M149.8 230.3h0.8M136.9 228.1h0.8M145.7 229.9h0.8M151.6 225.3h0.8M150.3 219.2h0.8M138.6 227.6h0.8M136.0 237.5h0.8M135.2 231.8h0.8M154.6 234.9h0.8M136.6 224.7h0.8M124.1 232.0h0.8M147.0 236.7h0.8M141.8 243.5h0.8M132.9 234.7h0.8M136.8 234.9h0.8M128.3 230.1h0.8M147.1 225.7h0.8M152.5 223.8h0.8M138.4 235.5h0.8M138.3 225.9h0.8M139.8 233.8h0.8M153.7 238.3h0.8M154.8 229.3h0.8M126.8 229.2h0.8M136.7 223.0h0.8M135.9 229.1h0.8M140.4 235.5h0.8M132.7 237.0h0.8M140.3 234.3h0.8M149.8 221.5h0.8M152.7 224.8h0.8M143.1 236.6h0.8M147.3 219.3h0.8M141.3 236.9h0.8M139.0 229.0h0.8M140.5 240.2h0.8M135.6 223.4h0.8M131.2 226.1h0.8M138.1 231.8h0.8M139.3 218.3h0.8M127.4 233.9h0.8M145.7 220.7h0.8M126.7 232.8h0.8M139.7 226.5h0.8M137.0 228.0h0.8M139.2 223.6h0.8M135.4 233.1h0.8M144.2 220.8h0.8M136.1 239.7h0.8M145.7 240.2h0.8M129.2 222.7h0.8M137.0 222.7h0.8M131.3 225.0h0.8M138.5 234.9h0.8M144.5 218.1h0.8M151.9 227.4h0.8M132.0 229.3h0.8M136.8 220.5h0.8M152.4 225.7h0.8M135.2 233.0h0.8M153.4 232.7h0.8M132.8 232.4h0.8M148.8 232.0h0.8M145.2 226.4h0.8M139.4 218.5h0.8M134.2 222.1h0.8M140.0 239.2h0.8M132.5 228.9h0.8M149.3 224.4h0.8M133.7 237.4h0.8M143.0 232.9h0.8M146.7 224.7h0.8M141.8 225.2h0.8M134.2 230.4h0.8M143.5 221.2h0.8M133.8 233.5h0.8M141.3 233.8h0.8M137.5 224.3h0.8M146.3 233.4h0.8M133.9 233.9h0.8M152.6 227.7h0.8M132.2 231.2h0.8M140.7 233.2h0.8M128.7 231.1h0.8M147.2 234.1h0.8M145.0 237.3h0.8M133.4 237.5h0.8M141.7 223.0h0.8M137.6 231.3h0.8M142.7 238.3h0.8M141.5 226.2h0.8M133.4 235.5h0.8M136.7 224.4h0.8M131.5 237.2h0.8M131.5 230.2h0.8M136.3 228.3h0.8M133.4 230.5h0.8M144.8 236.4h0.8M137.1 221.9h0.8M128.1 229.6h0.8M140.2 230.3h0.8M128.8 225.3h0.8M134.0 233.9h0.8M136.7 233.5h0.8M144.1 217.0h0.8M138.1 237.7h0.8M135.9 230.4h0.8M139.0 221.5h0.8M145.1 226.6h0.8M151.3 237.0h0.8M149.5 235.7h0.8M145.6 238.6h0.8M143.2 230.4h0.8M146.5 223.7h0.8M141.2 225.0h0.8M137.8 223.3h0.8M133.2 230.8h0.8M141.0 235.0h0.8M139.3 233.7h0.8M145.5 225.0h0.8M126.4 225.1h0.8M138.0 226.1h0.8M143.8 224.6h0.8M145.5 221.3h0.8M147.6 230.7h0.8M136.8 221.8h0.8M153.4 225.8h0.8M130.4 241.3h0.8M154.3 229.7h0.8M148.0 233.5h0.8M137.1 230.4h0.8M130.8 220.8h0.8M141.0 234.3h0.8M141.3 221.6h0.8M146.8 230.1h0.8M146.0 227.7h0.8M137.9 236.4h0.8M151.0 221.8h0.8M131.1 235.9h0.8M142.9 229.9h0.8M132.1 236.1h0.8M141.5 231.0h0.8M143.1 226.2h0.8M143.2 230.4h0.8M145.8 232.0h0.8M129.7 225.0h0.8M137.8 237.1h0.8M134.8 236.9h0.8M148.7 235.3h0.8M142.6 237.5h0.8M143.3 236.0h0.8M139.0 238.8h0.8M142.8 217.2h0.8M148.7 228.3h0.8M132.9 227.6h0.8M137.7 237.0h0.8M142.7 229.1h0.8M139.9 223.8h0.8M134.9 226.6h0.8M138.2 222.0h0.8M136.8 236.1h0.8M143.6 229.6h0.8M142.8 228.0h0.8M130.5 235.3h0.8M130.3 233.0h0.8M137.3 227.8h0.8M126.7 229.1h0.8M143.2 219.2h0.8M138.2 226.4h0.8M132.0 233.7h0.8M153.2 232.3h0.8M148.3 234.5h0.8M139.5 233.4h0.8M150.6 226.8h0.8M138.8 220.7h0.8M125.1 224.3h0.8M147.2 232.0h0.8M142.1 238.1h0.8M125.8 238.5h0.8M140.7 234.6h0.8M151.1 224.3h0.8M133.0 232.2h0.8M139.5 225.8h0.8M139.0 224.9h0.8M141.1 227.1h0.8M153.7 222.9h0.8M144.7 230.1h0.8M152.7 223.3h0.8M136.3 240.8h0.8M134.7 227.1h0.8M136.8 223.3h0.8M149.8 239.4h0.8M138.8 224.7h0.8M129.1 233.9h0.8M135.7 233.1h0.8M145.0 232.3h0.8M141.0 229.5h0.8M137.3 226.7h0.8M141.2 232.9h0.8M147.5 228.2h0.8M149.8 223.6h0.8M151.6 239.8h0.8M130.4 228.9h0.8M181.2 238.9h0.8M179.3 220.3h0.8M184.6 229.3h0.8M181.0 228.1h0.8M178.5 219.7h0.8M182.1 225.6h0.8M170.8 233.9h0.8M178.8 238.2h0.8M182.8 221.0h0.8M178.2 230.6h0.8M179.4 222.2h0.8M179.4 238.4h0.8M184.7 242.2h0.8M177.7 226.3h0.8M165.6 242.8h0.8M183.2 230.5h0.8M180.7 234.4h0.8M178.0 241.5h0.8M187.4 237.1h0.8M176.4 232.6h0.8M183.5 236.3h0.8M175.8 238.2h0.8M182.4 235.2h0.8M177.1 230.4h0.8M170.2 230.4h0.8M177.0 228.2h0.8M177.7 228.1h0.8M179.4 231.4h0.8M176.2 229.5h0.8M178.6 234.5h0.8M181.0 227.8h0.8M175.2 217.6h0.8M173.2 233.8h0.8M174.8 243.3h0.8M178.3 227.5h0.8M178.3 226.3h0.8M176.1 231.1h0.8M172.3 231.6h0.8M178.6 223.4h0.8M183.7 233.4h0.8M184.0 225.3h0.8M173.3 221.2h0.8M171.7 215.6h0.8M186.2 226.8h0.8M179.9 226.4h0.8M178.3 243.1h0.8M171.0 222.8h0.8M179.6 223.4h0.8M182.2 240.8h0.8M183.1 236.5h0.8M178.3 238.5h0.8M175.3 221.2h0.8M177.8 228.6h0.8M184.6 222.8h0.8M184.3 224.4h0.8M173.2 217.2h0.8M178.8 219.2h0.8M180.0 230.9h0.8M177.2 215.3h0.8M176.6 234.1h0.8M170.8 236.0h0.8M179.1 226.3h0.8M179.9 235.7h0.8M178.9 224.4h0.8M182.6 225.2h0.8M180.7 238.3h0.8M185.0 243.2h0.8M183.7 231.7h0.8M178.1 232.0h0.8M182.0 224.0h0.8M186.0 218.0h0.8M183.6 220.5h0.8M174.0 226.6h0.8M177.7 219.9h0.8M181.9 229.7h0.8M185.2 222.5h0.8M170.6 236.0h0.8M178.0 238.3h0.8M168.2 220.7h0.8M173.3 215.5h0.8M176.9 241.7h0.8M186.3 219.8h0.8M176.2 216.0h0.8M175.1 222.9h0.8M181.0 239.5h0.8M182.8 232.3h0.8M182.2 242.9h0.8M180.4 237.4h0.8M181.3 229.8h0.8M175.8 227.4h0.8M179.1 227.5h0.8M177.4 225.0h0.8M183.0 228.6h0.8M178.5 228.8h0.8M185.1 226.3h0.8M185.5 223.7h0.8M186.1 235.4h0.8M176.7 234.1h0.8M184.2 223.0h0.8M178.0 233.0h0.8M178.0 228.2h0.8M179.1 233.0h0.8M182.6 242.2h0.8M177.5 244.6h0.8M178.4 219.1h0.8M177.0 227.8h0.8M176.1 229.5h0.8M182.0 233.7h0.8M183.0 229.3h0.8M177.9 240.1h0.8M186.9 233.5h0.8M179.7 223.8h0.8M188.7 233.7h0.8M181.9 217.8h0.8M178.3 228.9h0.8M186.1 229.1h0.8M173.6 224.0h0.8M182.1 231.5h0.8M179.2 229.2h0.8M179.6 233.4h0.8M176.8 228.3h0.8M180.1 221.9h0.8M182.0 229.6h0.8M173.6 241.2h0.8M175.7 240.1h0.8M178.7 243.3h0.8M178.0 238.7h0.8M177.5 215.7h0.8M180.8 234.3h0.8M180.9 243.8h0.8M175.6 219.2h0.8M180.2 225.0h0.8M178.5 230.5h0.8M175.3 239.2h0.8M178.5 244.7h0.8M180.2 238.9h0.8M177.7 225.3h0.8M176.6 223.6h0.8M181.1 231.6h0.8M174.1 218.3h0.8M175.1 216.1h0.8M175.0 218.5h0.8M182.3 221.3h0.8M176.3 229.6h0.8M179.2 233.9h0.8M182.5 235.6h0.8M177.4 240.4h0.8M180.7 224.9h0.8M185.9 221.2h0.8M181.2 240.5h0.8M179.5 233.3h0.8M179.6 235.8h0.8M180.0 230.6h0.8M182.2 215.5h0.8M180.2 228.1h0.8M188.0 232.8h0.8M176.0 235.7h0.8M177.3 221.1h0.8M177.7 234.5h0.8M184.4 238.8h0.8M180.1 229.2h0.8M179.9 240.1h0.8M178.4 239.7h0.8M175.4 230.4h0.8M182.6 236.1h0.8M179.9 226.5h0.8M170.8 227.1h0.8M175.2 227.3h0.8M186.2 224.4h0.8M182.9 230.4h0.8M174.0 231.4h0.8M182.4 221.1h0.8M173.7 227.5h0.8M182.3 225.8h0.8M180.9 234.2h0.8M179.1 234.1h0.8M184.8 229.0h0.8M180.5 222.1h0.8M175.7 229.7h0.8M182.7 225.2h0.8M172.7 237.8h0.8M174.2 231.5h0.8M181.2 223.0h0.8M180.5 239.2h0.8M177.8 236.3h0.8M179.6 223.2h0.8M176.2 225.7h0.8M185.0 239.7h0.8M180.1 218.2h0.8M176.8 227.3h0.8M170.3 230.4h0.8M180.3 220.1h0.8M177.1 226.9h0.8M187.4 235.8h0.8M182.5 231.2h0.8M173.2 237.8h0.8M176.0 215.3h0.8M182.3 227.8h0.8M179.0 234.6h0.8M178.0 233.8h0.8M184.8 228.0h0.8M177.4 230.7h0.8M181.9 227.4h0.8M179.4 225.1h0.8M178.7 234.8h0.8M175.3 229.1h0.8M172.4 225.0h0.8M179.4 234.7h0.8M174.4 229.7h0.8M174.8 233.0h0.8M180.2 234.0h0.8M178.1 219.3h0.8M176.5 219.9h0.8M176.0 230.1h0.8M183.9 225.4h0.8M175.5 232.1h0.8M172.1 238.5h0.8M183.4 238.1h0.8M178.5 236.3h0.8M177.5 238.1h0.8M176.1 224.1h0.8M180.7 226.9h0.8M182.0 223.7h0.8M180.2 222.8h0.8M174.2 220.8h0.8M171.8 228.7h0.8M186.3 227.0h0.8M183.2 229.1h0.8M183.8 216.0h0.8M174.6 233.8h0.8M181.9 228.8h0.8M180.4 234.8h0.8M177.4 238.4h0.8M175.2 236.5h0.8M183.1 232.1h0.8M177.5 230.4h0.8M169.1 232.5h0.8M182.4 223.3h0.8M180.6 230.9h0.8M171.1 223.4h0.8M177.8 234.2h0.8M179.3 220.6h0.8M176.6 231.3h0.8M173.3 227.0h0.8M186.7 237.4h0.8M176.9 238.0h0.8M174.4 242.6h0.8M177.3 231.6h0.8M176.4 231.2h0.8M180.5 230.8h0.8M175.3 236.5h0.8M181.5 230.5h0.8M183.7 224.7h0.8M184.7 229.3h0.8M185.8 227.0h0.8M177.9 232.2h0.8M183.9 241.9h0.8M177.0 224.8h0.8M182.4 240.3h0.8M182.1 227.9h0.8M184.7 230.3h0.8M179.8 235.4h0.8M180.0 236.1h0.8M181.0 234.8h0.8M179.7 238.7h0.8M179.5 242.3h0.8M179.2 236.8h0.8M176.6 232.9h0.8M180.9 231.6h0.8M185.9 230.9h0.8M184.0 233.3h0.8M183.9 223.4h0.8M177.4 238.1h0.8M175.4 233.6h0.8M181.5 232.0h0.8M181.0 234.8h0.8M178.0 233.8h0.8M176.7 227.0h0.8M171.9 229.7h0.8M171.4 230.7h0.8M179.9 221.9h0.8M179.3 232.8h0.8M177.5 223.3h0.8M178.5 233.7h0.8M170.2 233.2h0.8M180.9 225.5h0.8M179.5 241.3h0.8M183.7 227.0h0.8M168.7 239.7h0.8M185.9 216.6h0.8M178.1 225.0h0.8M179.9 231.0h0.8M184.1 225.9h0.8M187.6 217.0h0.8M178.6 235.5h0.8M183.0 227.7h0.8M170.5 232.2h0.8M176.8 234.9h0.8M168.3 229.0h0.8M171.9 219.9h0.8M180.8 239.5h0.8M184.2 225.3h0.8M181.3 216.5h0.8M172.4 234.8h0.8M177.2 222.5h0.8M170.7 228.7h0.8M174.4 239.4h0.8M170.5 225.6h0.8M179.3 239.5h0.8M178.7 244.9h0.8M178.9 229.6h0.8M181.0 233.3h0.8M172.3 223.0h0.8M178.0 233.2h0.8M173.5 224.8h0.8M175.7 233.2h0.8M177.1 235.3h0.8M180.7 223.3h0.8M177.7 220.7h0.8M179.5 236.9h0.8M174.6 216.5h0.8M181.3 228.2h0.8M178.9 234.1h0.8M180.7 237.8h0.8M176.8 228.1h0.8M177.2 233.6h0.8M177.9 240.8h0.8M176.2 230.4h0.8M174.7 222.6h0.8M177.3 236.6h0.8M179.1 229.1h0.8M178.0 228.6h0.8M186.9 233.5h0.8M180.9 238.2h0.8M175.0 220.7h0.8M177.4 242.3h0.8M183.4 225.9h0.8M173.4 237.9h0.8M183.9 221.8h0.8M186.2 224.3h0.8M182.4 228.9h0.8M177.5 225.6h0.8M182.1 235.4h0.8M182.6 228.3h0.8M186.7 229.0h0.8M173.9 242.4h0.8M179.6 231.0h0.8M182.8 233.3h0.8M170.5 235.6h0.8M174.6 231.1h0.8M178.2 232.6h0.8M168.2 236.0h0.8M189.5 227.2h0.8M183.1 235.5h0.8M180.3 226.5h0.8M181.9 232.7h0.8M185.5 237.1h0.8M185.8 234.4h0.8M179.8 225.7h0.8M179.4 227.6h0.8M181.6 241.3h0.8M181.3 238.0h0.8M180.2 233.3h0.8M173.3 231.5h0.8M179.2 229.9h0.8M177.9 232.9h0.8M176.4 228.9h0.8M175.0 220.9h0.8M176.6 227.2h0.8M186.4 238.6h0.8M177.3 235.0h0.8M174.0 217.6h0.8M180.5 235.1h0.8M175.9 230.5h0.8M165.0 229.5h0.8M183.8 231.9h0.8M179.8 235.1h0.8M169.5 220.2h0.8M173.2 232.4h0.8M176.1 215.5h0.8M183.1 229.0h0.8M171.5 220.3h0.8M183.9 241.7h0.8M180.8 233.4h0.8M182.2 235.7h0.8M173.2 236.4h0.8M183.5 227.3h0.8M174.8 226.6h0.8M176.3 234.7h0.8M182.5 230.7h0.8M177.6 216.4h0.8M177.1 222.6h0.8M176.5 233.2h0.8M175.0 226.2h0.8M173.8 228.5h0.8M177.7 238.5h0.8M170.1 237.8h0.8M181.9 226.3h0.8M175.9 232.1h0.8M181.4 229.2h0.8M178.3 230.6h0.8M174.0 232.7h0.8M181.6 230.9h0.8M173.8 230.5h0.8M178.5 233.0h0.8M177.1 237.1h0.8M183.9 237.1h0.8M180.1 240.2h0.8M178.8 229.2h0.8M172.5 230.7h0.8M184.5 222.9h0.8M182.5 220.5h0.8M180.4 245.0h0.8M179.2 221.3h0.8M180.3 229.4h0.8M182.6 226.4h0.8M171.1 226.7h0.8M181.7 238.6h0.8M180.2 230.7h0.8M182.1 229.0h0.8M176.9 232.3h0.8M184.0 226.6h0.8M181.3 225.5h0.8M175.6 231.9h0.8M172.9 223.8h0.8M173.5 225.8h0.8M181.8 231.1h0.8M181.0 225.6h0.8M183.8 227.4h0.8M173.0 225.5h0.8M172.0 219.4h0.8M182.2 226.4h0.8M182.1 226.1h0.8M177.9 226.2h0.8M176.5 225.4h0.8M185.8 230.1h0.8M170.1 243.8h0.8M184.7 239.3h0.8M178.5 229.3h0.8M176.8 231.5h0.8M181.1 230.5h0.8M175.2 223.0h0.8M186.6 243.7h0.8M173.3 225.5h0.8M178.8 235.1h0.8M178.4 232.4h0.8M180.6 239.4h0.8M173.0 239.1h0.8M181.0 234.7h0.8M172.1 228.7h0.8M177.8 235.5h0.8M182.1 235.9h0.8M173.0 240.3h0.8M179.3 237.8h0.8M178.9 225.1h0.8M182.4 226.9h0.8M177.9 239.2h0.8M181.0 244.1h0.8M184.4 222.2h0.8M171.9 239.5h0.8M181.7 228.5h0.8M177.6 226.2h0.8M187.2 229.3h0.8M172.6 237.6h0.8M178.6 233.3h0.8M177.2 230.2h0.8M170.3 234.7h0.8M175.8 227.6h0.8M180.4 240.4h0.8M169.1 229.5h0.8M181.4 238.4h0.8M174.8 233.0h0.8M180.8 237.7h0.8M176.1 229.1h0.8M176.6 239.3h0.8M183.9 227.1h0.8M178.3 232.2h0.8M174.8 229.7h0.8M182.9 236.5h0.8M175.8 225.5h0.8M178.4 219.2h0.8M180.4 231.5h0.8M172.8 228.8h0.8M175.9 228.5h0.8M174.9 241.1h0.8M174.5 236.4h0.8M179.9 241.7h0.8M178.7 230.6h0.8M179.2 216.1h0.8M177.5 221.9h0.8M178.3 242.9h0.8M175.5 233.9h0.8M183.7 237.8h0.8M177.1 217.2h0.8M180.8 234.9h0.8M177.4 227.3h0.8M187.0 218.5h0.8M176.6 225.9h0.8M171.8 225.3h0.8M175.3 240.1h0.8M170.9 220.1h0.8M180.1 218.8h0.8M169.7 225.8h0.8M173.4 223.1h0.8M178.2 234.0h0.8M175.9 228.5h0.8M182.2 229.4h0.8M182.3 226.1h0.8M181.2 240.3h0.8M177.4 228.0h0.8M178.2 234.1h0.8M173.4 230.9h0.8M176.2 241.4h0.8M171.0 235.5h0.8M177.5 224.9h0.8M179.5 228.8h0.8M179.1 232.4h0.8M184.4 227.5h0.8M187.3 239.8h0.8M186.1 232.1h0.8M180.2 222.9h0.8M185.1 221.8h0.8M175.3 230.6h0.8M180.0 233.2h0.8M173.6 228.0h0.8M181.2 239.6h0.8M182.4 233.7h0.8M177.7 226.5h0.8M176.6 229.9h0.8M181.3 226.8h0.8M188.4 223.0h0.8M182.7 229.1h0.8M178.3 227.7h0.8M186.0 228.4h0.8M181.4 231.5h0.8M182.4 235.1h0.8M186.5 225.1h0.8M175.1 243.4h0.8M184.8 231.2h0.8M177.6 232.5h0.8M184.9 224.8h0.8M185.6 230.2h0.8M177.3 227.6h0.8M169.3 233.0h0.8M172.9 226.4h0.8M174.8 232.4h0.8M182.2 230.9h0.8M179.8 233.7h0.8M186.3 235.0h0.8M186.1 230.1h0.8M180.5 225.7h0.8M181.6 224.2h0.8M181.1 225.8h0.8M177.3 239.8h0.8M179.6 236.6h0.8M177.8 216.5h0.8M185.7 229.3h0.8M175.9 237.8h0.8M173.7 225.0h0.8M184.2 225.4h0.8M184.1 228.3h0.8M177.9 231.1h0.8M176.6 238.7h0.8M183.9 231.1h0.8M181.7 234.7h0.8M186.6 218.7h0.8M183.6 237.5h0.8M177.5 230.7h0.8M177.3 240.0h0.8M173.7 235.2h0.8M184.8 234.9h0.8M176.7 227.2h0.8M169.2 222.9h0.8M183.9 223.5h0.8M171.4 228.8h0.8M172.1 234.1h0.8M174.9 237.8h0.8M178.4 219.9h0.8M175.4 225.8h0.8M175.1 239.9h0.8M174.3 233.4h0.8M176.2 235.1h0.8M172.4 218.8h0.8M181.3 241.4h0.8M172.6 228.3h0.8M176.6 223.6h0.8M183.4 231.0h0.8M172.6 229.0h0.8M185.0 225.3h0.8M176.6 224.4h0.8M179.7 226.4h0.8M183.0 224.4h0.8M172.2 234.0h0.8M164.4 223.5h0.8M180.2 232.5h0.8M176.3 227.3h0.8M175.2 229.3h0.8M176.8 234.8h0.8M179.0 234.8h0.8M186.4 228.6h0.8M177.6 233.5h0.8M188.5 227.9h0.8M186.7 239.6h0.8M166.4 223.1h0.8M174.4 233.6h0.8M185.0 231.1h0.8M174.8 243.0h0.8M175.1 227.1h0.8M178.7 236.3h0.8M182.1 234.6h0.8M175.5 244.1h0.8M184.4 230.9h0.8M176.3 230.3h0.8M177.9 225.4h0.8M178.9 225.6h0.8M181.9 225.7h0.8M181.2 233.1h0.8M179.7 234.6h0.8M175.8 236.2h0.8M179.0 227.4h0.8M186.9 239.0h0.8M177.7 234.9h0.8M182.1 242.6h0.8M183.6 229.4h0.8M177.8 221.9h0.8M180.1 237.2h0.8M177.1 235.6h0.8M179.5 227.1h0.8M173.3 239.0h0.8M174.0 222.8h0.8M180.1 235.5h0.8M187.4 231.9h0.8M179.6 233.5h0.8M177.3 228.5h0.8M183.8 217.5h0.8M178.4 234.9h0.8M171.4 229.4h0.8M186.0 233.4h0.8M182.2 236.0h0.8M180.0 233.3h0.8M175.2 229.0h0.8M187.4 221.3h0.8M178.2 221.0h0.8M176.5 224.8h0.8M173.3 232.5h0.8M174.6 234.6h0.8M178.4 233.5h0.8M179.9 239.8h0.8M179.7 217.5h0.8M185.9 223.4h0.8M178.5 233.1h0.8M174.9 231.3h0.8M185.8 217.8h0.8M171.3 227.2h0.8M178.2 220.9h0.8M168.4 237.6h0.8M180.8 220.5h0.8M181.6 230.1h0.8M179.7 220.5h0.8M178.0 234.3h0.8M170.9 222.6h0.8M182.0 230.1h0.8M174.0 227.5h0.8M177.8 234.0h0.8M173.6 230.6h0.8M183.5 233.7h0.8M166.3 218.1h0.8M185.2 235.1h0.8M181.1 242.3h0.8M176.9 226.4h0.8M174.3 232.5h0.8M181.0 237.7h0.8M185.6 235.4h0.8M184.7 228.7h0.8M174.5 236.2h0.8M183.7 240.8h0.8M178.2 227.0h0.8M177.3 233.3h0.8M178.8 229.2h0.8M180.2 228.4h0.8M180.5 226.0h0.8M171.9 228.2h0.8M187.7 224.4h0.8M183.2 240.9h0.8M176.5 232.6h0.8M168.5 235.0h0.8M186.1 232.0h0.8M169.8 226.1h0.8M175.6 231.4h0.8M180.3 227.4h0.8M177.6 224.3h0.8M181.6 232.1h0.8M180.6 226.7h0.8M181.3 228.3h0.8M180.4 229.4h0.8M175.9 222.2h0.8M170.4 220.1h0.8M171.4 224.3h0.8M178.0 221.6h0.8M166.1 221.6h0.8M184.7 221.6h0.8M178.5 225.7h0.8M182.5 219.4h0.8M180.4 232.2h0.8M181.6 233.8h0.8M179.7 216.9h0.8M177.5 223.3h0.8M181.4 228.8h0.8M179.7 239.0h0.8M178.5 243.5h0.8M182.8 219.1h0.8M176.3 239.9h0.8M176.7 239.8h0.8M176.4 229.6h0.8M183.7 218.4h0.8M179.3 227.0h0.8M179.8 243.7h0.8M181.3 220.1h0.8M183.4 227.1h0.8M179.8 239.5h0.8M177.6 237.9h0.8M179.8 223.6h0.8M177.6 220.1h0.8M184.4 231.8h0.8M183.5 221.9h0.8M182.9 221.3h0.8M180.3 230.4h0.8M176.3 232.9h0.8M179.2 223.8h0.8M175.6 220.5h0.8M185.3 231.7h0.8M177.3 235.9h0.8M175.0 221.5h0.8M180.6 242.8h0.8M180.4 231.7h0.8M187.0 218.6h0.8M178.7 220.1h0.8M173.4 228.7h0.8M176.2 232.6h0.8M174.3 228.5h0.8M177.6 228.2h0.8M176.6 229.6h0.8M170.7 227.1h0.8M176.6 222.5h0.8M182.7 223.8h0.8M185.5 234.4h0.8M175.2 235.2h0.8M176.3 234.9h0.8M183.2 239.5h0.8M174.1 229.5h0.8M179.0 221.0h0.8M180.9 235.9h0.8M172.6 226.2h0.8M173.9 220.6h0.8M174.1 241.2h0.8M175.9 227.4h0.8M183.6 238.4h0.8M182.5 216.9h0.8M176.1 227.3h0.8M178.2 239.6h0.8M178.2 230.0h0.8M181.4 233.9h0.8M181.3 217.1h0.8M181.3 233.0h0.8M181.8 230.1h0.8M180.9 220.4h0.8M184.2 221.1h0.8M185.5 238.4h0.8M178.7 228.2h0.8M182.6 228.1h0.8M173.5 232.7h0.8M173.4 227.0h0.8M187.3 236.8h0.8M176.9 230.0h0.8M176.0 230.4h0.8M172.3 235.8h0.8M179.1 225.8h0.8M177.0 226.8h0.8M176.3 226.7h0.8M185.0 235.8h0.8M180.9 233.3h0.8M185.9 236.1h0.8M180.0 232.7h0.8M179.9 230.7h0.8M181.6 230.9h0.8M183.5 232.9h0.8M177.7 235.2h0.8M179.9 227.1h0.8M177.3 227.2h0.8M177.6 227.0h0.8M178.5 239.2h0.8M176.8 229.3h0.8M175.6 219.9h0.8M175.1 226.5h0.8M179.7 227.9h0.8M173.5 227.6h0.8M186.0 223.6h0.8M179.3 238.3h0.8M175.3 226.1h0.8M176.6 231.7h0.8M179.5 231.6h0.8M181.1 228.2h0.8M168.8 223.0h0.8M179.7 219.9h0.8M177.5 242.2h0.8M180.1 225.4h0.8M179.6 238.7h0.8M171.1 220.8h0.8M176.0 227.1h0.8M178.6 226.0h0.8M179.5 231.2h0.8M173.6 225.6h0.8M173.3 232.7h0.8M180.2 235.6h0.8M175.0 226.4h0.8M168.8 230.6h0.8M171.6 233.2h0.8M184.0 234.0h0.8M181.9 232.3h0.8M180.7 237.8h0.8M177.8 237.0h0.8M183.0 233.8h0.8M180.2 220.7h0.8M184.0 223.6h0.8M176.0 223.9h0.8M181.6 223.0h0.8M181.1 234.9h0.8M179.5 227.9h0.8M181.7 240.7h0.8M176.9 222.3h0.8M176.2 223.7h0.8M177.9 229.3h0.8M168.4 241.8h0.8M175.3 227.2h0.8M170.0 215.2h0.8M174.3 232.3h0.8M182.9 216.4h0.8M180.0 242.3h0.8M177.7 237.6h0.8M180.4 223.3h0.8M183.6 225.8h0.8M180.6 227.4h0.8M178.0 231.7h0.8M185.1 217.4h0.8M173.9 231.3h0.8M183.5 229.0h0.8M178.1 234.6h0.8M186.2 223.5h0.8M171.7 228.3h0.8M182.5 220.3h0.8M184.2 237.8h0.8M182.6 223.9h0.8M173.1 235.6h0.8M180.2 235.8h0.8M184.1 238.3h0.8M177.7 230.5h0.8M181.1 236.3h0.8M178.1 226.5h0.8M174.5 238.5h0.8M180.6 226.1h0.8M173.2 226.5h0.8M173.1 227.0h0.8M176.5 234.5h0.8M174.4 216.4h0.8M176.2 219.8h0.8M182.4 228.9h0.8M171.3 223.7h0.8M178.9 230.2h0.8M170.5 229.5h0.8M180.4 238.2h0.8M184.0 229.5h0.8M173.0 227.6h0.8M182.0 223.4h0.8M184.8 223.1h0.8M173.8 236.9h0.8M178.5 233.0h0.8M177.6 230.7h0.8M182.0 229.5h0.8M181.2 237.0h0.8M176.6 231.9h0.8M179.9 226.1h0.8M175.4 228.9h0.8M177.6 227.3h0.8M170.1 231.1h0.8M182.0 231.1h0.8M186.9 237.2h0.8M177.4 225.3h0.8M181.3 227.6h0.8M171.6 231.4h0.8M177.6 228.7h0.8M181.8 232.0h0.8M188.3 224.8h0.8M178.6 232.9h0.8M177.0 226.5h0.8M187.0 219.3h0.8M180.6 216.9h0.8M180.5 215.6h0.8M173.6 239.3h0.8M186.1 231.5h0.8M166.5 238.3h0.8M180.1 221.9h0.8M177.4 220.3h0.8M178.6 229.8h0.8M179.6 236.6h0.8M173.6 220.8h0.8M177.3 227.1h0.8M178.8 241.1h0.8M179.1 222.2h0.8M177.6 223.7h0.8M177.9 235.0h0.8M173.8 235.9h0.8M187.2 242.2h0.8M186.4 231.2h0.8M178.8 232.3h0.8M177.4 223.2h0.8M181.8 219.7h0.8M172.7 234.8h0.8M177.3 224.0h0.8M181.3 241.5h0.8M177.7 229.4h0.8M181.6 237.7h0.8M183.7 235.7h0.8M176.0 234.6h0.8M179.0 217.4h0.8M184.7 234.9h0.8M185.3 230.0h0.8M182.3 229.9h0.8M179.7 237.5h0.8M179.3 235.2h0.8M178.8 239.9h0.8M182.0 217.8h0.8M186.6 233.9h0.8M176.7 225.7h0.8M188.1 231.2h0.8M181.3 235.1h0.8M176.3 244.0h0.8M188.6 224.5h0.8M184.2 218.0h0.8M177.5 231.0h0.8M179.2 234.9h0.8M180.8 233.4h0.8M178.4 232.8h0.8M179.3 240.0h0.8M179.5 229.4h0.8M178.2 220.6h0.8M188.5 233.7h0.8M179.6 226.9h0.8M184.9 228.0h0.8M176.9 226.4h0.8M186.1 232.9h0.8M178.3 225.6h0.8M184.9 232.7h0.8M177.5 237.4h0.8M183.0 222.9h0.8M184.3 238.9h0.8M177.9 220.3h0.8M184.0 227.9h0.8M178.1 228.3h0.8M177.8 236.9h0.8M174.0 234.6h0.8M184.3 238.6h0.8M182.3 232.5h0.8M178.1 229.6h0.8M175.0 243.3h0.8M178.5 222.8h0.8M182.8 242.1h0.8M180.3 228.1h0.8M174.0 235.4h0.8M177.9 225.5h0.8M181.8 220.6h0.8M176.2 219.6h0.8M177.9 236.6h0.8M173.1 240.9h0.8M175.9 226.8h0.8M183.5 225.0h0.8M185.6 229.0h0.8M178.6 223.2h0.8M184.3 230.0h0.8M176.8 223.3h0.8M176.2 229.8h0.8M175.8 236.6h0.8M178.9 225.8h0.8M181.1 241.4h0.8M169.6 233.2h0.8M183.9 231.6h0.8M182.8 218.8h0.8M175.7 238.2h0.8M178.6 231.0h0.8M181.9 233.3h0.8M181.1 226.7h0.8M177.7 240.5h0.8M176.8 219.6h0.8M177.5 237.3h0.8M187.2 231.7h0.8M176.3 235.1h0.8M180.4 239.5h0.8M181.4 236.2h0.8M181.4 233.7h0.8M175.0 229.3h0.8M186.3 240.6h0.8M183.4 233.5h0.8M178.6 233.2h0.8M177.6 238.8h0.8M177.7 224.8h0.8M171.8 242.3h0.8M175.7 224.0h0.8M180.9 244.1h0.8M182.1 228.0h0.8M181.6 224.3h0.8M178.0 230.7h0.8M179.2 236.4h0.8M181.5 244.8h0.8M182.8 228.4h0.8M180.3 224.1h0.8M176.4 227.9h0.8M183.7 225.3h0.8M172.1 222.9h0.8M173.7 229.1h0.8M177.8 221.7h0.8M175.6 227.4h0.8M180.9 235.2h0.8M185.0 228.6h0.8M181.9 231.1h0.8M174.2 225.7h0.8M188.9 229.3h0.8M186.5 236.8h0.8M186.6 229.1h0.8M183.3 228.2h0.8M174.2 221.7h0.8M181.1 218.3h0.8M180.8 223.9h0.8M180.7 220.1h0.8M182.9 228.8h0.8M172.3 219.6h0.8M179.4 218.2h0.8M180.6 234.2h0.8M176.2 241.1h0.8M185.6 232.9h0.8M181.2 234.1h0.8M178.0 240.4h0.8M179.3 233.9h0.8M182.8 222.2h0.8M185.4 224.3h0.8M182.0 236.0h0.8M180.0 239.1h0.8M181.4 227.3h0.8M172.0 241.2h0.8M186.1 226.2h0.8M174.8 239.0h0.8M179.4 223.3h0.8M177.0 231.0h0.8M183.6 242.4h0.8M176.4 242.1h0.8M172.5 235.9h0.8M178.6 233.8h0.8M177.2 225.1h0.8M180.4 239.1h0.8M169.3 230.9h0.8M177.4 222.4h0.8M173.2 234.4h0.8M181.7 235.4h0.8M170.3 219.0h0.8M176.5 227.2h0.8M187.0 227.6h0.8M179.8 238.1h0.8M186.6 233.3h0.8M177.4 216.9h0.8M175.8 228.1h0.8M185.0 232.9h0.8M184.5 231.3h0.8M179.4 226.2h0.8M173.7 234.4h0.8M180.8 234.9h0.8M176.8 227.3h0.8M180.9 235.1h0.8M188.1 223.9h0.8M183.6 237.2h0.8M178.0 231.6h0.8M178.9 242.1h0.8M178.1 237.7h0.8M181.4 229.1h0.8M182.5 237.1h0.8M177.4 237.0h0.8M169.2 220.8h0.8M177.8 231.7h0.8M172.7 241.7h0.8M177.5 231.7h0.8M179.0 236.2h0.8M176.6 236.1h0.8M175.5 219.3h0.8M181.5 231.7h0.8M183.1 215.8h0.8M179.7 225.6h0.8M178.4 227.5h0.8M177.5 225.5h0.8M183.7 217.5h0.8M171.8 233.1h0.8M188.1 224.7h0.8M175.2 221.7h0.8M174.7 240.0h0.8M182.2 237.3h0.8M180.7 232.3h0.8M176.6 223.2h0.8M177.6 240.1h0.8M176.1 230.8h0.8M186.7 230.0h0.8M182.0 226.3h0.8M187.6 221.2h0.8M181.7 228.7h0.8M180.1 233.3h0.8M185.0 237.2h0.8M183.9 233.3h0.8M174.4 240.7h0.8M186.0 234.2h0.8M182.7 228.8h0.8M172.8 238.0h0.8M182.3 230.4h0.8M176.5 231.3h0.8M174.7 227.7h0.8M186.3 228.3h0.8M187.4 229.8h0.8M181.0 223.5h0.8M177.9 227.1h0.8M181.8 229.9h0.8M174.3 230.8h0.8M174.5 223.1h0.8M171.4 234.8h0.8M172.9 229.5h0.8M179.5 224.8h0.8M187.1 234.6h0.8M176.4 218.0h0.8M180.0 225.4h0.8M183.7 222.6h0.8M184.5 227.0h0.8M180.0 228.5h0.8M182.0 239.3h0.8M176.8 223.6h0.8M187.6 237.8h0.8M187.7 237.8h0.8M179.8 242.9h0.8M176.2 227.3h0.8M177.4 235.7h0.8M175.4 229.2h0.8M175.4 228.7h0.8M184.2 239.0h0.8M176.0 234.0h0.8M173.9 240.0h0.8M178.6 232.6h0.8M184.8 230.7h0.8M176.3 225.9h0.8M175.0 234.7h0.8M177.1 234.4h0.8M172.4 227.2h0.8M188.4 233.3h0.8M178.7 239.6h0.8M180.4 242.2h0.8M174.0 236.4h0.8M174.4 235.7h0.8M175.3 233.7h0.8M181.2 225.0h0.8M180.2 222.4h0.8M183.5 237.5h0.8M178.4 235.8h0.8M170.8 233.1h0.8M177.1 224.5h0.8M183.2 238.2h0.8M181.8 243.0h0.8M176.3 227.3h0.8M166.9 233.1h0.8M178.2 231.0h0.8M174.8 232.3h0.8M183.9 225.7h0.8M181.7 229.3h0.8M178.4 231.4h0.8M185.9 234.5h0.8M182.2 231.7h0.8M169.5 237.7h0.8M179.0 231.3h0.8M176.9 218.7h0.8M185.8 244.5h0.8M186.2 216.4h0.8M181.6 221.5h0.8M178.3 226.6h0.8M176.3 224.6h0.8M177.0 236.5h0.8M186.3 237.6h0.8M179.1 229.4h0.8M178.0 230.4h0.8M176.3 229.1h0.8M182.9 228.8h0.8M175.5 229.6h0.8M179.5 229.9h0.8M177.9 235.9h0.8M178.9 222.8h0.8M181.6 225.1h0.8M182.6 236.8h0.8M181.3 232.9h0.8M173.1 229.0h0.8M179.7 235.4h0.8M174.1 229.3h0.8M172.2 231.9h0.8M179.4 231.5h0.8M186.5 236.1h0.8M178.2 226.1h0.8M177.1 236.5h0.8M183.2 226.7h0.8M178.6 227.2h0.8M182.2 232.0h0.8M175.8 223.7h0.8M184.9 219.8h0.8M188.2 226.4h0.8M182.9 234.8h0.8M182.9 239.2h0.8M177.0 230.4h0.8M183.5 234.8h0.8M175.7 224.7h0.8M172.6 232.5h0.8M176.7 218.6h0.8M176.6 233.0h0.8M179.9 228.8h0.8M179.8 235.5h0.8M173.7 224.3h0.8M183.5 236.1h0.8M172.8 225.0h0.8M185.6 236.3h0.8M178.4 238.3h0.8M185.3 241.3h0.8M172.8 220.6h0.8M176.8 230.1h0.8M177.5 232.4h0.8M185.8 238.9h0.8M183.6 230.5h0.8M186.6 234.0h0.8M180.2 230.4h0.8M179.0 237.4h0.8M189.3 229.1h0.8M173.8 238.3h0.8M180.2 223.3h0.8M183.5 230.6h0.8M174.6 233.4h0.8M174.4 237.9h0.8M189.1 233.0h0.8M180.1 229.9h0.8M183.0 230.8h0.8M183.8 241.4h0.8M183.0 223.2h0.8M182.1 228.5h0.8M180.5 237.9h0.8M176.1 232.1h0.8M185.7 224.2h0.8M178.2 236.1h0.8M178.0 238.3h0.8M174.5 219.1h0.8M180.8 229.5h0.8M180.5 237.9h0.8M183.9 227.9h0.8M177.3 215.7h0.8M174.7 232.4h0.8M180.1 219.2h0.8M182.7 230.2h0.8M184.1 227.8h0.8M183.5 222.1h0.8M170.7 224.4h0.8M182.3 233.6h0.8M170.5 231.7h0.8M182.1 243.3h0.8M182.6 234.4h0.8M171.9 233.4h0.8M170.1 228.3h0.8M177.4 223.1h0.8M174.5 229.5h0.8M181.7 225.6h0.8M180.5 235.9h0.8M177.7 225.0h0.8M170.4 238.7h0.8M182.2 229.1h0.8M180.5 229.5h0.8M183.0 230.4h0.8M180.1 229.9h0.8M181.6 221.1h0.8M180.9 235.4h0.8M187.6 224.9h0.8M179.8 237.7h0.8M176.0 226.1h0.8M184.0 237.8h0.8M174.7 235.5h0.8M184.3 220.9h0.8M179.1 229.1h0.8M182.0 217.3h0.8M182.3 230.5h0.8M169.6 226.4h0.8M182.0 233.7h0.8M182.5 217.6h0.8M180.0 240.7h0.8M172.0 235.5h0.8M175.8 234.7h0.8M179.5 218.2h0.8M174.3 240.2h0.8M178.6 239.9h0.8M180.6 237.3h0.8M177.3 232.2h0.8M177.4 237.4h0.8M176.5 238.9h0.8M186.2 221.3h0.8M178.3 234.6h0.8M187.2 239.2h0.8M179.5 217.4h0.8M182.9 226.1h0.8M180.0 233.6h0.8M172.7 238.6h0.8M183.2 234.9h0.8M181.8 233.2h0.8M172.7 226.7h0.8M182.8 228.0h0.8M179.2 233.3h0.8M179.5 232.5h0.8M181.3 230.5h0.8M174.1 228.5h0.8M183.4 225.4h0.8M181.2 232.8h0.8M179.0 224.7h0.8M176.2 237.6h0.8M175.6 233.2h0.8M179.6 232.0h0.8M188.1 215.6h0.8M183.5 229.4h0.8M177.8 225.5h0.8M179.2 230.9h0.8M174.9 242.9h0.8M175.7 229.5h0.8M173.3 231.7h0.8M180.7 238.7h0.8M183.5 226.7h0.8M186.4 229.7h0.8M186.1 243.5h0.8M177.2 222.4h0.8M181.5 241.4h0.8M180.9 238.8h0.8M181.8 237.2h0.8M185.1 228.3h0.8M172.6 229.6h0.8M175.5 221.5h0.8M178.3 235.9h0.8M170.7 219.1h0.8M182.7 223.8h0.8M177.3 240.7h0.8M184.2 233.2h0.8M181.6 233.4h0.8M172.7 231.9h0.8M181.1 229.6h0.8M182.7 237.2h0.8M179.3 228.6h0.8M173.7 239.1h0.8M176.5 232.9h0.8M186.0 236.4h0.8M173.3 229.9h0.8M175.8 218.1h0.8M175.4 234.9h0.8M180.6 229.0h0.8M179.9 221.7h0.8M175.6 229.3h0.8M182.7 228.1h0.8M178.3 233.0h0.8M185.7 221.0h0.8M181.5 231.9h0.8M178.7 232.4h0.8M170.1 230.7h0.8M178.0 221.2h0.8M182.9 229.6h0.8M177.5 236.2h0.8M174.9 225.1h0.8M182.8 237.1h0.8M188.2 227.1h0.8M172.5 219.3h0.8M173.6 231.3h0.8M178.0 225.4h0.8M174.5 225.3h0.8M177.4 239.5h0.8M181.9 240.8h0.8M182.8 236.2h0.8M184.4 233.9h0.8M186.0 239.0h0.8M187.3 232.1h0.8M177.8 234.4h0.8M177.3 225.3h0.8M181.0 222.1h0.8M178.3 241.1h0.8M179.6 236.7h0.8M181.9 233.4h0.8M179.5 235.1h0.8M174.7 234.9h0.8M174.2 224.8h0.8M176.4 220.4h0.8M170.1 233.4h0.8M181.3 235.5h0.8M189.1 231.8h0.8M182.4 224.9h0.8M182.3 221.9h0.8M188.0 223.3h0.8M177.2 236.1h0.8M169.1 240.6h0.8M174.7 232.0h0.8M183.5 231.7h0.8M183.3 226.7h0.8M185.9 225.5h0.8M175.1 230.6h0.8M186.7 225.2h0.8M178.9 227.8h0.8M174.8 220.7h0.8M181.7 235.8h0.8M175.6 232.2h0.8M181.1 233.4h0.8M178.3 230.8h0.8M180.3 222.5h0.8M178.4 236.5h0.8M176.5 240.4h0.8M177.9 222.2h0.8M177.7 220.3h0.8M181.8 218.5h0.8M179.1 228.7h0.8M177.6 233.7h0.8M180.3 226.3h0.8M182.7 227.1h0.8M183.1 240.6h0.8M180.7 237.5h0.8M173.0 234.7h0.8M172.3 229.2h0.8M175.5 224.7h0.8M174.8 230.7h0.8M181.9 221.8h0.8M176.2 216.5h0.8M172.2 234.0h0.8M183.0 224.4h0.8M180.6 224.7h0.8M183.9 243.7h0.8M167.9 224.0h0.8M176.1 226.9h0.8M186.1 242.3h0.8M179.0 235.3h0.8M171.8 228.3h0.8M177.7 229.4h0.8M180.4 218.7h0.8M171.1 231.0h0.8M182.3 234.2h0.8M179.3 218.4h0.8M176.9 218.8h0.8M187.9 233.2h0.8M182.3 232.0h0.8M177.2 239.4h0.8M183.0 235.3h0.8M181.7 236.1h0.8M177.7 233.8h0.8M179.4 228.6h0.8M169.8 241.3h0.8M177.0 239.6h0.8M174.4 229.1h0.8M183.7 230.0h0.8M180.6 221.4h0.8M173.8 243.1h0.8M179.7 229.9h0.8M172.7 222.7h0.8M174.3 230.1h0.8M178.5 225.9h0.8M176.0 231.3h0.8M184.3 219.9h0.8M172.6 239.0h0.8M172.5 227.4h0.8M179.5 244.2h0.8M178.6 238.6h0.8M179.7 224.4h0.8M182.7 241.7h0.8M178.1 236.7h0.8M174.2 241.6h0.8M176.1 224.5h0.8M175.5 217.2h0.8M172.5 229.0h0.8M181.0 226.2h0.8M171.9 233.0h0.8M183.6 231.3h0.8M174.1 228.2h0.8M170.2 230.1h0.8M184.5 238.9h0.8M178.6 233.8h0.8M176.6 231.5h0.8M176.3 231.7h0.8M176.7 232.0h0.8M182.2 230.4h0.8M173.1 234.3h0.8M177.9 226.8h0.8M181.6 224.2h0.8M183.2 234.7h0.8M175.9 225.2h0.8M178.5 223.7h0.8M179.7 227.9h0.8M174.0 235.3h0.8M176.8 233.9h0.8M177.0 228.4h0.8M181.4 237.7h0.8M183.5 230.3h0.8M185.7 227.9h0.8M172.8 216.4h0.8M172.5 224.0h0.8M170.9 233.0h0.8M179.2 230.2h0.8M180.1 229.7h0.8M177.9 228.1h0.8M179.2 222.0h0.8M184.8 242.1h0.8M174.6 237.3h0.8M171.7 235.1h0.8M175.6 238.1h0.8M179.5 237.7h0.8M181.8 234.5h0.8M177.8 242.5h0.8M180.6 234.2h0.8M185.5 228.6h0.8M186.9 238.7h0.8M179.4 219.5h0.8M184.5 228.2h0.8M179.5 231.4h0.8M183.3 235.3h0.8M170.8 225.5h0.8M180.6 231.8h0.8M182.6 234.8h0.8M186.4 225.0h0.8M184.9 233.4h0.8M180.4 235.7h0.8M177.5 235.9h0.8M178.1 236.0h0.8M175.6 239.4h0.8M172.1 225.6h0.8M178.8 232.3h0.8M175.4 227.5h0.8M180.2 238.4h0.8M184.9 226.9h0.8M178.7 228.2h0.8M172.1 227.1h0.8M184.1 220.3h0.8M186.8 231.9h0.8M168.6 233.8h0.8M186.2 226.2h0.8M184.8 236.3h0.8M182.6 236.2h0.8M181.7 235.4h0.8M184.4 233.7h0.8M181.9 233.8h0.8M179.7 223.9h0.8M170.9 222.8h0.8M173.4 219.3h0.8M182.1 228.0h0.8M182.5 227.0h0.8M180.7 229.0h0.8M186.3 240.2h0.8M180.3 244.0h0.8M182.8 237.3h0.8M173.8 225.9h0.8M179.8 228.9h0.8M176.7 215.4h0.8M175.7 229.7h0.8M180.4 222.4h0.8M178.4 244.2h0.8M179.8 215.6h0.8M178.2 230.6h0.8M184.8 232.0h0.8M185.2 233.0h0.8M184.3 240.8h0.8M186.0 232.0h0.8M173.5 232.0h0.8M181.2 225.2h0.8M182.8 229.3h0.8M182.6 232.0h0.8M174.8 238.5h0.8M188.1 237.5h0.8M180.3 217.5h0.8M180.5 230.3h0.8M175.5 216.0h0.8M181.1 237.9h0.8M170.5 233.2h0.8M178.9 241.4h0.8M178.9 223.2h0.8M178.8 233.8h0.8M175.7 224.6h0.8M180.2 237.2h0.8M178.0 234.2h0.8M176.8 227.9h0.8M179.9 237.9h0.8M186.2 229.6h0.8M182.8 227.8h0.8M180.9 219.7h0.8M169.6 224.7h0.8M175.8 220.3h0.8M183.7 227.1h0.8M179.4 231.1h0.8M178.1 221.6h0.8M187.8 215.5h0.8M178.9 235.8h0.8M178.1 229.8h0.8M180.5 232.4h0.8M177.5 238.8h0.8M181.3 242.0h0.8M179.5 215.4h0.8M171.6 226.6h0.8M181.1 218.1h0.8M176.5 240.0h0.8M180.6 225.1h0.8M178.6 231.4h0.8M177.2 228.2h0.8M176.2 232.2h0.8M186.2 241.6h0.8M178.5 219.9h0.8M172.4 231.6h0.8M180.1 225.7h0.8M175.5 228.9h0.8M180.2 235.7h0.8M176.4 232.5h0.8M180.7 236.6h0.8M172.4 242.5h0.8M173.7 229.0h0.8M177.0 226.9h0.8M175.6 236.8h0.8M182.6 233.2h0.8M173.4 225.8h0.8M178.8 233.6h0.8M176.6 228.5h0.8M175.7 243.0h0.8M182.9 221.5h0.8M182.6 231.9h0.8M175.5 236.6h0.8M176.4 228.2h0.8M179.2 232.2h0.8M177.1 232.8h0.8M179.1 232.0h0.8M180.8 225.7h0.8M173.0 230.0h0.8M184.6 233.1h0.8M180.1 224.9h0.8M174.0 221.1h0.8M175.0 227.7h0.8M172.2 229.6h0.8M172.1 235.5h0.8M179.0 217.2h0.8M176.6 232.3h0.8M180.8 236.5h0.8M177.5 229.4h0.8M178.0 234.7h0.8M176.0 229.3h0.8M179.7 227.9h0.8M174.3 240.9h0.8M181.3 223.6h0.8M187.8 224.7h0.8M175.2 227.8h0.8M181.5 241.9h0.8M185.2 234.8h0.8M179.4 235.6h0.8M175.6 225.2h0.8M181.4 232.1h0.8M180.1 222.8h0.8M180.2 219.6h0.8M183.2 230.6h0.8M176.2 227.0h0.8M176.0 241.0h0.8M166.2 239.1h0.8M179.2 232.5h0.8M174.8 220.6h0.8M180.1 227.2h0.8M181.3 238.6h0.8M178.6 234.6h0.8M179.9 232.3h0.8M176.8 232.4h0.8M181.0 231.1h0.8M177.1 219.5h0.8M174.3 242.5h0.8M183.6 232.8h0.8M180.4 229.4h0.8M182.1 237.9h0.8M178.0 232.9h0.8M183.3 218.5h0.8M174.9 226.2h0.8M173.9 227.2h0.8M175.3 227.5h0.8M181.2 221.6h0.8M179.5 241.1h0.8M179.9 221.2h0.8M176.4 239.5h0.8M177.9 225.8h0.8M182.6 225.1h0.8M174.1 235.2h0.8M179.2 225.6h0.8M181.2 239.0h0.8M183.9 231.3h0.8M181.1 234.3h0.8M172.5 243.2h0.8M176.2 226.3h0.8M175.4 223.2h0.8M184.0 230.6h0.8M176.5 216.6h0.8M179.8 230.2h0.8M174.5 229.8h0.8M171.0 235.5h0.8M173.7 234.4h0.8M174.1 225.6h0.8M182.6 235.1h0.8M181.9 243.3h0.8M177.8 226.7h0.8M170.8 222.7h0.8M181.6 224.2h0.8M175.2 237.8h0.8M168.2 241.2h0.8M184.8 216.9h0.8M181.2 230.5h0.8M183.1 228.0h0.8M178.6 241.3h0.8M176.5 233.8h0.8M181.9 229.7h0.8M183.0 234.5h0.8M182.8 217.6h0.8M174.5 232.8h0.8M184.3 241.5h0.8M179.2 224.9h0.8M174.3 215.7h0.8M176.9 235.0h0.8M178.8 219.3h0.8M178.7 231.0h0.8M175.8 241.7h0.8M181.0 239.0h0.8M179.5 223.2h0.8M183.9 239.0h0.8M176.5 220.4h0.8M182.7 226.3h0.8M174.0 229.9h0.8M181.5 224.9h0.8M179.3 238.2h0.8M182.4 218.7h0.8M182.3 244.1h0.8M183.2 229.9h0.8M180.7 218.6h0.8M176.5 226.6h0.8M188.3 230.6h0.8M174.8 243.5h0.8M184.5 218.0h0.8M178.2 217.7h0.8M187.3 222.5h0.8M181.5 233.3h0.8M182.9 223.0h0.8M183.0 228.5h0.8M181.4 232.3h0.8M185.2 220.8h0.8M173.0 235.6h0.8M189.5 234.7h0.8M178.4 235.7h0.8M173.8 231.3h0.8M171.7 231.5h0.8M182.3 243.6h0.8M176.9 237.7h0.8M185.0 222.6h0.8M177.9 216.4h0.8M175.2 233.9h0.8M170.2 228.3h0.8M182.3 241.6h0.8M168.1 233.5h0.8M174.6 235.1h0.8M179.0 236.0h0.8M177.8 235.6h0.8M174.8 223.1h0.8M178.4 217.2h0.8M184.5 228.7h0.8M174.8 224.0h0.8M174.8 231.5h0.8M177.5 237.2h0.8M174.0 230.0h0.8M172.5 227.0h0.8M185.1 229.7h0.8M183.0 230.1h0.8M174.3 223.8h0.8M174.1 233.2h0.8M186.4 237.1h0.8M174.8 231.5h0.8M175.9 239.5h0.8M173.2 236.4h0.8M173.7 227.0h0.8M179.8 231.6h0.8M178.8 230.1h0.8M175.3 229.7h0.8M178.8 223.4h0.8M181.6 231.9h0.8M175.8 240.6h0.8M176.6 216.0h0.8M184.6 227.7h0.8M185.5 233.9h0.8M175.2 239.2h0.8M181.1 237.7h0.8M179.3 242.5h0.8M183.2 228.0h0.8M172.5 230.2h0.8M179.4 223.0h0.8M178.2 242.1h0.8M177.0 239.2h0.8M175.0 223.1h0.8M183.2 229.3h0.8M180.0 238.5h0.8M186.2 221.1h0.8M181.6 232.3h0.8M179.7 244.4h0.8M178.0 226.0h0.8M180.7 223.7h0.8M180.5 224.9h0.8M181.3 228.7h0.8M175.9 234.7h0.8M182.4 218.2h0.8M173.4 228.5h0.8M177.4 240.8h0.8M186.0 234.2h0.8M183.9 228.1h0.8M173.1 232.9h0.8M171.3 243.1h0.8M180.2 239.5h0.8M176.2 218.1h0.8M178.2 234.3h0.8M178.1 226.6h0.8M179.4 229.1h0.8M185.2 220.5h0.8M169.3 229.8h0.8M180.3 218.7h0.8M178.9 234.0h0.8M180.5 232.9h0.8M175.8 219.4h0.8M183.3 227.9h0.8M173.0 242.5h0.8M172.0 237.9h0.8M180.5 240.1h0.8M179.1 217.7h0.8M178.3 227.3h0.8M180.3 229.1h0.8M181.5 221.2h0.8M176.6 226.6h0.8M180.9 217.4h0.8M171.1 238.5h0.8M179.5 238.2h0.8M179.3 232.6h0.8M180.7 234.1h0.8M173.8 229.5h0.8M187.1 241.5h0.8M175.3 223.3h0.8M178.3 238.7h0.8M183.1 226.0h0.8M168.6 230.2h0.8M171.7 239.8h0.8M185.6 235.7h0.8M181.7 234.9h0.8M187.2 238.9h0.8M185.4 221.7h0.8M176.8 230.5h0.8M169.2 228.3h0.8M179.0 230.0h0.8M178.2 229.6h0.8M177.5 219.6h0.8M184.0 230.7h0.8M180.6 230.8h0.8M175.6 218.2h0.8M177.8 234.7h0.8M178.5 236.2h0.8M175.6 228.3h0.8M179.7 229.8h0.8M179.8 241.6h0.8M177.2 231.6h0.8M176.2 234.7h0.8M180.0 224.9h0.8M174.6 221.3h0.8M177.8 231.7h0.8M176.9 229.7h0.8M179.6 232.2h0.8M187.6 233.5h0.8M181.9 226.6h0.8M176.6 236.5h0.8M176.4 225.4h0.8M172.4 232.8h0.8M178.6 234.7h0.8M175.2 221.0h0.8M183.9 230.7h0.8M182.5 221.7h0.8M180.3 238.2h0.8M184.9 244.2h0.8M171.0 222.1h0.8M176.7 224.4h0.8M178.1 224.3h0.8M172.5 230.2h0.8M179.6 224.6h0.8M179.2 220.5h0.8M177.6 227.9h0.8M177.0 229.9h0.8M173.4 220.2h0.8M175.3 236.2h0.8M174.8 223.3h0.8M187.8 228.5h0.8M177.3 223.7h0.8M185.5 234.6h0.8M180.2 242.8h0.8M173.7 217.5h0.8M183.9 233.9h0.8M176.7 236.7h0.8M173.4 233.3h0.8M183.3 237.4h0.8M177.4 227.4h0.8M177.1 235.8h0.8M177.2 229.4h0.8M183.5 229.7h0.8M180.1 229.5h0.8M174.9 233.4h0.8M176.2 225.7h0.8M175.6 223.1h0.8M171.1 234.1h0.8M178.8 224.0h0.8M177.2 238.1h0.8M183.5 233.4h0.8M184.1 238.3h0.8M177.0 236.7h0.8M179.7 236.5h0.8M173.4 233.3h0.8M176.7 227.7h0.8M178.9 230.2h0.8M186.6 230.1h0.8M180.1 238.8h0.8M185.7 223.1h0.8M180.3 220.2h0.8M181.2 241.5h0.8M176.7 228.3h0.8M184.3 233.9h0.8M182.6 227.0h0.8M177.6 227.6h0.8M185.9 218.9h0.8M176.7 242.6h0.8M178.7 222.0h0.8M180.0 228.8h0.8M178.5 234.4h0.8M182.5 218.9h0.8M179.9 242.1h0.8M173.1 229.8h0.8M173.9 235.7h0.8M175.2 227.9h0.8M177.2 234.0h0.8M173.2 219.6h0.8M179.8 241.1h0.8M176.8 233.7h0.8M180.2 231.3h0.8M178.9 226.2h0.8M177.9 239.9h0.8M181.0 240.5h0.8M175.8 231.4h0.8M176.1 220.2h0.8M183.0 228.3h0.8M180.1 219.5h0.8M177.9 229.6h0.8M177.3 238.4h0.8M181.0 231.5h0.8M180.0 227.0h0.8M175.8 228.3h0.8M174.5 229.2h0.8M178.5 239.3h0.8M176.7 231.5h0.8M178.9 225.7h0.8M178.7 216.7h0.8M183.9 226.0h0.8M178.9 216.3h0.8M181.5 220.5h0.8M185.0 222.3h0.8M175.7 235.7h0.8M171.5 243.1h0.8M180.9 218.6h0.8M177.1 236.0h0.8M177.3 242.3h0.8M175.8 231.8h0.8M184.1 242.1h0.8M180.0 235.1h0.8M177.5 230.0h0.8M176.4 233.5h0.8M182.7 222.6h0.8M173.8 230.9h0.8M187.8 232.3h0.8M179.6 230.2h0.8M171.6 224.9h0.8M186.9 221.1h0.8M185.6 229.4h0.8M181.6 226.2h0.8M177.0 232.1h0.8M165.1 234.9h0.8M177.6 222.0h0.8M177.7 235.6h0.8M175.6 233.3h0.8M173.0 231.2h0.8M173.9 236.5h0.8M174.4 235.3h0.8M170.2 231.9h0.8M183.8 224.0h0.8M179.2 223.7h0.8M181.1 236.4h0.8M184.0 240.9h0.8M184.7 224.7h0.8M179.5 234.7h0.8M179.8 220.1h0.8M187.0 229.0h0.8M188.9 222.2h0.8M181.3 236.7h0.8M172.6 227.9h0.8M181.1 235.7h0.8M168.4 233.4h0.8M186.0 218.3h0.8M180.7 237.8h0.8M174.7 218.0h0.8M180.1 227.0h0.8M178.5 228.9h0.8M178.4 232.9h0.8M176.6 230.2h0.8M176.5 223.6h0.8M180.5 223.9h0.8M181.3 230.3h0.8M183.7 235.1h0.8M170.1 230.3h0.8M181.9 231.3h0.8M179.1 239.0h0.8M181.9 219.8h0.8M179.4 238.4h0.8M179.6 220.4h0.8M182.4 235.2h0.8M184.0 231.8h0.8M179.5 237.2h0.8M174.1 244.1h0.8M180.7 232.2h0.8M182.3 236.7h0.8M169.2 237.8h0.8M178.5 224.2h0.8M182.9 237.9h0.8M180.6 225.5h0.8M179.4 222.9h0.8M182.8 243.4h0.8M175.2 226.2h0.8M169.1 228.5h0.8M173.1 231.7h0.8M178.0 230.6h0.8M179.1 226.7h0.8M179.4 229.9h0.8M175.8 228.0h0.8M176.4 220.2h0.8M178.8 215.7h0.8M181.3 230.2h0.8M179.7 239.6h0.8M183.2 227.0h0.8M180.5 239.9h0.8M178.3 233.5h0.8M180.8 222.2h0.8M180.2 227.4h0.8M177.8 233.9h0.8M181.8 223.3h0.8M177.8 228.9h0.8M174.8 233.4h0.8M178.0 224.9h0.8M183.1 229.8h0.8M173.8 229.7h0.8M178.1 232.8h0.8M188.9 234.8h0.8M185.3 229.1h0.8M181.0 234.4h0.8M178.5 232.4h0.8M177.0 236.0h0.8M175.0 244.0h0.8M162.6 219.5h0.8M178.4 233.4h0.8M179.6 217.6h0.8M180.8 223.5h0.8M179.8 227.1h0.8M177.7 218.4h0.8M173.2 226.1h0.8M174.2 232.4h0.8M172.8 232.2h0.8M181.4 224.6h0.8M174.7 227.7h0.8M182.4 241.5h0.8M188.4 231.2h0.8M181.7 232.0h0.8M178.9 222.0h0.8M177.4 239.3h0.8M185.0 225.7h0.8M179.1 234.1h0.8M178.2 216.2h0.8M180.3 222.8h0.8M177.7 225.5h0.8M172.1 226.5h0.8M176.0 236.6h0.8M185.8 224.7h0.8M181.4 228.8h0.8M170.2 239.8h0.8M186.6 223.9h0.8M181.7 226.4h0.8M178.5 226.8h0.8M178.3 230.8h0.8M176.2 232.7h0.8M173.2 236.9h0.8M174.7 215.7h0.8M182.6 227.7h0.8M176.6 237.7h0.8M180.8 219.1h0.8M176.7 225.1h0.8M177.7 243.8h0.8M180.9 234.8h0.8M176.6 230.2h0.8M175.8 228.8h0.8M175.1 221.5h0.8M183.5 221.4h0.8M181.8 222.5h0.8M180.0 235.7h0.8M174.6 223.9h0.8M174.2 234.9h0.8M180.2 238.5h0.8M172.6 223.1h0.8M178.4 226.9h0.8M180.3 239.4h0.8M179.5 224.1h0.8M178.8 224.7h0.8M181.9 245.0h0.8M178.0 229.9h0.8M173.4 232.4h0.8M182.1 236.0h0.8M173.8 231.3h0.8M183.0 226.7h0.8M182.0 226.5h0.8M178.9 225.9h0.8M172.4 223.8h0.8M179.7 228.2h0.8M178.9 225.9h0.8M182.8 229.1h0.8M180.7 226.7h0.8M184.7 229.7h0.8M180.8 218.1h0.8M176.0 233.0h0.8M173.1 218.8h0.8M178.4 217.9h0.8M183.7 233.9h0.8M177.6 240.1h0.8M175.9 221.1h0.8M182.9 230.6h0.8M177.9 238.7h0.8M178.3 235.6h0.8M179.9 239.7h0.8M181.4 226.7h0.8M185.6 227.6h0.8M186.6 220.4h0.8M181.2 241.1h0.8M177.2 234.2h0.8M178.0 241.9h0.8M180.4 233.3h0.8M183.8 218.4h0.8M182.0 231.5h0.8M184.7 230.7h0.8M181.6 230.0h0.8M174.6 226.5h0.8M178.2 219.9h0.8M178.8 226.7h0.8M187.0 228.5h0.8M179.5 231.2h0.8M182.0 217.7h0.8M171.3 243.0h0.8M175.3 223.4h0.8M184.1 232.8h0.8M175.4 236.4h0.8M174.0 243.4h0.8M177.6 233.1h0.8M174.8 229.7h0.8M176.8 232.7h0.8M178.0 234.0h0.8M184.1 221.5h0.8M176.1 240.9h0.8M181.4 238.4h0.8M176.0 223.6h0.8M174.0 228.9h0.8M173.9 236.1h0.8M176.0 234.6h0.8M172.1 237.5h0.8M181.9 238.0h0.8M183.2 230.9h0.8M186.1 227.7h0.8M179.7 243.5h0.8M177.0 230.5h0.8M180.1 232.0h0.8M178.0 238.5h0.8M188.5 227.4h0.8M172.5 226.8h0.8M172.9 220.4h0.8M174.4 238.9h0.8M179.7 236.1h0.8M178.5 238.6h0.8M177.2 240.8h0.8M182.9 232.2h0.8M172.5 221.8h0.8M180.1 222.2h0.8M178.3 229.2h0.8M185.1 225.1h0.8M179.6 226.8h0.8M175.7 234.0h0.8M183.3 219.2h0.8M179.7 234.6h0.8M174.4 227.3h0.8M180.4 229.8h0.8M185.1 223.5h0.8M177.9 234.7h0.8M178.7 228.6h0.8M178.5 233.7h0.8M182.3 222.2h0.8M175.0 221.6h0.8M180.9 215.8h0.8M179.0 234.4h0.8M178.2 228.5h0.8M180.1 224.7h0.8M177.5 230.0h0.8M170.9 235.4h0.8M179.9 234.9h0.8M176.4 236.4h0.8M177.0 236.6h0.8M184.9 235.4h0.8M172.7 231.1h0.8M179.9 220.4h0.8M172.3 241.0h0.8M174.6 233.8h0.8M177.6 229.4h0.8M177.1 230.6h0.8M186.1 223.6h0.8M181.3 234.3h0.8M176.1 221.9h0.8M175.1 235.1h0.8M179.7 238.6h0.8M180.6 231.4h0.8M179.1 232.3h0.8M179.2 235.8h0.8M175.2 239.0h0.8M186.2 229.8h0.8M181.5 221.2h0.8M179.5 219.2h0.8M183.4 230.9h0.8M183.8 239.4h0.8M175.8 236.9h0.8M178.6 234.8h0.8M176.2 235.5h0.8M181.7 242.0h0.8M178.4 231.0h0.8M181.2 229.2h0.8M171.5 226.6h0.8M182.1 230.7h0.8M180.9 218.6h0.8M181.6 234.8h0.8M186.2 237.0h0.8M176.3 224.7h0.8M174.0 226.7h0.8M178.6 240.4h0.8M186.3 231.1h0.8M181.7 229.2h0.8M173.3 234.7h0.8M175.8 217.9h0.8M175.3 242.2h0.8M173.9 241.2h0.8M173.0 230.0h0.8M181.3 227.4h0.8M174.8 230.6h0.8M186.4 235.7h0.8M179.9 235.0h0.8M184.3 241.0h0.8M177.8 223.7h0.8M174.7 231.0h0.8M177.7 230.6h0.8M176.0 241.7h0.8M175.2 224.4h0.8M173.9 222.0h0.8M171.8 224.1h0.8M178.0 236.0h0.8M171.2 234.0h0.8M178.5 230.5h0.8M169.5 234.3h0.8M182.0 239.5h0.8M177.7 240.3h0.8M179.3 223.4h0.8M181.3 238.2h0.8M180.1 230.3h0.8M177.9 235.8h0.8M171.0 232.9h0.8M173.3 226.5h0.8M179.9 240.2h0.8M179.0 223.3h0.8M167.1 229.8h0.8M175.8 225.8h0.8M179.5 220.1h0.8M182.9 231.3h0.8M177.2 232.1h0.8M173.9 232.1h0.8M180.6 239.9h0.8M187.9 225.6h0.8M180.7 224.4h0.8M179.6 239.6h0.8M181.9 228.2h0.8M187.0 237.5h0.8M184.5 231.2h0.8M185.0 229.4h0.8M182.9 230.9h0.8M179.0 218.4h0.8M183.4 235.1h0.8M176.3 231.1h0.8M181.7 235.6h0.8M169.8 242.2h0.8M184.1 231.7h0.8M179.9 232.8h0.8M177.2 242.4h0.8M176.0 226.4h0.8M178.0 218.1h0.8M183.7 221.3h0.8M185.8 238.0h0.8M188.0 225.9h0.8M177.7 227.0h0.8M182.6 223.6h0.8M179.2 232.2h0.8M187.9 224.0h0.8M183.4 235.0h0.8M183.0 221.9h0.8M163.4 226.8h0.8M183.4 231.9h0.8M175.9 227.4h0.8M185.9 217.5h0.8M167.8 232.7h0.8M180.5 242.5h0.8M182.3 230.3h0.8M176.5 216.1h0.8M181.4 225.8h0.8M177.3 233.1h0.8M169.9 229.9h0.8M178.5 239.5h0.8M174.6 218.1h0.8M183.0 227.8h0.8M173.0 239.0h0.8M181.3 217.0h0.8M179.5 219.8h0.8M175.3 241.6h0.8M185.8 236.0h0.8M172.2 237.2h0.8M175.3 226.5h0.8M176.8 239.1h0.8M181.4 235.2h0.8M177.0 226.5h0.8M183.9 225.7h0.8M177.8 235.0h0.8M178.2 238.4h0.8M181.6 235.7h0.8M189.5 226.2h0.8M188.6 220.3h0.8M176.0 224.2h0.8M182.3 240.7h0.8M189.6 226.3h0.8M183.9 229.1h0.8M183.0 223.1h0.8M182.0 225.2h0.8M181.2 222.9h0.8M180.7 219.5h0.8M175.5 231.6h0.8M182.7 220.6h0.8M174.9 217.5h0.8M187.1 232.9h0.8M180.5 227.0h0.8M187.8 235.2h0.8M178.6 240.4h0.8M181.7 228.3h0.8M177.4 230.6h0.8M185.4 219.1h0.8M171.5 236.0h0.8M183.9 242.3h0.8M181.7 218.4h0.8M182.8 231.9h0.8M174.4 217.6h0.8M172.0 231.1h0.8M173.2 233.4h0.8M178.3 235.7h0.8M183.0 223.1h0.8M177.3 236.5h0.8M176.1 238.8h0.8M181.8 237.8h0.8M176.3 236.9h0.8M178.1 232.3h0.8M181.9 226.0h0.8M175.9 235.6h0.8M172.5 228.1h0.8M182.1 234.9h0.8M172.6 233.8h0.8M173.5 239.4h0.8M180.8 225.4h0.8M176.9 229.9h0.8M176.4 240.0h0.8M180.4 225.9h0.8M181.1 219.3h0.8M179.8 227.8h0.8M176.4 230.0h0.8M180.1 218.6h0.8M182.6 225.7h0.8M180.7 244.0h0.8M174.2 244.0h0.8M175.3 239.0h0.8M176.5 240.7h0.8M183.1 233.3h0.8M175.3 239.0h0.8M180.7 221.7h0.8M181.5 229.1h0.8M178.5 222.5h0.8M180.0 237.5h0.8M175.3 237.1h0.8M170.9 231.4h0.8M180.2 222.7h0.8M179.7 219.8h0.8M187.4 233.7h0.8M183.9 222.9h0.8M168.9 229.8h0.8M185.0 229.2h0.8M184.2 233.8h0.8M180.5 239.1h0.8M176.4 227.1h0.8M183.9 234.2h0.8M176.6 221.7h0.8M183.1 229.3h0.8M173.3 233.8h0.8M174.9 236.7h0.8M176.9 230.0h0.8M178.7 242.2h0.8M180.5 229.2h0.8M176.2 238.7h0.8M176.0 233.9h0.8M180.9 236.6h0.8M182.5 232.8h0.8M187.7 236.9h0.8M175.7 223.1h0.8M176.0 241.3h0.8M174.2 243.3h0.8M180.9 225.7h0.8M174.7 229.7h0.8M182.4 229.9h0.8M182.2 231.9h0.8M185.0 226.5h0.8M178.5 221.3h0.8M177.6 222.4h0.8M172.4 228.7h0.8M173.5 219.1h0.8M180.6 235.1h0.8M180.4 229.0h0.8M175.7 232.0h0.8M175.2 228.6h0.8M180.8 228.4h0.8M172.1 238.6h0.8M176.6 226.7h0.8M176.6 230.0h0.8M178.3 233.4h0.8M169.8 229.6h0.8M175.2 232.2h0.8M174.7 231.0h0.8M180.2 230.2h0.8M180.0 235.8h0.8M174.4 230.1h0.8M183.6 238.1h0.8M183.3 223.7h0.8M176.1 238.5h0.8M179.0 232.9h0.8M177.5 237.9h0.8M179.8 222.4h0.8M180.6 227.6h0.8M177.9 235.1h0.8M179.7 225.8h0.8M174.0 226.8h0.8M178.4 220.8h0.8M176.3 231.0h0.8M173.7 227.9h0.8M180.1 231.8h0.8M171.7 230.8h0.8M174.8 239.4h0.8M178.6 243.4h0.8M180.6 221.0h0.8M183.1 226.5h0.8M178.5 231.3h0.8M173.4 240.0h0.8M179.7 222.1h0.8M173.1 234.2h0.8M184.3 233.8h0.8M180.4 227.1h0.8M183.8 234.9h0.8M175.6 225.5h0.8M169.7 239.9h0.8M180.9 236.7h0.8M174.6 223.7h0.8M186.0 237.9h0.8M182.3 229.6h0.8M178.8 231.7h0.8M180.9 225.6h0.8M183.5 244.7h0.8M176.7 222.8h0.8M174.9 241.4h0.8M176.1 224.4h0.8M183.7 229.1h0.8M178.8 236.2h0.8M183.9 232.4h0.8M185.7 225.0h0.8M176.8 236.1h0.8M181.8 216.5h0.8M177.7 236.1h0.8M172.2 232.2h0.8M175.4 217.6h0.8M178.0 230.0h0.8M177.2 225.4h0.8M182.7 222.1h0.8M176.3 219.2h0.8M184.0 218.7h0.8M186.5 223.1h0.8M178.8 243.7h0.8M174.4 241.2h0.8M173.4 226.8h0.8M181.4 233.3h0.8M180.5 233.1h0.8M185.8 217.5h0.8M176.0 237.6h0.8M172.7 225.0h0.8M189.6 241.5h0.8M181.2 231.2h0.8M178.3 223.5h0.8M175.2 222.6h0.8M173.5 231.7h0.8M180.8 223.0h0.8M179.6 219.9h0.8M180.6 228.0h0.8M178.7 232.2h0.8M184.7 232.3h0.8M176.2 231.9h0.8M180.7 234.9h0.8M183.6 224.0h0.8M173.8 235.7h0.8M174.1 234.3h0.8M172.6 224.0h0.8M180.7 228.3h0.8M182.0 232.6h0.8M180.5 235.1h0.8M172.2 239.9h0.8M172.9 223.5h0.8M168.5 230.7h0.8M180.8 227.6h0.8M181.4 221.3h0.8M177.4 232.6h0.8M178.7 234.0h0.8M186.2 236.4h0.8M174.6 230.3h0.8M178.0 223.7h0.8M181.9 227.5h0.8M180.0 235.9h0.8M188.2 225.7h0.8M186.0 233.1h0.8M175.8 232.0h0.8M176.3 227.3h0.8M171.5 228.3h0.8M170.3 238.7h0.8M181.3 227.4h0.8M179.2 231.6h0.8M177.9 233.0h0.8M178.2 234.3h0.8M175.5 231.2h0.8M186.4 224.1h0.8M175.5 238.3h0.8M180.4 231.9h0.8M179.8 227.4h0.8M176.7 234.8h0.8M179.8 235.9h0.8M179.4 242.1h0.8M183.3 224.6h0.8M186.0 226.2h0.8M183.5 224.6h0.8M180.6 232.0h0.8M170.6 238.7h0.8M182.3 226.6h0.8M179.5 216.6h0.8M177.4 225.4h0.8M182.9 232.8h0.8M178.3 240.2h0.8M176.2 236.9h0.8M178.0 234.5h0.8M177.7 242.2h0.8M182.5 224.1h0.8M177.1 241.7h0.8M185.5 221.0h0.8M179.8 235.9h0.8M189.5 236.3h0.8M178.2 238.4h0.8M179.4 223.9h0.8M178.9 229.1h0.8M178.1 231.5h0.8M180.6 224.6h0.8M182.0 218.1h0.8M182.0 234.8h0.8M180.9 218.8h0.8M176.8 232.5h0.8M181.1 237.0h0.8M172.3 231.1h0.8M183.8 221.5h0.8M173.7 227.1h0.8M177.9 228.8h0.8M184.5 233.2h0.8M170.6 237.3h0.8M179.5 237.9h0.8M178.9 242.2h0.8M179.7 227.0h0.8M173.8 238.5h0.8M178.4 216.8h0.8M182.8 241.5h0.8M169.9 235.6h0.8M181.9 244.9h0.8M184.4 225.0h0.8M181.1 237.0h0.8M172.6 242.7h0.8M181.2 237.8h0.8M175.1 237.7h0.8M178.8 228.5h0.8M179.2 233.8h0.8M172.4 231.0h0.8M180.7 218.0h0.8M182.0 231.0h0.8M174.5 222.1h0.8M173.6 238.2h0.8M175.2 232.6h0.8M177.1 238.3h0.8M184.7 238.5h0.8M182.0 239.7h0.8M186.6 224.0h0.8M180.2 225.8h0.8M179.3 229.3h0.8M179.6 236.8h0.8M180.2 239.6h0.8M177.3 243.0h0.8M189.0 231.7h0.8M178.1 235.3h0.8M182.4 219.0h0.8M174.3 232.9h0.8M180.4 221.5h0.8M179.2 241.5h0.8M171.8 235.7h0.8M184.6 220.3h0.8M184.3 234.7h0.8M177.7 231.3h0.8M178.9 231.4h0.8M178.1 225.2h0.8M183.0 244.9h0.8M178.2 242.6h0.8M175.6 220.8h0.8M181.8 233.1h0.8M181.0 223.4h0.8M177.3 239.4h0.8M186.1 233.2h0.8M176.2 241.7h0.8M187.4 224.5h0.8M167.9 235.2h0.8M173.3 227.8h0.8M176.4 228.2h0.8M174.8 236.5h0.8M180.4 220.5h0.8M181.5 232.9h0.8M174.4 232.2h0.8M180.5 225.3h0.8M179.6 227.5h0.8M169.9 220.0h0.8M176.3 226.9h0.8M180.9 244.6h0.8M177.1 232.1h0.8M178.0 217.5h0.8M178.7 229.5h0.8M175.3 237.3h0.8M180.8 228.7h0.8M175.1 233.6h0.8M175.4 224.3h0.8M176.8 238.9h0.8M177.7 229.9h0.8M177.5 236.0h0.8M178.3 237.9h0.8M178.3 238.0h0.8M177.7 225.2h0.8M180.8 229.6h0.8M177.0 242.9h0.8M176.8 224.9h0.8M177.5 242.9h0.8M173.1 240.7h0.8M181.2 228.0h0.8M177.5 225.3h0.8M170.0 223.7h0.8M172.8 218.2h0.8M177.0 236.0h0.8M174.8 228.5h0.8M175.5 229.6h0.8M180.6 241.1h0.8M181.5 234.3h0.8M184.9 237.1h0.8M181.0 235.9h0.8M182.5 222.9h0.8M175.0 232.0h0.8M171.1 229.1h0.8M177.4 233.8h0.8M181.9 241.9h0.8M168.5 233.0h0.8M180.3 242.9h0.8M176.1 234.7h0.8M166.3 224.1h0.8M168.8 239.6h0.8M165.1 232.5h0.8M174.0 230.2h0.8M165.3 234.2h0.8M170.0 235.1h0.8M174.9 235.4h0.8M159.8 218.6h0.8M167.5 228.2h0.8M168.9 236.1h0.8M174.9 221.4h0.8M172.0 233.3h0.8M172.3 240.6h0.8M170.3 225.4h0.8M166.4 240.3h0.8M157.9 238.9h0.8M162.0 226.8h0.8M173.4 229.5h0.8M182.0 216.7h0.8M157.0 235.9h0.8M170.3 225.2h0.8M168.6 224.3h0.8M168.0 227.1h0.8M160.8 237.5h0.8M167.2 232.1h0.8M159.5 226.0h0.8M165.4 226.9h0.8M169.3 232.0h0.8M165.8 230.4h0.8M169.7 240.0h0.8M160.5 239.5h0.8M172.7 238.2h0.8M163.7 233.5h0.8M180.2 220.9h0.8M172.3 229.7h0.8M177.4 232.9h0.8M172.4 226.7h0.8M164.1 244.9h0.8M159.3 227.5h0.8M165.6 221.6h0.8M171.0 221.8h0.8M167.4 229.8h0.8M157.6 232.0h0.8M172.2 234.0h0.8M171.7 230.2h0.8M166.4 236.9h0.8M159.4 223.3h0.8M160.2 233.8h0.8M162.8 237.6h0.8M169.3 231.5h0.8M172.8 229.7h0.8M166.4 234.3h0.8M172.0 225.1h0.8M164.2 225.6h0.8M170.7 235.0h0.8M168.4 221.1h0.8M162.0 219.9h0.8M158.7 225.7h0.8M168.9 235.8h0.8M169.3 244.7h0.8M172.4 219.5h0.8M170.2 233.6h0.8M169.1 225.7h0.8M176.0 232.5h0.8M163.5 216.9h0.8M165.5 220.5h0.8M166.7 239.7h0.8M174.0 237.7h0.8M164.5 222.1h0.8M166.1 232.7h0.8M166.2 229.2h0.8M168.0 219.9h0.8M173.7 222.0h0.8M167.9 224.5h0.8M175.5 227.1h0.8M161.4 228.7h0.8M172.6 221.6h0.8M159.1 227.3h0.8M166.0 239.4h0.8M166.3 216.4h0.8M164.5 236.8h0.8M160.2 229.3h0.8M163.0 234.9h0.8M182.5 232.4h0.8M165.3 228.2h0.8M170.2 238.0h0.8M168.5 234.6h0.8M168.2 221.7h0.8M172.0 238.9h0.8M162.3 217.2h0.8M163.4 233.2h0.8M175.9 233.5h0.8M167.5 233.7h0.8M157.7 228.7h0.8M168.0 237.4h0.8M162.9 228.1h0.8M164.3 235.7h0.8M179.6 233.2h0.8M168.2 224.1h0.8M166.6 243.4h0.8M172.3 227.6h0.8M168.7 224.2h0.8M171.1 230.4h0.8M172.1 242.0h0.8M163.5 238.3h0.8M169.9 227.3h0.8M168.9 241.9h0.8M168.2 239.7h0.8M169.3 242.1h0.8M166.3 228.9h0.8M163.9 244.4h0.8M177.3 227.5h0.8M162.4 234.9h0.8M176.8 225.8h0.8M172.6 227.4h0.8M174.0 235.5h0.8M176.2 230.9h0.8M172.4 221.1h0.8M161.1 235.9h0.8M167.8 238.9h0.8M181.7 226.5h0.8M159.8 222.9h0.8M163.3 241.3h0.8M169.6 229.2h0.8M171.5 230.2h0.8M168.8 231.5h0.8M158.7 238.4h0.8M167.9 226.6h0.8M168.4 225.6h0.8M167.0 228.5h0.8M169.4 223.9h0.8M166.6 228.2h0.8M161.1 231.0h0.8M171.6 237.7h0.8M169.2 230.6h0.8M173.3 229.2h0.8M171.5 217.2h0.8M159.7 225.5h0.8M174.4 229.4h0.8M170.2 222.4h0.8M167.3 226.0h0.8M168.9 229.5h0.8M164.1 218.8h0.8M179.9 220.8h0.8M164.8 234.6h0.8M165.3 233.6h0.8M173.2 226.2h0.8M170.6 230.4h0.8M159.0 233.9h0.8M160.5 240.2h0.8M167.4 233.0h0.8M173.7 224.6h0.8M162.3 243.5h0.8M171.9 235.1h0.8M161.3 226.4h0.8M156.9 217.8h0.8M164.6 234.6h0.8M164.1 230.0h0.8M167.8 242.7h0.8M163.6 232.5h0.8M184.9 231.2h0.8M172.6 221.5h0.8M160.6 227.7h0.8M187.0 226.2h0.8M176.4 227.2h0.8M159.3 215.7h0.8M168.4 240.3h0.8M162.3 228.1h0.8M160.2 225.3h0.8M173.9 226.9h0.8M160.6 236.5h0.8M169.1 231.0h0.8M180.6 233.9h0.8M174.8 221.0h0.8M166.9 242.0h0.8M172.2 239.1h0.8M157.9 229.1h0.8M178.2 243.6h0.8M176.2 238.1h0.8M168.0 238.1h0.8M175.4 223.3h0.8M174.3 238.0h0.8M164.0 244.7h0.8M175.7 238.9h0.8M164.4 233.7h0.8M183.4 224.2h0.8M180.5 235.1h0.8M163.0 225.3h0.8M177.5 234.1h0.8M163.1 229.8h0.8M164.9 230.3h0.8M179.3 225.6h0.8M170.8 239.3h0.8M181.0 226.2h0.8M165.5 228.0h0.8M159.3 231.3h0.8M162.3 229.5h0.8M168.5 237.7h0.8M169.7 235.7h0.8M170.9 230.5h0.8M173.8 232.6h0.8M158.6 226.9h0.8M177.3 217.9h0.8M179.1 232.3h0.8M169.2 241.8h0.8M169.0 227.4h0.8M159.7 237.2h0.8M168.1 223.4h0.8M175.3 238.7h0.8M182.3 233.6h0.8M159.3 232.2h0.8M172.5 238.7h0.8M158.7 235.3h0.8M172.0 234.6h0.8M156.7 227.5h0.8M166.7 229.4h0.8M173.6 228.1h0.8M170.7 224.5h0.8M167.2 240.5h0.8M164.0 231.0h0.8M157.9 221.2h0.8M171.4 241.0h0.8M163.1 229.7h0.8M169.7 227.6h0.8M168.0 227.9h0.8M171.5 226.9h0.8M164.3 219.8h0.8M162.4 218.8h0.8M166.6 239.5h0.8M158.9 224.1h0.8M162.4 235.1h0.8M165.5 228.5h0.8M161.1 229.0h0.8M165.2 224.5h0.8M176.9 235.3h0.8M166.4 233.8h0.8M182.8 236.3h0.8M163.9 230.9h0.8M175.1 235.0h0.8M165.7 232.0h0.8M160.0 228.5h0.8M164.8 229.1h0.8M176.6 231.4h0.8M175.3 231.1h0.8M157.5 241.3h0.8M163.9 230.2h0.8M174.9 242.7h0.8M168.6 241.7h0.8M164.2 236.5h0.8M161.4 239.3h0.8M163.7 236.6h0.8M159.5 243.1h0.8M178.4 229.0h0.8M167.9 223.2h0.8M166.2 219.2h0.8M172.3 230.5h0.8M175.3 231.1h0.8M166.0 224.3h0.8M171.8 230.1h0.8M159.5 218.8h0.8M173.9 230.3h0.8M167.1 226.6h0.8M164.0 231.0h0.8M168.8 221.2h0.8M184.0 238.7h0.8M175.0 225.7h0.8M158.4 235.5h0.8M163.4 231.1h0.8M178.5 231.1h0.8M176.4 224.6h0.8M164.9 236.7h0.8M160.1 227.5h0.8M162.7 225.8h0.8M165.3 232.4h0.8M157.5 223.4h0.8M161.4 240.9h0.8M166.4 218.9h0.8M170.8 238.7h0.8M156.8 221.1h0.8M170.5 231.5h0.8M171.6 244.3h0.8M171.9 239.3h0.8M164.3 242.6h0.8M162.9 233.8h0.8M172.7 223.5h0.8M165.2 220.3h0.8M167.9 227.1h0.8M162.9 228.3h0.8M164.8 231.0h0.8M165.7 240.4h0.8M176.5 229.3h0.8M169.9 223.6h0.8M171.5 235.7h0.8M163.8 221.8h0.8M170.9 234.6h0.8M160.1 234.3h0.8M176.0 223.0h0.8M163.7 222.1h0.8M169.9 224.5h0.8M178.7 235.8h0.8M166.2 227.7h0.8M174.2 227.7h0.8M165.0 231.9h0.8M174.5 242.6h0.8M165.2 221.0h0.8M161.5 229.6h0.8M171.8 234.3h0.8M168.9 218.9h0.8M168.2 226.8h0.8M161.3 235.9h0.8M175.8 232.5h0.8M171.4 239.1h0.8M167.8 227.5h0.8M177.5 225.9h0.8M165.6 233.7h0.8M164.8 223.2h0.8M174.8 230.8h0.8M163.0 226.2h0.8M171.5 237.6h0.8M169.0 240.3h0.8M167.6 243.9h0.8M173.6 221.6h0.8M167.0 233.6h0.8M167.5 222.9h0.8M170.8 230.4h0.8M157.9 220.5h0.8M165.1 238.4h0.8M167.4 232.4h0.8M173.9 229.1h0.8M167.8 230.3h0.8M173.6 225.6h0.8M170.2 225.0h0.8M168.3 239.8h0.8M162.6 234.8h0.8M168.2 232.7h0.8M171.1 231.6h0.8M163.2 222.2h0.8M172.6 234.1h0.8M180.6 225.9h0.8M172.4 226.5h0.8M164.6 226.1h0.8M162.5 223.3h0.8M165.7 229.6h0.8M168.1 237.5h0.8M161.9 230.2h0.8M162.1 237.6h0.8M161.9 228.1h0.8M162.7 239.6h0.8M160.0 221.7h0.8M165.2 228.1h0.8M161.8 240.0h0.8M166.5 220.3h0.8M163.6 226.9h0.8M162.0 227.5h0.8M165.2 235.9h0.8M183.9 225.3h0.8M164.8 240.0h0.8M178.6 237.2h0.8M168.3 240.6h0.8M164.3 221.0h0.8M176.3 223.8h0.8M161.1 232.0h0.8M161.8 236.3h0.8M168.2 229.3h0.8M164.2 242.7h0.8M176.5 240.1h0.8M159.4 244.3h0.8M168.4 244.7h0.8M171.1 225.5h0.8M157.2 225.5h0.8M175.4 227.3h0.8M178.2 220.6h0.8M171.8 230.0h0.8M158.9 234.0h0.8M165.2 228.6h0.8M163.5 229.7h0.8M165.1 232.6h0.8M165.7 241.2h0.8M171.4 239.0h0.8M157.9 232.2h0.8M166.8 236.1h0.8M163.5 232.1h0.8M161.5 228.1h0.8M170.0 226.9h0.8M162.3 229.8h0.8M169.8 234.3h0.8M160.2 227.5h0.8M160.3 222.8h0.8M182.8 240.7h0.8M172.2 228.6h0.8M173.1 243.4h0.8M175.5 236.8h0.8M172.5 237.9h0.8M169.9 234.0h0.8M165.1 217.2h0.8M170.7 236.4h0.8M167.5 237.1h0.8M166.7 230.3h0.8M171.6 217.2h0.8M176.5 227.8h0.8M171.1 235.9h0.8M177.8 244.6h0.8M159.4 223.2h0.8M168.7 217.7h0.8M171.6 230.0h0.8M162.6 237.8h0.8M161.6 225.0h0.8M167.5 238.0h0.8M166.3 228.2h0.8M168.8 228.0h0.8M170.6 239.9h0.8M168.3 234.8h0.8M156.9 219.9h0.8M163.1 241.7h0.8M170.3 227.3h0.8M166.9 224.5h0.8M164.6 233.7h0.8M171.8 227.0h0.8M157.4 240.2h0.8M160.4 236.8h0.8M157.7 223.6h0.8M179.4 232.0h0.8M169.0 233.9h0.8M168.4 222.8h0.8M163.9 227.8h0.8M159.7 225.9h0.8M175.0 233.9h0.8M164.1 228.0h0.8M172.5 226.3h0.8M162.2 228.4h0.8M162.1 237.1h0.8M167.2 239.2h0.8M170.8 229.2h0.8M169.5 219.2h0.8M157.4 234.0h0.8M171.3 229.3h0.8M176.6 232.9h0.8M180.3 237.8h0.8M172.1 237.3h0.8M176.8 235.8h0.8M169.9 233.6h0.8M168.6 235.6h0.8M177.6 218.0h0.8M164.4 219.2h0.8M163.5 233.2h0.8M168.5 234.1h0.8M172.0 234.5h0.8M165.1 230.0h0.8M160.4 227.4h0.8M166.6 234.0h0.8M157.1 239.9h0.8M166.8 218.4h0.8M166.2 235.6h0.8M167.9 227.6h0.8M161.5 232.8h0.8M168.3 233.4h0.8M164.8 240.9h0.8M156.8 215.3h0.8M168.3 237.7h0.8M165.3 234.6h0.8M166.0 240.3h0.8M163.4 235.3h0.8M169.3 218.3h0.8M174.7 226.3h0.8M159.9 225.7h0.8M172.7 227.7h0.8M172.2 223.4h0.8M168.8 217.1h0.8M165.3 241.4h0.8M163.8 232.4h0.8M165.7 234.6h0.8M164.7 222.7h0.8M164.9 228.3h0.8M160.5 229.7h0.8M160.9 227.0h0.8M169.1 232.7h0.8M165.6 234.3h0.8M178.1 233.8h0.8M167.9 230.3h0.8M169.2 236.1h0.8M173.2 234.8h0.8M163.2 230.1h0.8M162.2 241.7h0.8M162.7 218.0h0.8M165.6 224.1h0.8M168.3 232.1h0.8M161.7 218.7h0.8M164.9 220.6h0.8M165.8 232.4h0.8M164.5 232.2h0.8M164.4 244.1h0.8M174.2 221.2h0.8M170.9 229.2h0.8M167.0 219.7h0.8M164.4 229.7h0.8M167.9 228.1h0.8M157.3 240.0h0.8M166.1 221.9h0.8M161.3 233.2h0.8M163.4 236.5h0.8M159.0 232.9h0.8M169.7 235.0h0.8M161.7 223.3h0.8M159.6 231.6h0.8M165.1 240.4h0.8M164.8 241.3h0.8M165.2 238.9h0.8M173.2 233.2h0.8M158.9 234.2h0.8M167.8 228.4h0.8M165.4 236.4h0.8M177.0 225.6h0.8M174.5 227.2h0.8M164.9 228.1h0.8M166.7 224.8h0.8M163.0 229.1h0.8M161.0 230.4h0.8M173.2 224.3h0.8M168.0 224.9h0.8M159.5 230.7h0.8M165.0 238.7h0.8M171.2 231.6h0.8M162.7 241.5h0.8M158.5 224.8h0.8M171.3 234.0h0.8M170.7 229.1h0.8M171.3 240.0h0.8M172.8 222.7h0.8M160.8 233.7h0.8M170.6 230.7h0.8M156.5 232.5h0.8M166.1 227.8h0.8M167.4 226.1h0.8M170.4 228.3h0.8M177.6 232.2h0.8M163.4 218.0h0.8M165.1 230.4h0.8M176.6 233.7h0.8M167.9 223.6h0.8M168.1 223.2h0.8M158.0 234.3h0.8M164.0 220.3h0.8M173.9 240.4h0.8M169.6 217.9h0.8M161.5 223.2h0.8M172.5 229.9h0.8M161.5 219.9h0.8M162.2 232.1h0.8M165.2 234.7h0.8M170.1 221.9h0.8M172.0 231.0h0.8M176.8 229.7h0.8M164.6 229.8h0.8M174.5 234.8h0.8M174.1 238.9h0.8M166.3 229.0h0.8M173.8 221.7h0.8M168.8 238.6h0.8M161.3 215.9h0.8M158.0 239.6h0.8M182.4 223.8h0.8M158.7 220.9h0.8M176.7 236.7h0.8M171.1 225.1h0.8M171.0 225.0h0.8M170.4 224.8h0.8M159.0 227.2h0.8M169.5 233.3h0.8M163.5 237.9h0.8M156.9 215.4h0.8M170.7 229.5h0.8M166.7 227.1h0.8M170.2 232.5h0.8M175.6 223.3h0.8M159.0 229.7h0.8M165.3 228.3h0.8M177.5 233.5h0.8M174.7 235.4h0.8M168.6 233.8h0.8M173.8 234.3h0.8M171.1 230.2h0.8M162.3 233.5h0.8M164.5 235.2h0.8M175.3 242.6h0.8M169.5 222.5h0.8M164.5 221.5h0.8M169.6 230.8h0.8M168.1 216.2h0.8M175.9 234.6h0.8M167.4 227.9h0.8M164.5 224.1h0.8M168.2 237.0h0.8M172.2 218.9h0.8M176.1 229.4h0.8M165.5 233.4h0.8M174.0 231.6h0.8M165.0 232.4h0.8M167.3 223.5h0.8M179.4 242.5h0.8M176.6 223.3h0.8M163.5 219.9h0.8M166.4 241.1h0.8M173.2 231.1h0.8M168.7 234.6h0.8M166.4 222.5h0.8M162.9 243.7h0.8M161.3 221.8h0.8M170.9 228.1h0.8M165.1 232.0h0.8M166.5 217.7h0.8M173.3 232.4h0.8M178.3 237.4h0.8M163.6 227.3h0.8M172.1 225.4h0.8M173.7 232.1h0.8M166.6 243.5h0.8M161.4 244.5h0.8M174.8 226.7h0.8M178.7 234.1h0.8M169.7 227.6h0.8M167.1 227.5h0.8M165.3 237.0h0.8M172.7 240.5h0.8M175.2 230.2h0.8M172.3 228.8h0.8M171.2 235.7h0.8M169.9 224.5h0.8M159.9 244.2h0.8M162.4 225.9h0.8M170.0 227.8h0.8M170.2 241.6h0.8M157.6 231.5h0.8M171.4 219.8h0.8M172.2 242.4h0.8M167.8 234.6h0.8M165.6 238.5h0.8M164.3 230.9h0.8M163.3 225.2h0.8M174.9 230.4h0.8M173.3 218.3h0.8M159.9 223.7h0.8M179.7 240.0h0.8M181.8 227.3h0.8M171.4 233.7h0.8M165.9 235.5h0.8M167.4 234.6h0.8M161.2 244.1h0.8M173.2 223.2h0.8M170.8 226.4h0.8M160.3 223.6h0.8M186.6 231.6h0.8M167.0 240.6h0.8M169.4 222.2h0.8M172.7 224.2h0.8M167.2 231.8h0.8M167.6 226.5h0.8M165.9 228.3h0.8M175.1 232.6h0.8M170.4 230.3h0.8M156.4 235.5h0.8M171.9 222.7h0.8M160.3 226.3h0.8M165.0 226.2h0.8M168.3 240.2h0.8M161.8 218.6h0.8M166.9 236.1h0.8M176.8 238.2h0.8M168.4 231.2h0.8M156.5 236.3h0.8M172.6 230.2h0.8M165.6 234.1h0.8M170.4 234.9h0.8M170.3 218.9h0.8M164.0 217.9h0.8M162.5 229.8h0.8M169.2 225.3h0.8M178.4 232.5h0.8M170.7 224.9h0.8M176.0 228.8h0.8M162.4 229.2h0.8M174.8 224.6h0.8M166.1 237.7h0.8M165.7 237.8h0.8M175.4 227.0h0.8M160.0 221.6h0.8M175.7 235.2h0.8M168.0 227.8h0.8M174.4 227.1h0.8M184.9 233.3h0.8M157.3 239.1h0.8M169.2 230.7h0.8M166.4 240.2h0.8M164.4 243.0h0.8M162.7 237.9h0.8M157.9 238.4h0.8M161.3 228.9h0.8M172.3 224.8h0.8M170.9 230.8h0.8M175.9 237.8h0.8M169.1 229.3h0.8M161.8 241.8h0.8M166.0 221.0h0.8M162.4 216.1h0.8M161.9 227.3h0.8M169.1 237.9h0.8M172.8 216.6h0.8M164.4 235.5h0.8M169.7 230.6h0.8M162.4 236.3h0.8M166.9 228.8h0.8M166.7 229.0h0.8M169.4 239.3h0.8M167.9 225.8h0.8M166.7 229.5h0.8M170.6 236.7h0.8M178.0 237.7h0.8M156.6 224.2h0.8M159.4 233.1h0.8M182.4 234.3h0.8M163.8 241.5h0.8M171.4 224.4h0.8M161.3 242.2h0.8M162.6 235.1h0.8M158.8 230.7h0.8M161.8 217.7h0.8M164.1 226.6h0.8M169.2 217.3h0.8M169.0 227.9h0.8M157.2 240.1h0.8M164.5 234.0h0.8M177.4 233.9h0.8M173.4 232.4h0.8M163.7 232.2h0.8M157.3 234.5h0.8M172.7 234.1h0.8M163.0 221.3h0.8M162.6 228.5h0.8M162.2 231.7h0.8M164.3 231.7h0.8M167.2 230.4h0.8M169.9 226.6h0.8M172.6 232.4h0.8M167.0 230.9h0.8M174.1 230.5h0.8M177.3 231.7h0.8M168.9 230.8h0.8M169.2 234.4h0.8M163.3 236.9h0.8M183.8 234.9h0.8M168.1 224.5h0.8M162.4 224.4h0.8M169.0 225.4h0.8M177.6 227.4h0.8M161.6 223.7h0.8M166.7 229.6h0.8M173.3 225.1h0.8M169.5 238.1h0.8M165.5 217.2h0.8M168.8 238.7h0.8M169.8 230.8h0.8M166.1 221.5h0.8M165.2 231.9h0.8M167.6 223.7h0.8M182.8 240.4h0.8M173.7 235.7h0.8M164.7 221.6h0.8M159.1 239.1h0.8M167.8 243.4h0.8M170.3 226.5h0.8M173.0 225.6h0.8M165.5 234.8h0.8M168.3 232.9h0.8M168.7 238.8h0.8M179.8 225.6h0.8M167.0 233.3h0.8M162.3 226.8h0.8M168.9 230.8h0.8M172.5 228.8h0.8M163.0 219.4h0.8M156.4 232.8h0.8M169.3 227.5h0.8M171.4 221.4h0.8M165.1 228.9h0.8M162.4 228.5h0.8M167.3 236.3h0.8M172.6 223.3h0.8M170.4 227.5h0.8M173.0 226.2h0.8M174.2 223.7h0.8M164.2 237.3h0.8M173.8 237.5h0.8M180.1 238.7h0.8M167.2 238.0h0.8M161.9 237.0h0.8M169.8 229.5h0.8M162.6 239.0h0.8M158.2 228.0h0.8M164.4 224.3h0.8M163.3 232.9h0.8M180.0 244.3h0.8M182.3 226.4h0.8M191.9 223.2h0.8M166.9 237.3h0.8M179.7 241.6h0.8M188.6 218.3h0.8M188.1 233.5h0.8M185.3 219.0h0.8M166.6 244.3h0.8M194.1 243.8h0.8M192.3 229.5h0.8M189.1 238.6h0.8M178.3 239.7h0.8M187.6 231.3h0.8M189.8 232.2h0.8M173.6 241.9h0.8M178.8 227.6h0.8M156.5 216.9h0.8M191.3 229.0h0.8M183.4 226.8h0.8M191.9 224.6h0.8M166.9 217.0h0.8M175.0 232.2h0.8M201.7 234.2h0.8M176.5 219.3h0.8M194.4 233.6h0.8M183.9 234.6h0.8M191.6 233.7h0.8M200.4 217.6h0.8M176.8 225.5h0.8M188.8 233.0h0.8M194.0 227.9h0.8M194.6 228.1h0.8M193.6 234.1h0.8M200.1 217.8h0.8M173.6 223.8h0.8M174.7 232.7h0.8M196.1 227.0h0.8M197.4 236.7h0.8M177.6 234.9h0.8M201.7 226.0h0.8" stroke="#000" stroke-width="0.8" fill="none" opacity="1.0"/>
<rect x="122.6" y="151.5" width="88.80000000000001" height="93.9" fill="none" stroke="#000" stroke-width="1"/>
<line x1="155.4" y1="151.5" x2="155.4" y2="245.4" stroke="#000" stroke-width="0.9"/>
<line x1="122.6" y1="214.6" x2="211.4" y2="214.6" stroke="#000" stroke-width="0.9"/>
<line x1="122.60" y1="245.4" x2="122.60" y2="248.40" stroke="#000" stroke-width="0.7"/>
<line x1="119.60" y1="245.40" x2="122.6" y2="245.40" stroke="#000" stroke-width="0.7"/>
<line x1="129.28" y1="245.4" x2="129.28" y2="246.90" stroke="#000" stroke-width="0.7"/>
<line x1="121.10" y1="238.33" x2="122.6" y2="238.33" stroke="#000" stroke-width="0.7"/>
<line x1="133.19" y1="245.4" x2="133.19" y2="246.90" stroke="#000" stroke-width="0.7"/>
<line x1="121.10" y1="234.20" x2="122.6" y2="234.20" stroke="#000" stroke-width="0.7"/>
<line x1="135.97" y1="245.4" x2="135.97" y2="246.90" stroke="#000" stroke-width="0.7"/>
<line x1="121.10" y1="231.27" x2="122.6" y2="231.27" stroke="#000" stroke-width="0.7"/>
<line x1="138.12" y1="245.4" x2="138.12" y2="246.90" stroke="#000" stroke-width="0.7"/>
<line x1="121.10" y1="228.99" x2="122.6" y2="228.99" stroke="#000" stroke-width="0.7"/>
<line x1="139.87" y1="245.4" x2="139.87" y2="246.90" stroke="#000" stroke-width="0.7"/>
<line x1="121.10" y1="227.13" x2="122.6" y2="227.13" stroke="#000" stroke-width="0.7"/>
<line x1="141.36" y1="245.4" x2="141.36" y2="246.90" stroke="#000" stroke-width="0.7"/>
<line x1="121.10" y1="225.56" x2="122.6" y2="225.56" stroke="#000" stroke-width="0.7"/>
<line x1="142.65" y1="245.4" x2="142.65" y2="246.90" stroke="#000" stroke-width="0.7"/>
<line x1="121.10" y1="224.20" x2="122.6" y2="224.20" stroke="#000" stroke-width="0.7"/>
<line x1="143.78" y1="245.4" x2="143.78" y2="246.90" stroke="#000" stroke-width="0.7"/>
<line x1="121.10" y1="223.00" x2="122.6" y2="223.00" stroke="#000" stroke-width="0.7"/>
<line x1="144.80" y1="245.4" x2="144.80" y2="248.40" stroke="#000" stroke-width="0.7"/>
<line x1="119.60" y1="221.93" x2="122.6" y2="221.93" stroke="#000" stroke-width="0.7"/>
<line x1="151.48" y1="245.4" x2="151.48" y2="246.90" stroke="#000" stroke-width="0.7"/>
<line x1="121.10" y1="214.86" x2="122.6" y2="214.86" stroke="#000" stroke-width="0.7"/>
<line x1="155.39" y1="245.4" x2="155.39" y2="246.90" stroke="#000" stroke-width="0.7"/>
<line x1="121.10" y1="210.72" x2="122.6" y2="210.72" stroke="#000" stroke-width="0.7"/>
<line x1="158.17" y1="245.4" x2="158.17" y2="246.90" stroke="#000" stroke-width="0.7"/>
<line x1="121.10" y1="207.79" x2="122.6" y2="207.79" stroke="#000" stroke-width="0.7"/>
<line x1="160.32" y1="245.4" x2="160.32" y2="246.90" stroke="#000" stroke-width="0.7"/>
<line x1="121.10" y1="205.52" x2="122.6" y2="205.52" stroke="#000" stroke-width="0.7"/>
<line x1="162.07" y1="245.4" x2="162.07" y2="246.90" stroke="#000" stroke-width="0.7"/>
<line x1="121.10" y1="203.66" x2="122.6" y2="203.66" stroke="#000" stroke-width="0.7"/>
<line x1="163.56" y1="245.4" x2="163.56" y2="246.90" stroke="#000" stroke-width="0.7"/>
<line x1="121.10" y1="202.09" x2="122.6" y2="202.09" stroke="#000" stroke-width="0.7"/>
<line x1="164.85" y1="245.4" x2="164.85" y2="246.90" stroke="#000" stroke-width="0.7"/>
<line x1="121.10" y1="200.72" x2="122.6" y2="200.72" stroke="#000" stroke-width="0.7"/>
<line x1="165.98" y1="245.4" x2="165.98" y2="246.90" stroke="#000" stroke-width="0.7"/>
<line x1="121.10" y1="199.52" x2="122.6" y2="199.52" stroke="#000" stroke-width="0.7"/>
<line x1="167.00" y1="245.4" x2="167.00" y2="248.40" stroke="#000" stroke-width="0.7"/>
<line x1="119.60" y1="198.45" x2="122.6" y2="198.45" stroke="#000" stroke-width="0.7"/>
<line x1="173.68" y1="245.4" x2="173.68" y2="246.90" stroke="#000" stroke-width="0.7"/>
<line x1="121.10" y1="191.38" x2="122.6" y2="191.38" stroke="#000" stroke-width="0.7"/>
<line x1="177.59" y1="245.4" x2="177.59" y2="246.90" stroke="#000" stroke-width="0.7"/>
<line x1="121.10" y1="187.25" x2="122.6" y2="187.25" stroke="#000" stroke-width="0.7"/>
<line x1="180.37" y1="245.4" x2="180.37" y2="246.90" stroke="#000" stroke-width="0.7"/>
<line x1="121.10" y1="184.32" x2="122.6" y2="184.32" stroke="#000" stroke-width="0.7"/>
<line x1="182.52" y1="245.4" x2="182.52" y2="246.90" stroke="#000" stroke-width="0.7"/>
<line x1="121.10" y1="182.04" x2="122.6" y2="182.04" stroke="#000" stroke-width="0.7"/>
<line x1="184.27" y1="245.4" x2="184.27" y2="246.90" stroke="#000" stroke-width="0.7"/>
<line x1="121.10" y1="180.18" x2="122.6" y2="180.18" stroke="#000" stroke-width="0.7"/>
<line x1="185.76" y1="245.4" x2="185.76" y2="246.90" stroke="#000" stroke-width="0.7"/>
<line x1="121.10" y1="178.61" x2="122.6" y2="178.61" stroke="#000" stroke-width="0.7"/>
<line x1="187.05" y1="245.4" x2="187.05" y2="246.90" stroke="#000" stroke-width="0.7"/>
<line x1="121.10" y1="177.25" x2="122.6" y2="177.25" stroke="#000" stroke-width="0.7"/>
<line x1="188.18" y1="245.4" x2="188.18" y2="246.90" stroke="#000" stroke-width="0.7"/>
<line x1="121.10" y1="176.05" x2="122.6" y2="176.05" stroke="#000" stroke-width="0.7"/>
<line x1="189.20" y1="245.4" x2="189.20" y2="248.40" stroke="#000" stroke-width="0.7"/>
<line x1="119.60" y1="174.97" x2="122.6" y2="174.97" stroke="#000" stroke-width="0.7"/>
<line x1="195.88" y1="245.4" x2="195.88" y2="246.90" stroke="#000" stroke-width="0.7"/>
<line x1="121.10" y1="167.91" x2="122.6" y2="167.91" stroke="#000" stroke-width="0.7"/>
<line x1="199.79" y1="245.4" x2="199.79" y2="246.90" stroke="#000" stroke-width="0.7"/>
<line x1="121.10" y1="163.77" x2="122.6" y2="163.77" stroke="#000" stroke-width="0.7"/>
<line x1="202.57" y1="245.4" x2="202.57" y2="246.90" stroke="#000" stroke-width="0.7"/>
<line x1="121.10" y1="160.84" x2="122.6" y2="160.84" stroke="#000" stroke-width="0.7"/>
<line x1="204.72" y1="245.4" x2="204.72" y2="246.90" stroke="#000" stroke-width="0.7"/>
<line x1="121.10" y1="158.57" x2="122.6" y2="158.57" stroke="#000" stroke-width="0.7"/>
<line x1="206.47" y1="245.4" x2="206.47" y2="246.90" stroke="#000" stroke-width="0.7"/>
<line x1="121.10" y1="156.71" x2="122.6" y2="156.71" stroke="#000" stroke-width="0.7"/>
<line x1="207.96" y1="245.4" x2="207.96" y2="246.90" stroke="#000" stroke-width="0.7"/>
<line x1="121.10" y1="155.14" x2="122.6" y2="155.14" stroke="#000" stroke-width="0.7"/>
<line x1="209.25" y1="245.4" x2="209.25" y2="246.90" stroke="#000" stroke-width="0.7"/>
<line x1="121.10" y1="153.77" x2="122.6" y2="153.77" stroke="#000" stroke-width="0.7"/>
<line x1="210.38" y1="245.4" x2="210.38" y2="246.90" stroke="#000" stroke-width="0.7"/>
<line x1="121.10" y1="152.57" x2="122.6" y2="152.57" stroke="#000" stroke-width="0.7"/>
<line x1="211.4" y1="245.4" x2="211.4" y2="248.4" stroke="#000" stroke-width="0.7"/>
<line x1="119.6" y1="151.5" x2="122.6" y2="151.5" stroke="#000" stroke-width="0.7"/>
<text transform="translate(123.4,257.4) scale(0.74,1)" font-size="7.8" font-weight="bold" stroke="#000" stroke-width="0.15" text-anchor="middle">10<tspan dx="0.6" dy="-4.2" font-size="7.2">0</tspan></text>
<text transform="translate(118.9,244.6) rotate(-90) scale(0.74,1)" font-size="7.8" font-weight="bold" stroke="#000" stroke-width="0.15" text-anchor="middle">10<tspan dx="0.6" dy="-4.6" font-size="7.2">0</tspan></text>
<text transform="translate(145.2,257.4) scale(0.74,1)" font-size="7.8" font-weight="bold" stroke="#000" stroke-width="0.15" text-anchor="middle">10<tspan dx="0.6" dy="-4.2" font-size="7.2">1</tspan></text>
<text transform="translate(118.9,221.1) rotate(-90) scale(0.74,1)" font-size="7.8" font-weight="bold" stroke="#000" stroke-width="0.15" text-anchor="middle">10<tspan dx="0.6" dy="-4.6" font-size="7.2">1</tspan></text>
<text transform="translate(166.9,257.4) scale(0.74,1)" font-size="7.8" font-weight="bold" stroke="#000" stroke-width="0.15" text-anchor="middle">10<tspan dx="0.6" dy="-4.2" font-size="7.2">2</tspan></text>
<text transform="translate(118.9,197.6) rotate(-90) scale(0.74,1)" font-size="7.8" font-weight="bold" stroke="#000" stroke-width="0.15" text-anchor="middle">10<tspan dx="0.6" dy="-4.6" font-size="7.2">2</tspan></text>
<text transform="translate(188.7,257.4) scale(0.74,1)" font-size="7.8" font-weight="bold" stroke="#000" stroke-width="0.15" text-anchor="middle">10<tspan dx="0.6" dy="-4.2" font-size="7.2">3</tspan></text>
<text transform="translate(118.9,174.2) rotate(-90) scale(0.74,1)" font-size="7.8" font-weight="bold" stroke="#000" stroke-width="0.15" text-anchor="middle">10<tspan dx="0.6" dy="-4.6" font-size="7.2">3</tspan></text>
<text transform="translate(210.4,257.4) scale(0.74,1)" font-size="7.8" font-weight="bold" stroke="#000" stroke-width="0.15" text-anchor="middle">10<tspan dx="0.6" dy="-4.2" font-size="7.2">4</tspan></text>
<text transform="translate(118.9,150.7) rotate(-90) scale(0.74,1)" font-size="7.8" font-weight="bold" stroke="#000" stroke-width="0.15" text-anchor="middle">10<tspan dx="0.6" dy="-4.6" font-size="7.2">4</tspan></text>
<text transform="translate(166.0,264.1) scale(0.86,1)" font-size="6.5" font-weight="bold" text-anchor="middle" letter-spacing="0.3">FL1-H</text>
<text transform="translate(107.3,195.7) rotate(-90) scale(0.86,1)" font-size="6.1" font-weight="bold" text-anchor="middle" letter-spacing="0.3">FL2-H</text>
<text transform="translate(139.5,168.2) scale(0.95,1)" font-size="16.2" font-weight="bold" text-anchor="middle" stroke="#000" stroke-width="0.35">2</text>
<text transform="translate(198.8,168.2) scale(0.95,1)" font-size="16.2" font-weight="bold" text-anchor="middle" stroke="#000" stroke-width="0.35">12</text>
<text transform="translate(200.5,236.7) scale(0.95,1)" font-size="16.2" font-weight="bold" text-anchor="middle" stroke="#000" stroke-width="0.35">72</text>
<text x="250.9" y="17.8" font-size="25" font-weight="bold" text-anchor="start" >B</text>
<line x1="316.4" y1="74.0" x2="316.4" y2="247.29999999999998" stroke="#000" stroke-width="1.4"/>
<line x1="315.9" y1="245.1" x2="513.6" y2="245.1" stroke="#000" stroke-width="1.3"/>
<line x1="312.5" y1="245.10" x2="316.4" y2="245.10" stroke="#000" stroke-width="1.2"/>
<text x="310.6" y="249.50" font-size="12.2" font-weight="normal" text-anchor="end" stroke="#000" stroke-width="0.25">0</text>
<line x1="312.5" y1="211.00" x2="316.4" y2="211.00" stroke="#000" stroke-width="1.2"/>
<text x="310.6" y="215.40" font-size="12.2" font-weight="normal" text-anchor="end" stroke="#000" stroke-width="0.25">20</text>
<line x1="312.5" y1="176.90" x2="316.4" y2="176.90" stroke="#000" stroke-width="1.2"/>
<text x="310.6" y="181.30" font-size="12.2" font-weight="normal" text-anchor="end" stroke="#000" stroke-width="0.25">40</text>
<line x1="312.5" y1="142.80" x2="316.4" y2="142.80" stroke="#000" stroke-width="1.2"/>
<text x="310.6" y="147.20" font-size="12.2" font-weight="normal" text-anchor="end" stroke="#000" stroke-width="0.25">60</text>
<line x1="312.5" y1="108.70" x2="316.4" y2="108.70" stroke="#000" stroke-width="1.2"/>
<text x="310.6" y="113.10" font-size="12.2" font-weight="normal" text-anchor="end" stroke="#000" stroke-width="0.25">80</text>
<line x1="312.5" y1="74.60" x2="316.4" y2="74.60" stroke="#000" stroke-width="1.2"/>
<text x="310.6" y="79.00" font-size="12.2" font-weight="normal" text-anchor="end" stroke="#000" stroke-width="0.25">100</text>
<line x1="382.6" y1="244.79999999999998" x2="382.6" y2="247.7" stroke="#000" stroke-width="1"/>
<line x1="448.1" y1="244.79999999999998" x2="448.1" y2="247.7" stroke="#000" stroke-width="1"/>
<line x1="513" y1="244.79999999999998" x2="513" y2="247.7" stroke="#000" stroke-width="1"/>
<polyline points="349.2,81.4 415.0,86.5 480.8,107.0" fill="none" stroke="#000" stroke-width="1"/>
<polyline points="349.2,165.0 415.0,175.2 480.8,176.9" fill="none" stroke="#000" stroke-width="1"/>
<polyline points="349.2,176.9 415.0,199.1 480.8,209.5" fill="none" stroke="#000" stroke-width="1"/>
<polyline points="349.2,199.1 415.0,211.0 480.8,213.4" fill="none" stroke="#000" stroke-width="1"/>
<circle cx="349.2" cy="176.9" r="5.3" fill="#fff" stroke="#444" stroke-width="0.9"/>
<circle cx="415.0" cy="199.1" r="5.3" fill="#fff" stroke="#444" stroke-width="0.9"/>
<circle cx="480.8" cy="209.5" r="5.3" fill="#fff" stroke="#444" stroke-width="0.9"/>
<rect x="343.60" y="193.47" width="11.20" height="11.20" fill="#fff" stroke="#666" stroke-width="0.9"/>
<rect x="409.40" y="205.40" width="11.20" height="11.20" fill="#fff" stroke="#666" stroke-width="0.9"/>
<rect x="475.20" y="207.79" width="11.20" height="11.20" fill="#fff" stroke="#666" stroke-width="0.9"/>
<rect x="343.60" y="159.36" width="11.20" height="11.20" fill="#000" stroke="#000" stroke-width="0.5"/>
<rect x="409.40" y="169.59" width="11.20" height="11.20" fill="#000" stroke="#000" stroke-width="0.5"/>
<rect x="475.20" y="171.30" width="11.20" height="11.20" fill="#000" stroke="#000" stroke-width="0.5"/>
<circle cx="349.2" cy="81.4" r="5.8" fill="#000"/>
<circle cx="415.0" cy="86.5" r="5.8" fill="#000"/>
<circle cx="480.8" cy="107.0" r="5.8" fill="#000"/>
<text x="349.6" y="262.7" font-size="15.6" font-weight="normal" text-anchor="middle" stroke="#000" stroke-width="0.3">40:1</text>
<text x="416.3" y="262.7" font-size="15.6" font-weight="normal" text-anchor="middle" stroke="#000" stroke-width="0.3">20:1</text>
<text x="480.9" y="262.7" font-size="15.6" font-weight="normal" text-anchor="middle" stroke="#000" stroke-width="0.3">10:1</text>
<text x="415.7" y="284.6" font-size="15.6" font-weight="bold" text-anchor="middle" >E:T</text>
<text transform="translate(288.7,214.8) rotate(-90)" font-size="16.1" font-weight="bold">% <tspan dy="-5.3" font-size="9">51</tspan><tspan dy="5.3">Cr-release</tspan></text>
<text x="77.6" y="330.1" font-size="25" font-weight="bold" text-anchor="start" >C</text>
<line x1="139.9" y1="339.6" x2="139.9" y2="494.3" stroke="#000" stroke-width="2.1"/>
<line x1="138.9" y1="489.3" x2="441.8" y2="489.3" stroke="#000" stroke-width="1.8"/>
<line x1="135.3" y1="489.70" x2="139.9" y2="489.70" stroke="#000" stroke-width="1.3"/>
<text x="131.5" y="493.70" font-size="10.9" font-weight="bold" text-anchor="end" >0</text>
<line x1="135.3" y1="459.80" x2="139.9" y2="459.80" stroke="#000" stroke-width="1.3"/>
<text x="131.5" y="463.80" font-size="10.9" font-weight="bold" text-anchor="end" >20</text>
<line x1="135.3" y1="429.90" x2="139.9" y2="429.90" stroke="#000" stroke-width="1.3"/>
<text x="131.5" y="433.90" font-size="10.9" font-weight="bold" text-anchor="end" >40</text>
<line x1="135.3" y1="400.00" x2="139.9" y2="400.00" stroke="#000" stroke-width="1.3"/>
<text x="131.5" y="404.00" font-size="10.9" font-weight="bold" text-anchor="end" >60</text>
<line x1="135.3" y1="370.10" x2="139.9" y2="370.10" stroke="#000" stroke-width="1.3"/>
<text x="131.5" y="374.10" font-size="10.9" font-weight="bold" text-anchor="end" >80</text>
<line x1="135.3" y1="340.20" x2="139.9" y2="340.20" stroke="#000" stroke-width="1.3"/>
<text x="131.5" y="344.20" font-size="10.9" font-weight="bold" text-anchor="end" >100</text>
<line x1="215.4" y1="489.7" x2="215.4" y2="494.3" stroke="#000" stroke-width="1.3"/>
<line x1="290.3" y1="489.7" x2="290.3" y2="494.3" stroke="#000" stroke-width="1.3"/>
<line x1="365.9" y1="489.7" x2="365.9" y2="494.3" stroke="#000" stroke-width="1.3"/>
<line x1="441.2" y1="489.7" x2="441.2" y2="494.3" stroke="#000" stroke-width="1.3"/>
<line x1="290.0" y1="338.2" x2="290.0" y2="489.7" stroke="#000" stroke-width="2.0"/>
<rect x="152.30" y="441.41" width="17.20" height="48.29" fill="#000" stroke="#000" stroke-width="1.3"/>
<rect x="186.60" y="401.05" width="16.60" height="88.65" fill="#fff" stroke="#000" stroke-width="1.3"/>
<rect x="227.50" y="439.92" width="17.40" height="49.78" fill="#000" stroke="#000" stroke-width="1.3"/>
<rect x="261.60" y="402.54" width="16.80" height="87.16" fill="#fff" stroke="#000" stroke-width="1.3"/>
<rect x="303.00" y="426.61" width="16.60" height="63.09" fill="#000" stroke="#000" stroke-width="1.3"/>
<rect x="336.80" y="417.94" width="16.40" height="71.76" fill="#fff" stroke="#000" stroke-width="1.3"/>
<rect x="378.40" y="396.56" width="16.90" height="93.14" fill="#000" stroke="#000" stroke-width="1.3"/>
<rect x="412.20" y="357.69" width="16.40" height="132.01" fill="#fff" stroke="#000" stroke-width="1.3"/>
<text x="179.7" y="352.7" font-size="15.5" font-weight="bold">KIR2DL1<tspan dx="1" dy="-6.0" font-size="8.5">+</tspan></text>
<text x="312.3" y="352.3" font-size="15.8" font-weight="bold">KIR2DL1<tspan dx="0.6" dy="-6.0" font-size="8.5">+</tspan><tspan dy="6.0">/ S2</tspan><tspan dx="0.6" dy="-6.0" font-size="8.5">+</tspan></text>
<text x="177.9" y="513.4" font-size="14.9" font-weight="bold" text-anchor="middle" >9D-10</text>
<text x="253.4" y="513.4" font-size="14.9" font-weight="bold" text-anchor="middle" >9R-129</text>
<text x="328.9" y="513.4" font-size="14.9" font-weight="bold" text-anchor="middle" >9D-6</text>
<text x="403.7" y="513.4" font-size="14.9" font-weight="bold" text-anchor="middle" >9R-31</text>
<text transform="translate(112.8,470) rotate(-90)" font-size="15.9" font-weight="bold">% <tspan dy="-5.3" font-size="9">51</tspan><tspan dy="5.3">Cr-release</tspan></text>
<defs><pattern id="hat" width="3.5" height="3.5" patternUnits="userSpaceOnUse" patternTransform="rotate(-42)"><rect width="3.5" height="3.5" fill="#fff"/><rect width="3.5" height="1.6" fill="#000"/></pattern></defs>
<text x="63.2" y="558.1" font-size="25" font-weight="bold" text-anchor="start" >D</text>
<line x1="119.9" y1="568.9" x2="119.9" y2="726.1" stroke="#000" stroke-width="2.1"/>
<line x1="119.30000000000001" y1="724.6999999999999" x2="251.6" y2="724.6999999999999" stroke="#000" stroke-width="2.5"/>
<line x1="115.30000000000001" y1="725.40" x2="119.9" y2="725.40" stroke="#000" stroke-width="1.2"/>
<text x="113.5" y="729.70" font-size="12.2" font-weight="normal" text-anchor="end" stroke="#000" stroke-width="0.35">0</text>
<line x1="115.30000000000001" y1="686.42" x2="119.9" y2="686.42" stroke="#000" stroke-width="1.2"/>
<text x="113.5" y="690.72" font-size="12.2" font-weight="normal" text-anchor="end" stroke="#000" stroke-width="0.35">20</text>
<line x1="115.30000000000001" y1="647.44" x2="119.9" y2="647.44" stroke="#000" stroke-width="1.2"/>
<text x="113.5" y="651.74" font-size="12.2" font-weight="normal" text-anchor="end" stroke="#000" stroke-width="0.35">40</text>
<line x1="115.30000000000001" y1="608.46" x2="119.9" y2="608.46" stroke="#000" stroke-width="1.2"/>
<text x="113.5" y="612.76" font-size="12.2" font-weight="normal" text-anchor="end" stroke="#000" stroke-width="0.35">60</text>
<line x1="115.30000000000001" y1="569.48" x2="119.9" y2="569.48" stroke="#000" stroke-width="1.2"/>
<text x="113.5" y="573.78" font-size="12.2" font-weight="normal" text-anchor="end" stroke="#000" stroke-width="0.35">80</text>
<line x1="185.4" y1="568.9" x2="185.4" y2="730.3" stroke="#000" stroke-width="1.9"/>
<line x1="251.3" y1="568.9" x2="251.3" y2="725.4" stroke="#000" stroke-width="1.9"/>
<rect x="131.00" y="707.27" width="14.80" height="18.13" fill="#fff" stroke="#000" stroke-width="1.3"/>
<rect x="145.80" y="621.32" width="14.70" height="104.08" fill="#999" stroke="#000" stroke-width="1.3"/>
<rect x="160.50" y="612.36" width="15.00" height="113.04" fill="#000" stroke="#000" stroke-width="1.3"/>
<rect x="197.00" y="627.37" width="14.60" height="98.03" fill="#fff" stroke="#000" stroke-width="1.3"/>
<rect x="211.60" y="626.20" width="14.20" height="99.20" fill="#999" stroke="#000" stroke-width="1.3"/>
<rect x="225.80" y="620.15" width="15.00" height="105.25" fill="#000" stroke="#000" stroke-width="1.3"/>
<text x="151.6" y="747.4" font-size="15.5" font-weight="bold" text-anchor="middle" >Cw4</text>
<text x="218.3" y="747.4" font-size="15.5" font-weight="bold" text-anchor="middle" >Cw3</text>
<text transform="translate(90.3,702) rotate(-90)" font-size="16" font-weight="bold">% <tspan dy="-5.3" font-size="9">51</tspan><tspan dy="5.3">Cr-release</tspan></text>
<text x="286.4" y="558.3" font-size="25" font-weight="bold" text-anchor="start" >E</text>
<line x1="338.3" y1="570.0" x2="338.3" y2="726.4000000000001" stroke="#000" stroke-width="2.2"/>
<line x1="337.7" y1="725.4000000000001" x2="470.6" y2="725.4000000000001" stroke="#000" stroke-width="2.4"/>
<line x1="333.90000000000003" y1="725.70" x2="338.3" y2="725.70" stroke="#000" stroke-width="1.2"/>
<text x="331.4" y="730.50" font-size="12.1" font-weight="normal" text-anchor="end" stroke="#000" stroke-width="0.35">0</text>
<line x1="333.90000000000003" y1="687.00" x2="338.3" y2="687.00" stroke="#000" stroke-width="1.2"/>
<text x="331.4" y="691.80" font-size="12.1" font-weight="normal" text-anchor="end" stroke="#000" stroke-width="0.35">20</text>
<line x1="333.90000000000003" y1="648.30" x2="338.3" y2="648.30" stroke="#000" stroke-width="1.2"/>
<text x="331.4" y="653.10" font-size="12.1" font-weight="normal" text-anchor="end" stroke="#000" stroke-width="0.35">40</text>
<line x1="333.90000000000003" y1="609.60" x2="338.3" y2="609.60" stroke="#000" stroke-width="1.2"/>
<text x="331.4" y="614.40" font-size="12.1" font-weight="normal" text-anchor="end" stroke="#000" stroke-width="0.35">60</text>
<line x1="333.90000000000003" y1="570.90" x2="338.3" y2="570.90" stroke="#000" stroke-width="1.2"/>
<text x="331.4" y="575.70" font-size="12.1" font-weight="normal" text-anchor="end" stroke="#000" stroke-width="0.35">80</text>
<line x1="404.6" y1="570.4" x2="404.6" y2="731.5" stroke="#000" stroke-width="1.7"/>
<line x1="470.3" y1="570.4" x2="470.3" y2="725.7" stroke="#000" stroke-width="1.7"/>
<rect x="347.60" y="707.90" width="11.90" height="17.80" fill="#fff" stroke="#000" stroke-width="1.3"/>
<rect x="359.50" y="605.73" width="12.20" height="119.97" fill="#999" stroke="#000" stroke-width="1.3"/>
<rect x="371.70" y="707.90" width="12.20" height="17.80" fill="url(#hat)" stroke="#000" stroke-width="1.3"/>
<rect x="383.90" y="593.73" width="12.10" height="131.97" fill="#000" stroke="#000" stroke-width="1.3"/>
<rect x="413.90" y="619.28" width="11.90" height="106.42" fill="#fff" stroke="#000" stroke-width="1.3"/>
<rect x="425.80" y="625.08" width="11.60" height="100.62" fill="#999" stroke="#000" stroke-width="1.3"/>
<rect x="437.40" y="619.28" width="11.80" height="106.42" fill="url(#hat)" stroke="#000" stroke-width="1.3"/>
<rect x="449.20" y="605.73" width="11.90" height="119.97" fill="#000" stroke="#000" stroke-width="1.3"/>
<text x="370.7" y="747.4" font-size="15.8" font-weight="bold" text-anchor="middle" >Cw4</text>
<text x="436.2" y="747.4" font-size="15.6" font-weight="bold" text-anchor="middle" >Cw3</text>
<text transform="translate(311.2,702) rotate(-90)" font-size="16" font-weight="bold">% <tspan dy="-5.3" font-size="9">51</tspan><tspan dy="5.3">Cr-release</tspan></text>
</svg>
</body></html>
